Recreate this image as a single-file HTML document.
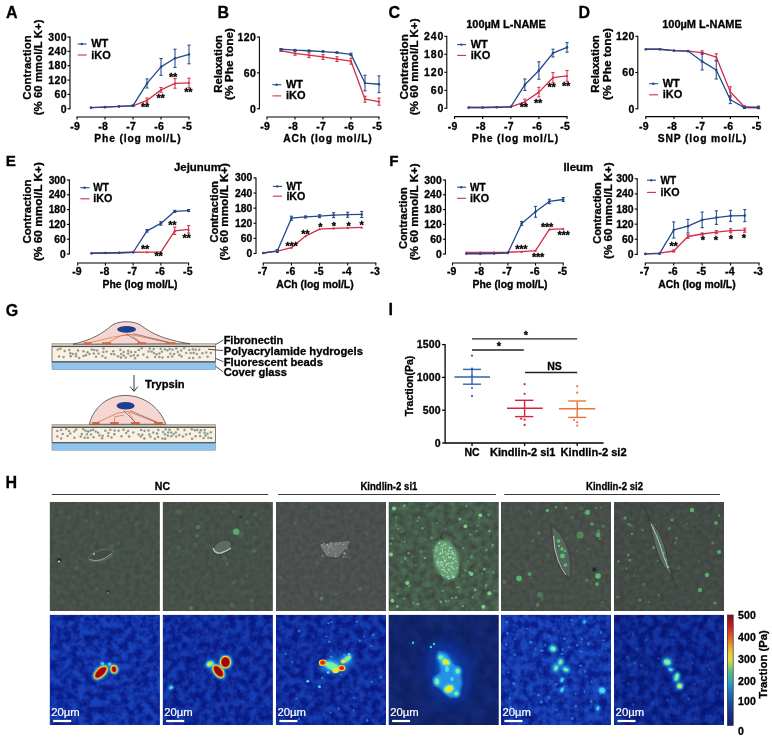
<!DOCTYPE html>
<html lang="en"><head><meta charset="utf-8"><title>Figure</title>
<style>
html,body{margin:0;padding:0;background:#fff;overflow:hidden}
svg{display:block}
text{font-family:"Liberation Sans",sans-serif;font-weight:bold;stroke:#000;stroke-width:0.3px}
</style></head><body>
<svg width="772" height="739" viewBox="0 0 772 739">
<rect width="772" height="739" fill="#fff"/>
<line x1="70" y1="36.5" x2="70" y2="109.3" stroke="#000" stroke-width="1.1" />
<line x1="67.5" y1="108.8" x2="70" y2="108.8" stroke="#000" stroke-width="1.1" />
<text x="66.9" y="112.5" font-size="10.5" text-anchor="end" fill="#000" font-weight="bold" letter-spacing="0.4">0</text>
<line x1="67.5" y1="94.44" x2="70" y2="94.44" stroke="#000" stroke-width="1.1" />
<text x="66.9" y="98.14" font-size="10.5" text-anchor="end" fill="#000" font-weight="bold" letter-spacing="0.4">60</text>
<line x1="67.5" y1="80.08" x2="70" y2="80.08" stroke="#000" stroke-width="1.1" />
<text x="66.9" y="83.78" font-size="10.5" text-anchor="end" fill="#000" font-weight="bold" letter-spacing="0.4">120</text>
<line x1="67.5" y1="65.72" x2="70" y2="65.72" stroke="#000" stroke-width="1.1" />
<text x="66.9" y="69.42" font-size="10.5" text-anchor="end" fill="#000" font-weight="bold" letter-spacing="0.4">180</text>
<line x1="67.5" y1="51.36" x2="70" y2="51.36" stroke="#000" stroke-width="1.1" />
<text x="66.9" y="55.06" font-size="10.5" text-anchor="end" fill="#000" font-weight="bold" letter-spacing="0.4">240</text>
<line x1="67.5" y1="37" x2="70" y2="37" stroke="#000" stroke-width="1.1" />
<text x="66.9" y="40.7" font-size="10.5" text-anchor="end" fill="#000" font-weight="bold" letter-spacing="0.4">300</text>
<line x1="76.5" y1="117" x2="189.5" y2="117" stroke="#000" stroke-width="1.1" />
<line x1="77" y1="117" x2="77" y2="119.5" stroke="#000" stroke-width="1.1" />
<text x="75.2" y="130" font-size="10.5" text-anchor="middle" fill="#000" font-weight="bold" letter-spacing="0.3">-9</text>
<line x1="105" y1="117" x2="105" y2="119.5" stroke="#000" stroke-width="1.1" />
<text x="103.2" y="130" font-size="10.5" text-anchor="middle" fill="#000" font-weight="bold" letter-spacing="0.3">-8</text>
<line x1="133" y1="117" x2="133" y2="119.5" stroke="#000" stroke-width="1.1" />
<text x="131.2" y="130" font-size="10.5" text-anchor="middle" fill="#000" font-weight="bold" letter-spacing="0.3">-7</text>
<line x1="161" y1="117" x2="161" y2="119.5" stroke="#000" stroke-width="1.1" />
<text x="159.2" y="130" font-size="10.5" text-anchor="middle" fill="#000" font-weight="bold" letter-spacing="0.3">-6</text>
<line x1="189" y1="117" x2="189" y2="119.5" stroke="#000" stroke-width="1.1" />
<text x="187.2" y="130" font-size="10.5" text-anchor="middle" fill="#000" font-weight="bold" letter-spacing="0.3">-5</text>
<text x="137.9" y="142.3" font-size="10.3" text-anchor="middle" fill="#000" font-weight="bold" letter-spacing="0.85">Phe (log mol/L)</text>
<text transform="translate(30.8,67.4) rotate(-90)" font-size="11.3" text-anchor="middle" letter-spacing="0.1">Contraction</text>
<text transform="translate(42,67.4) rotate(-90)" font-size="11.3" text-anchor="middle" letter-spacing="0.1">(% 60 mmol/L K+)</text>
<line x1="133" y1="105.45" x2="133" y2="106.41" stroke="#d42d48" stroke-width="1.05" />
<line x1="131.4" y1="105.45" x2="134.6" y2="105.45" stroke="#d42d48" stroke-width="1.05" />
<line x1="131.4" y1="106.41" x2="134.6" y2="106.41" stroke="#d42d48" stroke-width="1.05" />
<line x1="147" y1="98.03" x2="147" y2="102.82" stroke="#d42d48" stroke-width="1.05" />
<line x1="145.4" y1="98.03" x2="148.6" y2="98.03" stroke="#d42d48" stroke-width="1.05" />
<line x1="145.4" y1="102.82" x2="148.6" y2="102.82" stroke="#d42d48" stroke-width="1.05" />
<line x1="161" y1="87.5" x2="161" y2="92.29" stroke="#d42d48" stroke-width="1.05" />
<line x1="159.4" y1="87.5" x2="162.6" y2="87.5" stroke="#d42d48" stroke-width="1.05" />
<line x1="159.4" y1="92.29" x2="162.6" y2="92.29" stroke="#d42d48" stroke-width="1.05" />
<line x1="175" y1="78.64" x2="175" y2="88.22" stroke="#d42d48" stroke-width="1.05" />
<line x1="173.4" y1="78.64" x2="176.6" y2="78.64" stroke="#d42d48" stroke-width="1.05" />
<line x1="173.4" y1="88.22" x2="176.6" y2="88.22" stroke="#d42d48" stroke-width="1.05" />
<line x1="189" y1="78.17" x2="189" y2="87.74" stroke="#d42d48" stroke-width="1.05" />
<line x1="187.4" y1="78.17" x2="190.6" y2="78.17" stroke="#d42d48" stroke-width="1.05" />
<line x1="187.4" y1="87.74" x2="190.6" y2="87.74" stroke="#d42d48" stroke-width="1.05" />
<polyline points="91,107.6 105,107.12 119,106.41 133,105.93 147,100.42 161,89.89 175,83.43 189,82.95" fill="none" stroke="#d42d48" stroke-width="1.3" stroke-linejoin="round"/>
<path d="M89.6,108.7 L92.4,108.7 L91,106.2 Z" fill="#d42d48"/>
<path d="M103.6,108.22 L106.4,108.22 L105,105.72 Z" fill="#d42d48"/>
<path d="M117.6,107.51 L120.4,107.51 L119,105.01 Z" fill="#d42d48"/>
<path d="M131.6,107.03 L134.4,107.03 L133,104.53 Z" fill="#d42d48"/>
<path d="M145.6,101.52 L148.4,101.52 L147,99.02 Z" fill="#d42d48"/>
<path d="M159.6,90.99 L162.4,90.99 L161,88.49 Z" fill="#d42d48"/>
<path d="M173.6,84.53 L176.4,84.53 L175,82.03 Z" fill="#d42d48"/>
<path d="M187.6,84.05 L190.4,84.05 L189,81.55 Z" fill="#d42d48"/>
<line x1="133" y1="104.97" x2="133" y2="106.41" stroke="#23498a" stroke-width="1.05" />
<line x1="131.4" y1="104.97" x2="134.6" y2="104.97" stroke="#23498a" stroke-width="1.05" />
<line x1="131.4" y1="106.41" x2="134.6" y2="106.41" stroke="#23498a" stroke-width="1.05" />
<line x1="147" y1="78.88" x2="147" y2="87.98" stroke="#23498a" stroke-width="1.05" />
<line x1="145.4" y1="78.88" x2="148.6" y2="78.88" stroke="#23498a" stroke-width="1.05" />
<line x1="145.4" y1="87.98" x2="148.6" y2="87.98" stroke="#23498a" stroke-width="1.05" />
<line x1="161" y1="58.54" x2="161" y2="75.29" stroke="#23498a" stroke-width="1.05" />
<line x1="159.4" y1="58.54" x2="162.6" y2="58.54" stroke="#23498a" stroke-width="1.05" />
<line x1="159.4" y1="75.29" x2="162.6" y2="75.29" stroke="#23498a" stroke-width="1.05" />
<line x1="175" y1="49.21" x2="175" y2="67.4" stroke="#23498a" stroke-width="1.05" />
<line x1="173.4" y1="49.21" x2="176.6" y2="49.21" stroke="#23498a" stroke-width="1.05" />
<line x1="173.4" y1="67.4" x2="176.6" y2="67.4" stroke="#23498a" stroke-width="1.05" />
<line x1="189" y1="45.14" x2="189" y2="63.81" stroke="#23498a" stroke-width="1.05" />
<line x1="187.4" y1="45.14" x2="190.6" y2="45.14" stroke="#23498a" stroke-width="1.05" />
<line x1="187.4" y1="63.81" x2="190.6" y2="63.81" stroke="#23498a" stroke-width="1.05" />
<polyline points="91,107.6 105,107.12 119,106.41 133,105.69 147,83.43 161,66.92 175,58.3 189,54.47" fill="none" stroke="#23498a" stroke-width="1.3" stroke-linejoin="round"/>
<circle cx="91" cy="107.6" r="1.3" fill="#23498a"/>
<circle cx="105" cy="107.12" r="1.3" fill="#23498a"/>
<circle cx="119" cy="106.41" r="1.3" fill="#23498a"/>
<circle cx="133" cy="105.69" r="1.3" fill="#23498a"/>
<circle cx="147" cy="83.43" r="1.3" fill="#23498a"/>
<circle cx="161" cy="66.92" r="1.3" fill="#23498a"/>
<circle cx="175" cy="58.3" r="1.3" fill="#23498a"/>
<circle cx="189" cy="54.47" r="1.3" fill="#23498a"/>
<line x1="77.7" y1="44" x2="86.6" y2="44" stroke="#23498a" stroke-width="1.1" />
<circle cx="81.85" cy="44" r="1.2" fill="#23498a"/>
<text x="91.2" y="46.9" font-size="11" text-anchor="start" fill="#000" font-weight="bold" textLength="17.1" lengthAdjust="spacingAndGlyphs">WT</text>
<line x1="77.7" y1="55" x2="86.6" y2="55" stroke="#d42d48" stroke-width="1.1" />
<text x="91.2" y="58.5" font-size="11" text-anchor="start" fill="#000" font-weight="bold" >iKO</text>
<text x="145" y="110.9" font-size="11" text-anchor="middle" fill="#000" font-weight="bold" letter-spacing="-0.3">**</text>
<text x="160.6" y="101.6" font-size="11" text-anchor="middle" fill="#000" font-weight="bold" letter-spacing="-0.3">**</text>
<text x="173" y="81.2" font-size="11" text-anchor="middle" fill="#000" font-weight="bold" letter-spacing="-0.3">**</text>
<text x="188.3" y="96.4" font-size="11" text-anchor="middle" fill="#000" font-weight="bold" letter-spacing="-0.3">**</text>
<line x1="259.4" y1="36.5" x2="259.4" y2="109.3" stroke="#000" stroke-width="1.1" />
<line x1="256.9" y1="108.8" x2="259.4" y2="108.8" stroke="#000" stroke-width="1.1" />
<text x="256.3" y="112.5" font-size="10.5" text-anchor="end" fill="#000" font-weight="bold" letter-spacing="0.4">0</text>
<line x1="256.9" y1="72.9" x2="259.4" y2="72.9" stroke="#000" stroke-width="1.1" />
<text x="256.3" y="76.6" font-size="10.5" text-anchor="end" fill="#000" font-weight="bold" letter-spacing="0.4">60</text>
<line x1="256.9" y1="37" x2="259.4" y2="37" stroke="#000" stroke-width="1.1" />
<text x="256.3" y="40.7" font-size="10.5" text-anchor="end" fill="#000" font-weight="bold" letter-spacing="0.4">120</text>
<line x1="266.5" y1="117" x2="379.5" y2="117" stroke="#000" stroke-width="1.1" />
<line x1="267" y1="117" x2="267" y2="119.5" stroke="#000" stroke-width="1.1" />
<text x="265.2" y="130" font-size="10.5" text-anchor="middle" fill="#000" font-weight="bold" letter-spacing="0.3">-9</text>
<line x1="295" y1="117" x2="295" y2="119.5" stroke="#000" stroke-width="1.1" />
<text x="293.2" y="130" font-size="10.5" text-anchor="middle" fill="#000" font-weight="bold" letter-spacing="0.3">-8</text>
<line x1="323" y1="117" x2="323" y2="119.5" stroke="#000" stroke-width="1.1" />
<text x="321.2" y="130" font-size="10.5" text-anchor="middle" fill="#000" font-weight="bold" letter-spacing="0.3">-7</text>
<line x1="351" y1="117" x2="351" y2="119.5" stroke="#000" stroke-width="1.1" />
<text x="349.2" y="130" font-size="10.5" text-anchor="middle" fill="#000" font-weight="bold" letter-spacing="0.3">-6</text>
<line x1="379" y1="117" x2="379" y2="119.5" stroke="#000" stroke-width="1.1" />
<text x="377.2" y="130" font-size="10.5" text-anchor="middle" fill="#000" font-weight="bold" letter-spacing="0.3">-5</text>
<text x="327.9" y="142.3" font-size="10.3" text-anchor="middle" fill="#000" font-weight="bold" letter-spacing="0.85">ACh (log mol/L)</text>
<text transform="translate(221.6,64) rotate(-90)" font-size="11.3" text-anchor="middle" textLength="57.6" lengthAdjust="spacingAndGlyphs">Relaxation</text>
<text transform="translate(232.6,64) rotate(-90)" font-size="11.3" text-anchor="middle" textLength="72" lengthAdjust="spacingAndGlyphs">(% Phe tone)</text>
<line x1="281" y1="50.16" x2="281" y2="51.36" stroke="#d42d48" stroke-width="1.05" />
<line x1="279.4" y1="50.16" x2="282.6" y2="50.16" stroke="#d42d48" stroke-width="1.05" />
<line x1="279.4" y1="51.36" x2="282.6" y2="51.36" stroke="#d42d48" stroke-width="1.05" />
<line x1="295" y1="51.6" x2="295" y2="55.19" stroke="#d42d48" stroke-width="1.05" />
<line x1="293.4" y1="51.6" x2="296.6" y2="51.6" stroke="#d42d48" stroke-width="1.05" />
<line x1="293.4" y1="55.19" x2="296.6" y2="55.19" stroke="#d42d48" stroke-width="1.05" />
<line x1="309" y1="52.8" x2="309" y2="57.58" stroke="#d42d48" stroke-width="1.05" />
<line x1="307.4" y1="52.8" x2="310.6" y2="52.8" stroke="#d42d48" stroke-width="1.05" />
<line x1="307.4" y1="57.58" x2="310.6" y2="57.58" stroke="#d42d48" stroke-width="1.05" />
<line x1="323" y1="54.59" x2="323" y2="59.38" stroke="#d42d48" stroke-width="1.05" />
<line x1="321.4" y1="54.59" x2="324.6" y2="54.59" stroke="#d42d48" stroke-width="1.05" />
<line x1="321.4" y1="59.38" x2="324.6" y2="59.38" stroke="#d42d48" stroke-width="1.05" />
<line x1="337" y1="56.75" x2="337" y2="61.53" stroke="#d42d48" stroke-width="1.05" />
<line x1="335.4" y1="56.75" x2="338.6" y2="56.75" stroke="#d42d48" stroke-width="1.05" />
<line x1="335.4" y1="61.53" x2="338.6" y2="61.53" stroke="#d42d48" stroke-width="1.05" />
<line x1="351" y1="58.18" x2="351" y2="64.16" stroke="#d42d48" stroke-width="1.05" />
<line x1="349.4" y1="58.18" x2="352.6" y2="58.18" stroke="#d42d48" stroke-width="1.05" />
<line x1="349.4" y1="64.16" x2="352.6" y2="64.16" stroke="#d42d48" stroke-width="1.05" />
<line x1="365" y1="96.23" x2="365" y2="102.22" stroke="#d42d48" stroke-width="1.05" />
<line x1="363.4" y1="96.23" x2="366.6" y2="96.23" stroke="#d42d48" stroke-width="1.05" />
<line x1="363.4" y1="102.22" x2="366.6" y2="102.22" stroke="#d42d48" stroke-width="1.05" />
<line x1="379" y1="98.03" x2="379" y2="105.21" stroke="#d42d48" stroke-width="1.05" />
<line x1="377.4" y1="98.03" x2="380.6" y2="98.03" stroke="#d42d48" stroke-width="1.05" />
<line x1="377.4" y1="105.21" x2="380.6" y2="105.21" stroke="#d42d48" stroke-width="1.05" />
<polyline points="281,50.76 295,53.39 309,55.19 323,56.98 337,59.14 351,61.17 365,99.23 379,101.62" fill="none" stroke="#d42d48" stroke-width="1.3" stroke-linejoin="round"/>
<path d="M279.6,51.86 L282.4,51.86 L281,49.36 Z" fill="#d42d48"/>
<path d="M293.6,54.49 L296.4,54.49 L295,51.99 Z" fill="#d42d48"/>
<path d="M307.6,56.29 L310.4,56.29 L309,53.79 Z" fill="#d42d48"/>
<path d="M321.6,58.08 L324.4,58.08 L323,55.58 Z" fill="#d42d48"/>
<path d="M335.6,60.24 L338.4,60.24 L337,57.74 Z" fill="#d42d48"/>
<path d="M349.6,62.27 L352.4,62.27 L351,59.77 Z" fill="#d42d48"/>
<path d="M363.6,100.33 L366.4,100.33 L365,97.83 Z" fill="#d42d48"/>
<path d="M377.6,102.72 L380.4,102.72 L379,100.22 Z" fill="#d42d48"/>
<line x1="281" y1="48.61" x2="281" y2="49.8" stroke="#23498a" stroke-width="1.05" />
<line x1="279.4" y1="48.61" x2="282.6" y2="48.61" stroke="#23498a" stroke-width="1.05" />
<line x1="279.4" y1="49.8" x2="282.6" y2="49.8" stroke="#23498a" stroke-width="1.05" />
<line x1="295" y1="49.56" x2="295" y2="50.76" stroke="#23498a" stroke-width="1.05" />
<line x1="293.4" y1="49.56" x2="296.6" y2="49.56" stroke="#23498a" stroke-width="1.05" />
<line x1="293.4" y1="50.76" x2="296.6" y2="50.76" stroke="#23498a" stroke-width="1.05" />
<line x1="309" y1="50.16" x2="309" y2="51.36" stroke="#23498a" stroke-width="1.05" />
<line x1="307.4" y1="50.16" x2="310.6" y2="50.16" stroke="#23498a" stroke-width="1.05" />
<line x1="307.4" y1="51.36" x2="310.6" y2="51.36" stroke="#23498a" stroke-width="1.05" />
<line x1="323" y1="50.94" x2="323" y2="52.14" stroke="#23498a" stroke-width="1.05" />
<line x1="321.4" y1="50.94" x2="324.6" y2="50.94" stroke="#23498a" stroke-width="1.05" />
<line x1="321.4" y1="52.14" x2="324.6" y2="52.14" stroke="#23498a" stroke-width="1.05" />
<line x1="337" y1="51.96" x2="337" y2="53.16" stroke="#23498a" stroke-width="1.05" />
<line x1="335.4" y1="51.96" x2="338.6" y2="51.96" stroke="#23498a" stroke-width="1.05" />
<line x1="335.4" y1="53.16" x2="338.6" y2="53.16" stroke="#23498a" stroke-width="1.05" />
<line x1="351" y1="53.16" x2="351" y2="55.55" stroke="#23498a" stroke-width="1.05" />
<line x1="349.4" y1="53.16" x2="352.6" y2="53.16" stroke="#23498a" stroke-width="1.05" />
<line x1="349.4" y1="55.55" x2="352.6" y2="55.55" stroke="#23498a" stroke-width="1.05" />
<line x1="365" y1="75.29" x2="365" y2="90.85" stroke="#23498a" stroke-width="1.05" />
<line x1="363.4" y1="75.29" x2="366.6" y2="75.29" stroke="#23498a" stroke-width="1.05" />
<line x1="363.4" y1="90.85" x2="366.6" y2="90.85" stroke="#23498a" stroke-width="1.05" />
<line x1="379" y1="75.89" x2="379" y2="92.64" stroke="#23498a" stroke-width="1.05" />
<line x1="377.4" y1="75.89" x2="380.6" y2="75.89" stroke="#23498a" stroke-width="1.05" />
<line x1="377.4" y1="92.64" x2="380.6" y2="92.64" stroke="#23498a" stroke-width="1.05" />
<polyline points="281,49.21 295,50.16 309,50.76 323,51.54 337,52.56 351,54.35 365,83.07 379,84.27" fill="none" stroke="#23498a" stroke-width="1.3" stroke-linejoin="round"/>
<circle cx="281" cy="49.21" r="1.3" fill="#23498a"/>
<circle cx="295" cy="50.16" r="1.3" fill="#23498a"/>
<circle cx="309" cy="50.76" r="1.3" fill="#23498a"/>
<circle cx="323" cy="51.54" r="1.3" fill="#23498a"/>
<circle cx="337" cy="52.56" r="1.3" fill="#23498a"/>
<circle cx="351" cy="54.35" r="1.3" fill="#23498a"/>
<circle cx="365" cy="83.07" r="1.3" fill="#23498a"/>
<circle cx="379" cy="84.27" r="1.3" fill="#23498a"/>
<line x1="272.4" y1="84.7" x2="281.3" y2="84.7" stroke="#23498a" stroke-width="1.1" />
<circle cx="276.55" cy="84.7" r="1.2" fill="#23498a"/>
<text x="285.9" y="87.6" font-size="11" text-anchor="start" fill="#000" font-weight="bold" textLength="17.1" lengthAdjust="spacingAndGlyphs">WT</text>
<line x1="272.4" y1="95.9" x2="281.3" y2="95.9" stroke="#d42d48" stroke-width="1.1" />
<text x="285.9" y="99.4" font-size="11" text-anchor="start" fill="#000" font-weight="bold" >iKO</text>
<line x1="446.8" y1="35.8" x2="446.8" y2="108.8" stroke="#000" stroke-width="1.1" />
<line x1="444.3" y1="108.3" x2="446.8" y2="108.3" stroke="#000" stroke-width="1.1" />
<text x="444.2" y="112" font-size="10.5" text-anchor="end" fill="#000" font-weight="bold" letter-spacing="0.9">0</text>
<line x1="444.3" y1="90.3" x2="446.8" y2="90.3" stroke="#000" stroke-width="1.1" />
<text x="444.2" y="94" font-size="10.5" text-anchor="end" fill="#000" font-weight="bold" letter-spacing="0.9">60</text>
<line x1="444.3" y1="72.3" x2="446.8" y2="72.3" stroke="#000" stroke-width="1.1" />
<text x="444.2" y="76" font-size="10.5" text-anchor="end" fill="#000" font-weight="bold" letter-spacing="0.9">120</text>
<line x1="444.3" y1="54.3" x2="446.8" y2="54.3" stroke="#000" stroke-width="1.1" />
<text x="444.2" y="58" font-size="10.5" text-anchor="end" fill="#000" font-weight="bold" letter-spacing="0.9">180</text>
<line x1="444.3" y1="36.3" x2="446.8" y2="36.3" stroke="#000" stroke-width="1.1" />
<text x="444.2" y="40" font-size="10.5" text-anchor="end" fill="#000" font-weight="bold" letter-spacing="0.9">240</text>
<line x1="454.1" y1="116.6" x2="567.5" y2="116.6" stroke="#000" stroke-width="1.1" />
<line x1="454.6" y1="116.6" x2="454.6" y2="119.1" stroke="#000" stroke-width="1.1" />
<text x="452.8" y="129.6" font-size="10.5" text-anchor="middle" fill="#000" font-weight="bold" letter-spacing="0.3">-9</text>
<line x1="482.7" y1="116.6" x2="482.7" y2="119.1" stroke="#000" stroke-width="1.1" />
<text x="480.9" y="129.6" font-size="10.5" text-anchor="middle" fill="#000" font-weight="bold" letter-spacing="0.3">-8</text>
<line x1="510.8" y1="116.6" x2="510.8" y2="119.1" stroke="#000" stroke-width="1.1" />
<text x="509" y="129.6" font-size="10.5" text-anchor="middle" fill="#000" font-weight="bold" letter-spacing="0.3">-7</text>
<line x1="538.9" y1="116.6" x2="538.9" y2="119.1" stroke="#000" stroke-width="1.1" />
<text x="537.1" y="129.6" font-size="10.5" text-anchor="middle" fill="#000" font-weight="bold" letter-spacing="0.3">-6</text>
<line x1="567" y1="116.6" x2="567" y2="119.1" stroke="#000" stroke-width="1.1" />
<text x="565.2" y="129.6" font-size="10.5" text-anchor="middle" fill="#000" font-weight="bold" letter-spacing="0.3">-5</text>
<text x="515.4" y="142.3" font-size="10.3" text-anchor="middle" fill="#000" font-weight="bold" letter-spacing="0.85">Phe (log mol/L)</text>
<text transform="translate(408,66.9) rotate(-90)" font-size="11.3" text-anchor="middle" textLength="65.4" lengthAdjust="spacingAndGlyphs">Contraction</text>
<text transform="translate(417.6,66.9) rotate(-90)" font-size="11.3" text-anchor="middle" textLength="96.8" lengthAdjust="spacingAndGlyphs">(% 60 mmol/L K+)</text>
<line x1="524.85" y1="99.12" x2="524.85" y2="104.52" stroke="#d42d48" stroke-width="1.05" />
<line x1="523.25" y1="99.12" x2="526.45" y2="99.12" stroke="#d42d48" stroke-width="1.05" />
<line x1="523.25" y1="104.52" x2="526.45" y2="104.52" stroke="#d42d48" stroke-width="1.05" />
<line x1="538.9" y1="87.3" x2="538.9" y2="96.9" stroke="#d42d48" stroke-width="1.05" />
<line x1="537.3" y1="87.3" x2="540.5" y2="87.3" stroke="#d42d48" stroke-width="1.05" />
<line x1="537.3" y1="96.9" x2="540.5" y2="96.9" stroke="#d42d48" stroke-width="1.05" />
<line x1="552.95" y1="72.6" x2="552.95" y2="82.8" stroke="#d42d48" stroke-width="1.05" />
<line x1="551.35" y1="72.6" x2="554.55" y2="72.6" stroke="#d42d48" stroke-width="1.05" />
<line x1="551.35" y1="82.8" x2="554.55" y2="82.8" stroke="#d42d48" stroke-width="1.05" />
<line x1="567" y1="70.5" x2="567" y2="81.3" stroke="#d42d48" stroke-width="1.05" />
<line x1="565.4" y1="70.5" x2="568.6" y2="70.5" stroke="#d42d48" stroke-width="1.05" />
<line x1="565.4" y1="81.3" x2="568.6" y2="81.3" stroke="#d42d48" stroke-width="1.05" />
<polyline points="468.65,107.52 482.7,107.52 496.75,107.25 510.8,106.8 524.85,101.82 538.9,92.1 552.95,77.7 567,75.9" fill="none" stroke="#d42d48" stroke-width="1.3" stroke-linejoin="round"/>
<path d="M467.25,108.62 L470.05,108.62 L468.65,106.12 Z" fill="#d42d48"/>
<path d="M481.3,108.62 L484.1,108.62 L482.7,106.12 Z" fill="#d42d48"/>
<path d="M495.35,108.35 L498.15,108.35 L496.75,105.85 Z" fill="#d42d48"/>
<path d="M509.4,107.9 L512.2,107.9 L510.8,105.4 Z" fill="#d42d48"/>
<path d="M523.45,102.92 L526.25,102.92 L524.85,100.42 Z" fill="#d42d48"/>
<path d="M537.5,93.2 L540.3,93.2 L538.9,90.7 Z" fill="#d42d48"/>
<path d="M551.55,78.8 L554.35,78.8 L552.95,76.3 Z" fill="#d42d48"/>
<path d="M565.6,77 L568.4,77 L567,74.5 Z" fill="#d42d48"/>
<line x1="524.85" y1="79.02" x2="524.85" y2="90.42" stroke="#23498a" stroke-width="1.05" />
<line x1="523.25" y1="79.02" x2="526.45" y2="79.02" stroke="#23498a" stroke-width="1.05" />
<line x1="523.25" y1="90.42" x2="526.45" y2="90.42" stroke="#23498a" stroke-width="1.05" />
<line x1="538.9" y1="61.8" x2="538.9" y2="79.2" stroke="#23498a" stroke-width="1.05" />
<line x1="537.3" y1="61.8" x2="540.5" y2="61.8" stroke="#23498a" stroke-width="1.05" />
<line x1="537.3" y1="79.2" x2="540.5" y2="79.2" stroke="#23498a" stroke-width="1.05" />
<line x1="552.95" y1="49.2" x2="552.95" y2="57" stroke="#23498a" stroke-width="1.05" />
<line x1="551.35" y1="49.2" x2="554.55" y2="49.2" stroke="#23498a" stroke-width="1.05" />
<line x1="551.35" y1="57" x2="554.55" y2="57" stroke="#23498a" stroke-width="1.05" />
<line x1="567" y1="42.6" x2="567" y2="52.2" stroke="#23498a" stroke-width="1.05" />
<line x1="565.4" y1="42.6" x2="568.6" y2="42.6" stroke="#23498a" stroke-width="1.05" />
<line x1="565.4" y1="52.2" x2="568.6" y2="52.2" stroke="#23498a" stroke-width="1.05" />
<polyline points="468.65,107.52 482.7,107.52 496.75,107.25 510.8,106.8 524.85,84.72 538.9,70.5 552.95,53.1 567,47.4" fill="none" stroke="#23498a" stroke-width="1.3" stroke-linejoin="round"/>
<circle cx="468.65" cy="107.52" r="1.3" fill="#23498a"/>
<circle cx="482.7" cy="107.52" r="1.3" fill="#23498a"/>
<circle cx="496.75" cy="107.25" r="1.3" fill="#23498a"/>
<circle cx="510.8" cy="106.8" r="1.3" fill="#23498a"/>
<circle cx="524.85" cy="84.72" r="1.3" fill="#23498a"/>
<circle cx="538.9" cy="70.5" r="1.3" fill="#23498a"/>
<circle cx="552.95" cy="53.1" r="1.3" fill="#23498a"/>
<circle cx="567" cy="47.4" r="1.3" fill="#23498a"/>
<line x1="457.2" y1="44.6" x2="466.1" y2="44.6" stroke="#23498a" stroke-width="1.1" />
<circle cx="461.35" cy="44.6" r="1.2" fill="#23498a"/>
<text x="470.7" y="47.5" font-size="11" text-anchor="start" fill="#000" font-weight="bold" textLength="17.1" lengthAdjust="spacingAndGlyphs">WT</text>
<line x1="457.2" y1="55.4" x2="466.1" y2="55.4" stroke="#d42d48" stroke-width="1.1" />
<text x="470.7" y="58.9" font-size="11" text-anchor="start" fill="#000" font-weight="bold" >iKO</text>
<text x="523.8" y="111.4" font-size="11" text-anchor="middle" fill="#000" font-weight="bold" letter-spacing="-0.3">**</text>
<text x="538" y="107" font-size="11" text-anchor="middle" fill="#000" font-weight="bold" letter-spacing="-0.3">**</text>
<text x="551.5" y="91.2" font-size="11" text-anchor="middle" fill="#000" font-weight="bold" letter-spacing="-0.3">**</text>
<text x="566" y="89.9" font-size="11" text-anchor="middle" fill="#000" font-weight="bold" letter-spacing="-0.3">**</text>
<text x="506" y="27.9" font-size="11" text-anchor="middle" fill="#000" font-weight="bold" >100µM L-NAME</text>
<line x1="637.8" y1="35.8" x2="637.8" y2="109.3" stroke="#000" stroke-width="1.1" />
<line x1="635.3" y1="108.8" x2="637.8" y2="108.8" stroke="#000" stroke-width="1.1" />
<text x="634.7" y="112.5" font-size="10.5" text-anchor="end" fill="#000" font-weight="bold" letter-spacing="0.4">0</text>
<line x1="635.3" y1="72.55" x2="637.8" y2="72.55" stroke="#000" stroke-width="1.1" />
<text x="634.7" y="76.25" font-size="10.5" text-anchor="end" fill="#000" font-weight="bold" letter-spacing="0.4">60</text>
<line x1="635.3" y1="36.3" x2="637.8" y2="36.3" stroke="#000" stroke-width="1.1" />
<text x="634.7" y="40" font-size="10.5" text-anchor="end" fill="#000" font-weight="bold" letter-spacing="0.4">120</text>
<line x1="645.3" y1="116.6" x2="759" y2="116.6" stroke="#000" stroke-width="1.1" />
<line x1="645.8" y1="116.6" x2="645.8" y2="119.1" stroke="#000" stroke-width="1.1" />
<text x="644" y="129.6" font-size="10.5" text-anchor="middle" fill="#000" font-weight="bold" letter-spacing="0.3">-9</text>
<line x1="673.97" y1="116.6" x2="673.97" y2="119.1" stroke="#000" stroke-width="1.1" />
<text x="672.17" y="129.6" font-size="10.5" text-anchor="middle" fill="#000" font-weight="bold" letter-spacing="0.3">-8</text>
<line x1="702.15" y1="116.6" x2="702.15" y2="119.1" stroke="#000" stroke-width="1.1" />
<text x="700.35" y="129.6" font-size="10.5" text-anchor="middle" fill="#000" font-weight="bold" letter-spacing="0.3">-7</text>
<line x1="730.33" y1="116.6" x2="730.33" y2="119.1" stroke="#000" stroke-width="1.1" />
<text x="728.53" y="129.6" font-size="10.5" text-anchor="middle" fill="#000" font-weight="bold" letter-spacing="0.3">-6</text>
<line x1="758.5" y1="116.6" x2="758.5" y2="119.1" stroke="#000" stroke-width="1.1" />
<text x="756.7" y="129.6" font-size="10.5" text-anchor="middle" fill="#000" font-weight="bold" letter-spacing="0.3">-5</text>
<text x="702.4" y="142.3" font-size="10.3" text-anchor="middle" fill="#000" font-weight="bold" letter-spacing="0.85">SNP (log mol/L)</text>
<text transform="translate(598.9,64) rotate(-90)" font-size="11.3" text-anchor="middle" textLength="57.6" lengthAdjust="spacingAndGlyphs">Relaxation</text>
<text transform="translate(610.9,64) rotate(-90)" font-size="11.3" text-anchor="middle" textLength="72" lengthAdjust="spacingAndGlyphs">(% Phe tone)</text>
<line x1="702.15" y1="50.8" x2="702.15" y2="54.42" stroke="#d42d48" stroke-width="1.05" />
<line x1="700.55" y1="50.8" x2="703.75" y2="50.8" stroke="#d42d48" stroke-width="1.05" />
<line x1="700.55" y1="54.42" x2="703.75" y2="54.42" stroke="#d42d48" stroke-width="1.05" />
<line x1="716.24" y1="53.7" x2="716.24" y2="60.35" stroke="#d42d48" stroke-width="1.05" />
<line x1="714.64" y1="53.7" x2="717.84" y2="53.7" stroke="#d42d48" stroke-width="1.05" />
<line x1="714.64" y1="60.35" x2="717.84" y2="60.35" stroke="#d42d48" stroke-width="1.05" />
<line x1="730.33" y1="86.81" x2="730.33" y2="97.08" stroke="#d42d48" stroke-width="1.05" />
<line x1="728.73" y1="86.81" x2="731.93" y2="86.81" stroke="#d42d48" stroke-width="1.05" />
<line x1="728.73" y1="97.08" x2="731.93" y2="97.08" stroke="#d42d48" stroke-width="1.05" />
<line x1="744.41" y1="105.84" x2="744.41" y2="107.65" stroke="#d42d48" stroke-width="1.05" />
<line x1="742.81" y1="105.84" x2="746.01" y2="105.84" stroke="#d42d48" stroke-width="1.05" />
<line x1="742.81" y1="107.65" x2="746.01" y2="107.65" stroke="#d42d48" stroke-width="1.05" />
<line x1="758.5" y1="106.02" x2="758.5" y2="108.44" stroke="#d42d48" stroke-width="1.05" />
<line x1="756.9" y1="106.02" x2="760.1" y2="106.02" stroke="#d42d48" stroke-width="1.05" />
<line x1="756.9" y1="108.44" x2="760.1" y2="108.44" stroke="#d42d48" stroke-width="1.05" />
<polyline points="645.8,49.23 659.89,49.23 673.97,50.56 688.06,51.04 702.15,52.61 716.24,57.02 730.33,91.94 744.41,106.75 758.5,107.23" fill="none" stroke="#d42d48" stroke-width="1.3" stroke-linejoin="round"/>
<path d="M644.4,50.33 L647.2,50.33 L645.8,47.83 Z" fill="#d42d48"/>
<path d="M658.49,50.33 L661.29,50.33 L659.89,47.83 Z" fill="#d42d48"/>
<path d="M672.57,51.66 L675.37,51.66 L673.97,49.16 Z" fill="#d42d48"/>
<path d="M686.66,52.14 L689.46,52.14 L688.06,49.64 Z" fill="#d42d48"/>
<path d="M700.75,53.71 L703.55,53.71 L702.15,51.21 Z" fill="#d42d48"/>
<path d="M714.84,58.12 L717.64,58.12 L716.24,55.62 Z" fill="#d42d48"/>
<path d="M728.93,93.04 L731.73,93.04 L730.33,90.54 Z" fill="#d42d48"/>
<path d="M743.01,107.85 L745.81,107.85 L744.41,105.35 Z" fill="#d42d48"/>
<path d="M757.1,108.33 L759.9,108.33 L758.5,105.83 Z" fill="#d42d48"/>
<line x1="702.15" y1="52.97" x2="702.15" y2="69.89" stroke="#23498a" stroke-width="1.05" />
<line x1="700.55" y1="52.97" x2="703.75" y2="52.97" stroke="#23498a" stroke-width="1.05" />
<line x1="700.55" y1="69.89" x2="703.75" y2="69.89" stroke="#23498a" stroke-width="1.05" />
<line x1="716.24" y1="60.89" x2="716.24" y2="79.01" stroke="#23498a" stroke-width="1.05" />
<line x1="714.64" y1="60.89" x2="717.84" y2="60.89" stroke="#23498a" stroke-width="1.05" />
<line x1="714.64" y1="79.01" x2="717.84" y2="79.01" stroke="#23498a" stroke-width="1.05" />
<line x1="730.33" y1="95.87" x2="730.33" y2="103.6" stroke="#23498a" stroke-width="1.05" />
<line x1="728.73" y1="95.87" x2="731.93" y2="95.87" stroke="#23498a" stroke-width="1.05" />
<line x1="728.73" y1="103.6" x2="731.93" y2="103.6" stroke="#23498a" stroke-width="1.05" />
<line x1="744.41" y1="106.69" x2="744.41" y2="108.5" stroke="#23498a" stroke-width="1.05" />
<line x1="742.81" y1="106.69" x2="746.01" y2="106.69" stroke="#23498a" stroke-width="1.05" />
<line x1="742.81" y1="108.5" x2="746.01" y2="108.5" stroke="#23498a" stroke-width="1.05" />
<line x1="758.5" y1="106.87" x2="758.5" y2="108.68" stroke="#23498a" stroke-width="1.05" />
<line x1="756.9" y1="106.87" x2="760.1" y2="106.87" stroke="#23498a" stroke-width="1.05" />
<line x1="756.9" y1="108.68" x2="760.1" y2="108.68" stroke="#23498a" stroke-width="1.05" />
<polyline points="645.8,49.23 659.89,49.23 673.97,50.56 688.06,51.04 702.15,61.43 716.24,69.95 730.33,99.74 744.41,107.59 758.5,107.77" fill="none" stroke="#23498a" stroke-width="1.3" stroke-linejoin="round"/>
<circle cx="645.8" cy="49.23" r="1.3" fill="#23498a"/>
<circle cx="659.89" cy="49.23" r="1.3" fill="#23498a"/>
<circle cx="673.97" cy="50.56" r="1.3" fill="#23498a"/>
<circle cx="688.06" cy="51.04" r="1.3" fill="#23498a"/>
<circle cx="702.15" cy="61.43" r="1.3" fill="#23498a"/>
<circle cx="716.24" cy="69.95" r="1.3" fill="#23498a"/>
<circle cx="730.33" cy="99.74" r="1.3" fill="#23498a"/>
<circle cx="744.41" cy="107.59" r="1.3" fill="#23498a"/>
<circle cx="758.5" cy="107.77" r="1.3" fill="#23498a"/>
<line x1="649.2" y1="83.7" x2="658.1" y2="83.7" stroke="#23498a" stroke-width="1.1" />
<circle cx="653.35" cy="83.7" r="1.2" fill="#23498a"/>
<text x="662.7" y="86.6" font-size="11" text-anchor="start" fill="#000" font-weight="bold" textLength="17.1" lengthAdjust="spacingAndGlyphs">WT</text>
<line x1="649.2" y1="94.8" x2="658.1" y2="94.8" stroke="#d42d48" stroke-width="1.1" />
<text x="662.7" y="98.3" font-size="11" text-anchor="start" fill="#000" font-weight="bold" >iKO</text>
<text x="702" y="27.9" font-size="11" text-anchor="middle" fill="#000" font-weight="bold" >100µM L-NAME</text>
<line x1="69.4" y1="179.5" x2="69.4" y2="254.5" stroke="#000" stroke-width="1.1" />
<line x1="66.9" y1="254" x2="69.4" y2="254" stroke="#000" stroke-width="1.1" />
<text x="65.7" y="257.5" font-size="10.2" text-anchor="end" fill="#000" font-weight="bold" >0</text>
<line x1="66.9" y1="239.2" x2="69.4" y2="239.2" stroke="#000" stroke-width="1.1" />
<text x="65.7" y="242.7" font-size="10.2" text-anchor="end" fill="#000" font-weight="bold" >60</text>
<line x1="66.9" y1="224.4" x2="69.4" y2="224.4" stroke="#000" stroke-width="1.1" />
<text x="65.7" y="227.9" font-size="10.2" text-anchor="end" fill="#000" font-weight="bold" >120</text>
<line x1="66.9" y1="209.6" x2="69.4" y2="209.6" stroke="#000" stroke-width="1.1" />
<text x="65.7" y="213.1" font-size="10.2" text-anchor="end" fill="#000" font-weight="bold" >180</text>
<line x1="66.9" y1="194.8" x2="69.4" y2="194.8" stroke="#000" stroke-width="1.1" />
<text x="65.7" y="198.3" font-size="10.2" text-anchor="end" fill="#000" font-weight="bold" >240</text>
<line x1="66.9" y1="180" x2="69.4" y2="180" stroke="#000" stroke-width="1.1" />
<text x="65.7" y="183.5" font-size="10.2" text-anchor="end" fill="#000" font-weight="bold" >300</text>
<line x1="77.2" y1="263" x2="189.1" y2="263" stroke="#000" stroke-width="1.1" />
<line x1="77.7" y1="263" x2="77.7" y2="265.5" stroke="#000" stroke-width="1.1" />
<text x="77" y="274.9" font-size="10.5" text-anchor="middle" fill="#000" font-weight="bold" letter-spacing="0.2">-9</text>
<line x1="105.42" y1="263" x2="105.42" y2="265.5" stroke="#000" stroke-width="1.1" />
<text x="104.72" y="274.9" font-size="10.5" text-anchor="middle" fill="#000" font-weight="bold" letter-spacing="0.2">-8</text>
<line x1="133.15" y1="263" x2="133.15" y2="265.5" stroke="#000" stroke-width="1.1" />
<text x="132.45" y="274.9" font-size="10.5" text-anchor="middle" fill="#000" font-weight="bold" letter-spacing="0.2">-7</text>
<line x1="160.88" y1="263" x2="160.88" y2="265.5" stroke="#000" stroke-width="1.1" />
<text x="160.18" y="274.9" font-size="10.5" text-anchor="middle" fill="#000" font-weight="bold" letter-spacing="0.2">-6</text>
<line x1="188.6" y1="263" x2="188.6" y2="265.5" stroke="#000" stroke-width="1.1" />
<text x="187.9" y="274.9" font-size="10.5" text-anchor="middle" fill="#000" font-weight="bold" letter-spacing="0.2">-5</text>
<text x="140" y="287.5" font-size="10.4" text-anchor="middle" fill="#000" font-weight="bold" letter-spacing="0">Phe (log mol/L)</text>
<text transform="translate(31.4,211.6) rotate(-90)" font-size="10.8" text-anchor="middle" textLength="64" lengthAdjust="spacingAndGlyphs">Contraction</text>
<text transform="translate(41.8,211.6) rotate(-90)" font-size="10.8" text-anchor="middle" textLength="99" lengthAdjust="spacingAndGlyphs">(% 60 mmol/L K+)</text>
<line x1="174.74" y1="227.11" x2="174.74" y2="234.51" stroke="#d42d48" stroke-width="1.05" />
<line x1="173.14" y1="227.11" x2="176.34" y2="227.11" stroke="#d42d48" stroke-width="1.05" />
<line x1="173.14" y1="234.51" x2="176.34" y2="234.51" stroke="#d42d48" stroke-width="1.05" />
<line x1="188.6" y1="225.63" x2="188.6" y2="233.03" stroke="#d42d48" stroke-width="1.05" />
<line x1="187" y1="225.63" x2="190.2" y2="225.63" stroke="#d42d48" stroke-width="1.05" />
<line x1="187" y1="233.03" x2="190.2" y2="233.03" stroke="#d42d48" stroke-width="1.05" />
<polyline points="91.56,253.26 105.42,253.01 119.29,252.77 133.15,252.27 147.01,252.03 160.88,252.03 174.74,230.81 188.6,229.33" fill="none" stroke="#d42d48" stroke-width="1.3" stroke-linejoin="round"/>
<path d="M90.16,254.36 L92.96,254.36 L91.56,251.86 Z" fill="#d42d48"/>
<path d="M104.02,254.11 L106.83,254.11 L105.42,251.61 Z" fill="#d42d48"/>
<path d="M117.89,253.87 L120.69,253.87 L119.29,251.37 Z" fill="#d42d48"/>
<path d="M131.75,253.37 L134.55,253.37 L133.15,250.87 Z" fill="#d42d48"/>
<path d="M145.61,253.13 L148.41,253.13 L147.01,250.63 Z" fill="#d42d48"/>
<path d="M159.47,253.13 L162.28,253.13 L160.88,250.63 Z" fill="#d42d48"/>
<path d="M173.34,231.91 L176.14,231.91 L174.74,229.41 Z" fill="#d42d48"/>
<path d="M187.2,230.43 L190,230.43 L188.6,227.93 Z" fill="#d42d48"/>
<line x1="147.01" y1="229.58" x2="147.01" y2="232.05" stroke="#23498a" stroke-width="1.05" />
<line x1="145.41" y1="229.58" x2="148.61" y2="229.58" stroke="#23498a" stroke-width="1.05" />
<line x1="145.41" y1="232.05" x2="148.61" y2="232.05" stroke="#23498a" stroke-width="1.05" />
<line x1="160.88" y1="221.69" x2="160.88" y2="225.14" stroke="#23498a" stroke-width="1.05" />
<line x1="159.28" y1="221.69" x2="162.47" y2="221.69" stroke="#23498a" stroke-width="1.05" />
<line x1="159.28" y1="225.14" x2="162.47" y2="225.14" stroke="#23498a" stroke-width="1.05" />
<line x1="174.74" y1="210.34" x2="174.74" y2="212.31" stroke="#23498a" stroke-width="1.05" />
<line x1="173.14" y1="210.34" x2="176.34" y2="210.34" stroke="#23498a" stroke-width="1.05" />
<line x1="173.14" y1="212.31" x2="176.34" y2="212.31" stroke="#23498a" stroke-width="1.05" />
<line x1="188.6" y1="209.6" x2="188.6" y2="211.57" stroke="#23498a" stroke-width="1.05" />
<line x1="187" y1="209.6" x2="190.2" y2="209.6" stroke="#23498a" stroke-width="1.05" />
<line x1="187" y1="211.57" x2="190.2" y2="211.57" stroke="#23498a" stroke-width="1.05" />
<polyline points="91.56,253.26 105.42,253.01 119.29,252.77 133.15,252.27 147.01,230.81 160.88,223.41 174.74,211.33 188.6,210.59" fill="none" stroke="#23498a" stroke-width="1.3" stroke-linejoin="round"/>
<circle cx="91.56" cy="253.26" r="1.3" fill="#23498a"/>
<circle cx="105.42" cy="253.01" r="1.3" fill="#23498a"/>
<circle cx="119.29" cy="252.77" r="1.3" fill="#23498a"/>
<circle cx="133.15" cy="252.27" r="1.3" fill="#23498a"/>
<circle cx="147.01" cy="230.81" r="1.3" fill="#23498a"/>
<circle cx="160.88" cy="223.41" r="1.3" fill="#23498a"/>
<circle cx="174.74" cy="211.33" r="1.3" fill="#23498a"/>
<circle cx="188.6" cy="210.59" r="1.3" fill="#23498a"/>
<line x1="80.3" y1="187.7" x2="89.5" y2="187.7" stroke="#23498a" stroke-width="1.1" />
<circle cx="84.6" cy="187.7" r="1.2" fill="#23498a"/>
<text x="93.3" y="191.1" font-size="10.5" text-anchor="start" fill="#000" font-weight="bold" textLength="15.6" lengthAdjust="spacingAndGlyphs">WT</text>
<line x1="80.3" y1="198.8" x2="89.5" y2="198.8" stroke="#d42d48" stroke-width="1.1" />
<text x="93.3" y="202.3" font-size="10.7" text-anchor="start" fill="#000" font-weight="bold" >iKO</text>
<text x="145" y="253.2" font-size="11" text-anchor="middle" fill="#000" font-weight="bold" letter-spacing="-0.3">**</text>
<text x="158.5" y="260.2" font-size="11" text-anchor="middle" fill="#000" font-weight="bold" letter-spacing="-0.3">**</text>
<text x="172.3" y="229.4" font-size="11" text-anchor="middle" fill="#000" font-weight="bold" letter-spacing="-0.3">**</text>
<text x="186.5" y="242.2" font-size="11" text-anchor="middle" fill="#000" font-weight="bold" letter-spacing="-0.3">**</text>
<text x="174" y="170.6" font-size="11.4" text-anchor="start" fill="#000" font-weight="bold" >Jejunum</text>
<line x1="256" y1="177.4" x2="256" y2="254" stroke="#000" stroke-width="1.1" />
<line x1="253.5" y1="253.5" x2="256" y2="253.5" stroke="#000" stroke-width="1.1" />
<text x="252.3" y="257" font-size="10.3" text-anchor="end" fill="#000" font-weight="bold" >0</text>
<line x1="253.5" y1="238.38" x2="256" y2="238.38" stroke="#000" stroke-width="1.1" />
<text x="252.3" y="241.88" font-size="10.3" text-anchor="end" fill="#000" font-weight="bold" >60</text>
<line x1="253.5" y1="223.26" x2="256" y2="223.26" stroke="#000" stroke-width="1.1" />
<text x="252.3" y="226.76" font-size="10.3" text-anchor="end" fill="#000" font-weight="bold" >120</text>
<line x1="253.5" y1="208.14" x2="256" y2="208.14" stroke="#000" stroke-width="1.1" />
<text x="252.3" y="211.64" font-size="10.3" text-anchor="end" fill="#000" font-weight="bold" >180</text>
<line x1="253.5" y1="193.02" x2="256" y2="193.02" stroke="#000" stroke-width="1.1" />
<text x="252.3" y="196.52" font-size="10.3" text-anchor="end" fill="#000" font-weight="bold" >240</text>
<line x1="253.5" y1="177.9" x2="256" y2="177.9" stroke="#000" stroke-width="1.1" />
<text x="252.3" y="181.4" font-size="10.3" text-anchor="end" fill="#000" font-weight="bold" >300</text>
<line x1="262.8" y1="263" x2="376.3" y2="263" stroke="#000" stroke-width="1.1" />
<line x1="263.3" y1="263" x2="263.3" y2="265.5" stroke="#000" stroke-width="1.1" />
<text x="262.6" y="274.9" font-size="10.5" text-anchor="middle" fill="#000" font-weight="bold" letter-spacing="0.2">-7</text>
<line x1="291.43" y1="263" x2="291.43" y2="265.5" stroke="#000" stroke-width="1.1" />
<text x="290.73" y="274.9" font-size="10.5" text-anchor="middle" fill="#000" font-weight="bold" letter-spacing="0.2">-6</text>
<line x1="319.55" y1="263" x2="319.55" y2="265.5" stroke="#000" stroke-width="1.1" />
<text x="318.85" y="274.9" font-size="10.5" text-anchor="middle" fill="#000" font-weight="bold" letter-spacing="0.2">-5</text>
<line x1="347.68" y1="263" x2="347.68" y2="265.5" stroke="#000" stroke-width="1.1" />
<text x="346.98" y="274.9" font-size="10.5" text-anchor="middle" fill="#000" font-weight="bold" letter-spacing="0.2">-4</text>
<line x1="375.8" y1="263" x2="375.8" y2="265.5" stroke="#000" stroke-width="1.1" />
<text x="375.1" y="274.9" font-size="10.5" text-anchor="middle" fill="#000" font-weight="bold" letter-spacing="0.2">-3</text>
<text x="315" y="287.5" font-size="10.4" text-anchor="middle" fill="#000" font-weight="bold" letter-spacing="0">ACh (log mol/L)</text>
<text transform="translate(218.2,211.7) rotate(-90)" font-size="11" text-anchor="middle" textLength="61.5" lengthAdjust="spacingAndGlyphs">Contraction</text>
<text transform="translate(228.4,211.7) rotate(-90)" font-size="11" text-anchor="middle" textLength="97.4" lengthAdjust="spacingAndGlyphs">(% 60 mmol/L K+)</text>
<polyline points="263.3,253 277.36,251.23 291.43,247.7 305.49,236.11 319.55,229.06 333.61,228.3 347.68,227.8 361.74,227.29" fill="none" stroke="#d42d48" stroke-width="1.3" stroke-linejoin="round"/>
<path d="M261.9,254.1 L264.7,254.1 L263.3,251.6 Z" fill="#d42d48"/>
<path d="M275.96,252.33 L278.76,252.33 L277.36,249.83 Z" fill="#d42d48"/>
<path d="M290.03,248.8 L292.82,248.8 L291.43,246.3 Z" fill="#d42d48"/>
<path d="M304.09,237.21 L306.89,237.21 L305.49,234.71 Z" fill="#d42d48"/>
<path d="M318.15,230.16 L320.95,230.16 L319.55,227.66 Z" fill="#d42d48"/>
<path d="M332.21,229.4 L335.01,229.4 L333.61,226.9 Z" fill="#d42d48"/>
<path d="M346.28,228.9 L349.07,228.9 L347.68,226.4 Z" fill="#d42d48"/>
<path d="M360.34,228.39 L363.14,228.39 L361.74,225.89 Z" fill="#d42d48"/>
<line x1="277.36" y1="249.47" x2="277.36" y2="252.49" stroke="#23498a" stroke-width="1.05" />
<line x1="275.76" y1="249.47" x2="278.96" y2="249.47" stroke="#23498a" stroke-width="1.05" />
<line x1="275.76" y1="252.49" x2="278.96" y2="252.49" stroke="#23498a" stroke-width="1.05" />
<line x1="291.43" y1="216.2" x2="291.43" y2="220.24" stroke="#23498a" stroke-width="1.05" />
<line x1="289.82" y1="216.2" x2="293.03" y2="216.2" stroke="#23498a" stroke-width="1.05" />
<line x1="289.82" y1="220.24" x2="293.03" y2="220.24" stroke="#23498a" stroke-width="1.05" />
<line x1="305.49" y1="215.95" x2="305.49" y2="217.97" stroke="#23498a" stroke-width="1.05" />
<line x1="303.89" y1="215.95" x2="307.09" y2="215.95" stroke="#23498a" stroke-width="1.05" />
<line x1="303.89" y1="217.97" x2="307.09" y2="217.97" stroke="#23498a" stroke-width="1.05" />
<line x1="319.55" y1="214.69" x2="319.55" y2="217.72" stroke="#23498a" stroke-width="1.05" />
<line x1="317.95" y1="214.69" x2="321.15" y2="214.69" stroke="#23498a" stroke-width="1.05" />
<line x1="317.95" y1="217.72" x2="321.15" y2="217.72" stroke="#23498a" stroke-width="1.05" />
<line x1="333.61" y1="212.68" x2="333.61" y2="217.72" stroke="#23498a" stroke-width="1.05" />
<line x1="332.01" y1="212.68" x2="335.21" y2="212.68" stroke="#23498a" stroke-width="1.05" />
<line x1="332.01" y1="217.72" x2="335.21" y2="217.72" stroke="#23498a" stroke-width="1.05" />
<line x1="347.68" y1="212.17" x2="347.68" y2="217.21" stroke="#23498a" stroke-width="1.05" />
<line x1="346.07" y1="212.17" x2="349.28" y2="212.17" stroke="#23498a" stroke-width="1.05" />
<line x1="346.07" y1="217.21" x2="349.28" y2="217.21" stroke="#23498a" stroke-width="1.05" />
<line x1="361.74" y1="211.42" x2="361.74" y2="217.46" stroke="#23498a" stroke-width="1.05" />
<line x1="360.14" y1="211.42" x2="363.34" y2="211.42" stroke="#23498a" stroke-width="1.05" />
<line x1="360.14" y1="217.46" x2="363.34" y2="217.46" stroke="#23498a" stroke-width="1.05" />
<polyline points="263.3,253 277.36,250.98 291.43,218.22 305.49,216.96 319.55,216.2 333.61,215.2 347.68,214.69 361.74,214.44" fill="none" stroke="#23498a" stroke-width="1.3" stroke-linejoin="round"/>
<circle cx="263.3" cy="253" r="1.3" fill="#23498a"/>
<circle cx="277.36" cy="250.98" r="1.3" fill="#23498a"/>
<circle cx="291.43" cy="218.22" r="1.3" fill="#23498a"/>
<circle cx="305.49" cy="216.96" r="1.3" fill="#23498a"/>
<circle cx="319.55" cy="216.2" r="1.3" fill="#23498a"/>
<circle cx="333.61" cy="215.2" r="1.3" fill="#23498a"/>
<circle cx="347.68" cy="214.69" r="1.3" fill="#23498a"/>
<circle cx="361.74" cy="214.44" r="1.3" fill="#23498a"/>
<line x1="272.9" y1="186.4" x2="282.1" y2="186.4" stroke="#23498a" stroke-width="1.1" />
<circle cx="277.2" cy="186.4" r="1.2" fill="#23498a"/>
<text x="286.4" y="189.8" font-size="10.5" text-anchor="start" fill="#000" font-weight="bold" textLength="15.6" lengthAdjust="spacingAndGlyphs">WT</text>
<line x1="272.9" y1="196.2" x2="282.1" y2="196.2" stroke="#d42d48" stroke-width="1.1" />
<text x="286.4" y="199.7" font-size="10.7" text-anchor="start" fill="#000" font-weight="bold" >iKO</text>
<text x="291.6" y="250.2" font-size="11" text-anchor="middle" fill="#000" font-weight="bold" letter-spacing="-0.3">***</text>
<text x="305.3" y="237.7" font-size="11" text-anchor="middle" fill="#000" font-weight="bold" letter-spacing="-0.3">**</text>
<text x="320.3" y="231.2" font-size="11" text-anchor="middle" fill="#000" font-weight="bold" letter-spacing="-0.3">*</text>
<text x="333.8" y="229.9" font-size="11" text-anchor="middle" fill="#000" font-weight="bold" letter-spacing="-0.3">*</text>
<text x="348.5" y="229.9" font-size="11" text-anchor="middle" fill="#000" font-weight="bold" letter-spacing="-0.3">*</text>
<text x="361.5" y="229.4" font-size="11" text-anchor="middle" fill="#000" font-weight="bold" letter-spacing="-0.3">*</text>
<line x1="445.4" y1="179.5" x2="445.4" y2="254.5" stroke="#000" stroke-width="1.1" />
<line x1="442.9" y1="254" x2="445.4" y2="254" stroke="#000" stroke-width="1.1" />
<text x="441.7" y="257.5" font-size="10.4" text-anchor="end" fill="#000" font-weight="bold" >0</text>
<line x1="442.9" y1="239.2" x2="445.4" y2="239.2" stroke="#000" stroke-width="1.1" />
<text x="441.7" y="242.7" font-size="10.4" text-anchor="end" fill="#000" font-weight="bold" >60</text>
<line x1="442.9" y1="224.4" x2="445.4" y2="224.4" stroke="#000" stroke-width="1.1" />
<text x="441.7" y="227.9" font-size="10.4" text-anchor="end" fill="#000" font-weight="bold" >120</text>
<line x1="442.9" y1="209.6" x2="445.4" y2="209.6" stroke="#000" stroke-width="1.1" />
<text x="441.7" y="213.1" font-size="10.4" text-anchor="end" fill="#000" font-weight="bold" >180</text>
<line x1="442.9" y1="194.8" x2="445.4" y2="194.8" stroke="#000" stroke-width="1.1" />
<text x="441.7" y="198.3" font-size="10.4" text-anchor="end" fill="#000" font-weight="bold" >240</text>
<line x1="442.9" y1="180" x2="445.4" y2="180" stroke="#000" stroke-width="1.1" />
<text x="441.7" y="183.5" font-size="10.4" text-anchor="end" fill="#000" font-weight="bold" >300</text>
<line x1="452" y1="263" x2="563.7" y2="263" stroke="#000" stroke-width="1.1" />
<line x1="452.5" y1="263" x2="452.5" y2="265.5" stroke="#000" stroke-width="1.1" />
<text x="451.8" y="274.9" font-size="10.5" text-anchor="middle" fill="#000" font-weight="bold" letter-spacing="0.2">-9</text>
<line x1="480.18" y1="263" x2="480.18" y2="265.5" stroke="#000" stroke-width="1.1" />
<text x="479.48" y="274.9" font-size="10.5" text-anchor="middle" fill="#000" font-weight="bold" letter-spacing="0.2">-8</text>
<line x1="507.85" y1="263" x2="507.85" y2="265.5" stroke="#000" stroke-width="1.1" />
<text x="507.15" y="274.9" font-size="10.5" text-anchor="middle" fill="#000" font-weight="bold" letter-spacing="0.2">-7</text>
<line x1="535.53" y1="263" x2="535.53" y2="265.5" stroke="#000" stroke-width="1.1" />
<text x="534.83" y="274.9" font-size="10.5" text-anchor="middle" fill="#000" font-weight="bold" letter-spacing="0.2">-6</text>
<line x1="563.2" y1="263" x2="563.2" y2="265.5" stroke="#000" stroke-width="1.1" />
<text x="562.5" y="274.9" font-size="10.5" text-anchor="middle" fill="#000" font-weight="bold" letter-spacing="0.2">-5</text>
<text x="510" y="287.5" font-size="10.4" text-anchor="middle" fill="#000" font-weight="bold" letter-spacing="0">Phe (log mol/L)</text>
<text transform="translate(407.4,218.2) rotate(-90)" font-size="10.8" text-anchor="middle" textLength="61.7" lengthAdjust="spacingAndGlyphs">Contraction</text>
<text transform="translate(417.7,211.8) rotate(-90)" font-size="10.8" text-anchor="middle" textLength="97" lengthAdjust="spacingAndGlyphs">(% 60 mmol/L K+)</text>
<polyline points="466.34,252.52 480.18,252.52 494.01,252.52 507.85,252.27 521.69,251.53 535.53,250.55 549.36,229.33 563.2,228.84" fill="none" stroke="#d42d48" stroke-width="1.3" stroke-linejoin="round"/>
<path d="M464.94,253.62 L467.74,253.62 L466.34,251.12 Z" fill="#d42d48"/>
<path d="M478.78,253.62 L481.57,253.62 L480.18,251.12 Z" fill="#d42d48"/>
<path d="M492.61,253.62 L495.41,253.62 L494.01,251.12 Z" fill="#d42d48"/>
<path d="M506.45,253.37 L509.25,253.37 L507.85,250.87 Z" fill="#d42d48"/>
<path d="M520.29,252.63 L523.09,252.63 L521.69,250.13 Z" fill="#d42d48"/>
<path d="M534.13,251.65 L536.93,251.65 L535.53,249.15 Z" fill="#d42d48"/>
<path d="M547.96,230.43 L550.76,230.43 L549.36,227.93 Z" fill="#d42d48"/>
<path d="M561.8,229.94 L564.6,229.94 L563.2,227.44 Z" fill="#d42d48"/>
<line x1="521.69" y1="221.44" x2="521.69" y2="225.39" stroke="#23498a" stroke-width="1.05" />
<line x1="520.09" y1="221.44" x2="523.29" y2="221.44" stroke="#23498a" stroke-width="1.05" />
<line x1="520.09" y1="225.39" x2="523.29" y2="225.39" stroke="#23498a" stroke-width="1.05" />
<line x1="535.53" y1="206.39" x2="535.53" y2="217.25" stroke="#23498a" stroke-width="1.05" />
<line x1="533.93" y1="206.39" x2="537.13" y2="206.39" stroke="#23498a" stroke-width="1.05" />
<line x1="533.93" y1="217.25" x2="537.13" y2="217.25" stroke="#23498a" stroke-width="1.05" />
<line x1="549.36" y1="199.24" x2="549.36" y2="203.68" stroke="#23498a" stroke-width="1.05" />
<line x1="547.76" y1="199.24" x2="550.96" y2="199.24" stroke="#23498a" stroke-width="1.05" />
<line x1="547.76" y1="203.68" x2="550.96" y2="203.68" stroke="#23498a" stroke-width="1.05" />
<line x1="563.2" y1="197.51" x2="563.2" y2="201.46" stroke="#23498a" stroke-width="1.05" />
<line x1="561.6" y1="197.51" x2="564.8" y2="197.51" stroke="#23498a" stroke-width="1.05" />
<line x1="561.6" y1="201.46" x2="564.8" y2="201.46" stroke="#23498a" stroke-width="1.05" />
<polyline points="466.34,253.75 480.18,253.75 494.01,253.51 507.85,253.01 521.69,223.41 535.53,211.82 549.36,201.46 563.2,199.49" fill="none" stroke="#23498a" stroke-width="1.3" stroke-linejoin="round"/>
<circle cx="466.34" cy="253.75" r="1.3" fill="#23498a"/>
<circle cx="480.18" cy="253.75" r="1.3" fill="#23498a"/>
<circle cx="494.01" cy="253.51" r="1.3" fill="#23498a"/>
<circle cx="507.85" cy="253.01" r="1.3" fill="#23498a"/>
<circle cx="521.69" cy="223.41" r="1.3" fill="#23498a"/>
<circle cx="535.53" cy="211.82" r="1.3" fill="#23498a"/>
<circle cx="549.36" cy="201.46" r="1.3" fill="#23498a"/>
<circle cx="563.2" cy="199.49" r="1.3" fill="#23498a"/>
<line x1="457" y1="187.2" x2="466.1" y2="187.2" stroke="#23498a" stroke-width="1.1" />
<circle cx="461.25" cy="187.2" r="1.2" fill="#23498a"/>
<text x="470" y="190.6" font-size="10.5" text-anchor="start" fill="#000" font-weight="bold" textLength="15.6" lengthAdjust="spacingAndGlyphs">WT</text>
<line x1="457" y1="198.3" x2="466.1" y2="198.3" stroke="#d42d48" stroke-width="1.1" />
<text x="470" y="201.8" font-size="10.7" text-anchor="start" fill="#000" font-weight="bold" >iKO</text>
<text x="521.2" y="253.2" font-size="11" text-anchor="middle" fill="#000" font-weight="bold" letter-spacing="-0.3">***</text>
<text x="538" y="260.5" font-size="11" text-anchor="middle" fill="#000" font-weight="bold" letter-spacing="-0.3">***</text>
<text x="547" y="230.7" font-size="11" text-anchor="middle" fill="#000" font-weight="bold" letter-spacing="-0.3">***</text>
<text x="563.4" y="239" font-size="11" text-anchor="middle" fill="#000" font-weight="bold" letter-spacing="-0.3">***</text>
<text x="563.4" y="170.6" font-size="11.4" text-anchor="start" fill="#000" font-weight="bold" >Ileum</text>
<line x1="637.2" y1="178.3" x2="637.2" y2="254.9" stroke="#000" stroke-width="1.1" />
<line x1="634.7" y1="254.4" x2="637.2" y2="254.4" stroke="#000" stroke-width="1.1" />
<text x="633.5" y="257.9" font-size="10.4" text-anchor="end" fill="#000" font-weight="bold" >0</text>
<line x1="634.7" y1="239.28" x2="637.2" y2="239.28" stroke="#000" stroke-width="1.1" />
<text x="633.5" y="242.78" font-size="10.4" text-anchor="end" fill="#000" font-weight="bold" >60</text>
<line x1="634.7" y1="224.16" x2="637.2" y2="224.16" stroke="#000" stroke-width="1.1" />
<text x="633.5" y="227.66" font-size="10.4" text-anchor="end" fill="#000" font-weight="bold" >120</text>
<line x1="634.7" y1="209.04" x2="637.2" y2="209.04" stroke="#000" stroke-width="1.1" />
<text x="633.5" y="212.54" font-size="10.4" text-anchor="end" fill="#000" font-weight="bold" >180</text>
<line x1="634.7" y1="193.92" x2="637.2" y2="193.92" stroke="#000" stroke-width="1.1" />
<text x="633.5" y="197.42" font-size="10.4" text-anchor="end" fill="#000" font-weight="bold" >240</text>
<line x1="634.7" y1="178.8" x2="637.2" y2="178.8" stroke="#000" stroke-width="1.1" />
<text x="633.5" y="182.3" font-size="10.4" text-anchor="end" fill="#000" font-weight="bold" >300</text>
<line x1="644.8" y1="263" x2="759.5" y2="263" stroke="#000" stroke-width="1.1" />
<line x1="645.3" y1="263" x2="645.3" y2="265.5" stroke="#000" stroke-width="1.1" />
<text x="644.6" y="274.9" font-size="10.5" text-anchor="middle" fill="#000" font-weight="bold" letter-spacing="0.2">-7</text>
<line x1="673.72" y1="263" x2="673.72" y2="265.5" stroke="#000" stroke-width="1.1" />
<text x="673.02" y="274.9" font-size="10.5" text-anchor="middle" fill="#000" font-weight="bold" letter-spacing="0.2">-6</text>
<line x1="702.15" y1="263" x2="702.15" y2="265.5" stroke="#000" stroke-width="1.1" />
<text x="701.45" y="274.9" font-size="10.5" text-anchor="middle" fill="#000" font-weight="bold" letter-spacing="0.2">-5</text>
<line x1="730.58" y1="263" x2="730.58" y2="265.5" stroke="#000" stroke-width="1.1" />
<text x="729.88" y="274.9" font-size="10.5" text-anchor="middle" fill="#000" font-weight="bold" letter-spacing="0.2">-4</text>
<line x1="759" y1="263" x2="759" y2="265.5" stroke="#000" stroke-width="1.1" />
<text x="758.3" y="274.9" font-size="10.5" text-anchor="middle" fill="#000" font-weight="bold" letter-spacing="0.2">-3</text>
<text x="697" y="287.5" font-size="10.4" text-anchor="middle" fill="#000" font-weight="bold" letter-spacing="0">ACh (log mol/L)</text>
<text transform="translate(601.2,213) rotate(-90)" font-size="11" text-anchor="middle" textLength="61.5" lengthAdjust="spacingAndGlyphs">Contraction</text>
<text transform="translate(612.4,210.6) rotate(-90)" font-size="11" text-anchor="middle" textLength="96.6" lengthAdjust="spacingAndGlyphs">(% 60 mmol/L K+)</text>
<line x1="673.72" y1="249.99" x2="673.72" y2="252.01" stroke="#d42d48" stroke-width="1.05" />
<line x1="672.12" y1="249.99" x2="675.32" y2="249.99" stroke="#d42d48" stroke-width="1.05" />
<line x1="672.12" y1="252.01" x2="675.32" y2="252.01" stroke="#d42d48" stroke-width="1.05" />
<line x1="687.94" y1="234.74" x2="687.94" y2="238.27" stroke="#d42d48" stroke-width="1.05" />
<line x1="686.34" y1="234.74" x2="689.54" y2="234.74" stroke="#d42d48" stroke-width="1.05" />
<line x1="686.34" y1="238.27" x2="689.54" y2="238.27" stroke="#d42d48" stroke-width="1.05" />
<line x1="702.15" y1="232.98" x2="702.15" y2="235" stroke="#d42d48" stroke-width="1.05" />
<line x1="700.55" y1="232.98" x2="703.75" y2="232.98" stroke="#d42d48" stroke-width="1.05" />
<line x1="700.55" y1="235" x2="703.75" y2="235" stroke="#d42d48" stroke-width="1.05" />
<line x1="716.36" y1="230.59" x2="716.36" y2="233.61" stroke="#d42d48" stroke-width="1.05" />
<line x1="714.76" y1="230.59" x2="717.96" y2="230.59" stroke="#d42d48" stroke-width="1.05" />
<line x1="714.76" y1="233.61" x2="717.96" y2="233.61" stroke="#d42d48" stroke-width="1.05" />
<line x1="730.58" y1="228.7" x2="730.58" y2="232.73" stroke="#d42d48" stroke-width="1.05" />
<line x1="728.98" y1="228.7" x2="732.18" y2="228.7" stroke="#d42d48" stroke-width="1.05" />
<line x1="728.98" y1="232.73" x2="732.18" y2="232.73" stroke="#d42d48" stroke-width="1.05" />
<line x1="744.79" y1="228.19" x2="744.79" y2="232.22" stroke="#d42d48" stroke-width="1.05" />
<line x1="743.19" y1="228.19" x2="746.39" y2="228.19" stroke="#d42d48" stroke-width="1.05" />
<line x1="743.19" y1="232.22" x2="746.39" y2="232.22" stroke="#d42d48" stroke-width="1.05" />
<polyline points="645.3,253.9 659.51,253.14 673.72,251 687.94,236.51 702.15,233.99 716.36,232.1 730.58,230.71 744.79,230.21" fill="none" stroke="#d42d48" stroke-width="1.3" stroke-linejoin="round"/>
<path d="M643.9,255 L646.7,255 L645.3,252.5 Z" fill="#d42d48"/>
<path d="M658.11,254.24 L660.91,254.24 L659.51,251.74 Z" fill="#d42d48"/>
<path d="M672.32,252.1 L675.12,252.1 L673.72,249.6 Z" fill="#d42d48"/>
<path d="M686.54,237.61 L689.34,237.61 L687.94,235.11 Z" fill="#d42d48"/>
<path d="M700.75,235.09 L703.55,235.09 L702.15,232.59 Z" fill="#d42d48"/>
<path d="M714.96,233.2 L717.76,233.2 L716.36,230.7 Z" fill="#d42d48"/>
<path d="M729.18,231.81 L731.98,231.81 L730.58,229.31 Z" fill="#d42d48"/>
<path d="M743.39,231.31 L746.19,231.31 L744.79,228.81 Z" fill="#d42d48"/>
<line x1="673.72" y1="221.89" x2="673.72" y2="238.02" stroke="#23498a" stroke-width="1.05" />
<line x1="672.12" y1="221.89" x2="675.32" y2="221.89" stroke="#23498a" stroke-width="1.05" />
<line x1="672.12" y1="238.02" x2="675.32" y2="238.02" stroke="#23498a" stroke-width="1.05" />
<line x1="687.94" y1="219.37" x2="687.94" y2="232.98" stroke="#23498a" stroke-width="1.05" />
<line x1="686.34" y1="219.37" x2="689.54" y2="219.37" stroke="#23498a" stroke-width="1.05" />
<line x1="686.34" y1="232.98" x2="689.54" y2="232.98" stroke="#23498a" stroke-width="1.05" />
<line x1="702.15" y1="212.06" x2="702.15" y2="227.69" stroke="#23498a" stroke-width="1.05" />
<line x1="700.55" y1="212.06" x2="703.75" y2="212.06" stroke="#23498a" stroke-width="1.05" />
<line x1="700.55" y1="227.69" x2="703.75" y2="227.69" stroke="#23498a" stroke-width="1.05" />
<line x1="716.36" y1="210.8" x2="716.36" y2="224.41" stroke="#23498a" stroke-width="1.05" />
<line x1="714.76" y1="210.8" x2="717.96" y2="210.8" stroke="#23498a" stroke-width="1.05" />
<line x1="714.76" y1="224.41" x2="717.96" y2="224.41" stroke="#23498a" stroke-width="1.05" />
<line x1="730.58" y1="210.3" x2="730.58" y2="221.39" stroke="#23498a" stroke-width="1.05" />
<line x1="728.98" y1="210.3" x2="732.18" y2="210.3" stroke="#23498a" stroke-width="1.05" />
<line x1="728.98" y1="221.39" x2="732.18" y2="221.39" stroke="#23498a" stroke-width="1.05" />
<line x1="744.79" y1="209.54" x2="744.79" y2="221.64" stroke="#23498a" stroke-width="1.05" />
<line x1="743.19" y1="209.54" x2="746.39" y2="209.54" stroke="#23498a" stroke-width="1.05" />
<line x1="743.19" y1="221.64" x2="746.39" y2="221.64" stroke="#23498a" stroke-width="1.05" />
<polyline points="645.3,253.9 659.51,253.64 673.72,229.96 687.94,226.18 702.15,219.88 716.36,217.61 730.58,215.84 744.79,215.59" fill="none" stroke="#23498a" stroke-width="1.3" stroke-linejoin="round"/>
<circle cx="645.3" cy="253.9" r="1.3" fill="#23498a"/>
<circle cx="659.51" cy="253.64" r="1.3" fill="#23498a"/>
<circle cx="673.72" cy="229.96" r="1.3" fill="#23498a"/>
<circle cx="687.94" cy="226.18" r="1.3" fill="#23498a"/>
<circle cx="702.15" cy="219.88" r="1.3" fill="#23498a"/>
<circle cx="716.36" cy="217.61" r="1.3" fill="#23498a"/>
<circle cx="730.58" cy="215.84" r="1.3" fill="#23498a"/>
<circle cx="744.79" cy="215.59" r="1.3" fill="#23498a"/>
<line x1="647" y1="180.2" x2="656" y2="180.2" stroke="#23498a" stroke-width="1.1" />
<circle cx="651.2" cy="180.2" r="1.2" fill="#23498a"/>
<text x="660.6" y="183.6" font-size="10.5" text-anchor="start" fill="#000" font-weight="bold" textLength="15.6" lengthAdjust="spacingAndGlyphs">WT</text>
<line x1="647" y1="192.4" x2="656" y2="192.4" stroke="#d42d48" stroke-width="1.1" />
<text x="660.6" y="195.9" font-size="10.7" text-anchor="start" fill="#000" font-weight="bold" >iKO</text>
<text x="673.5" y="250.2" font-size="11" text-anchor="middle" fill="#000" font-weight="bold" letter-spacing="-0.3">**</text>
<text x="702.8" y="244.2" font-size="11" text-anchor="middle" fill="#000" font-weight="bold" letter-spacing="-0.3">*</text>
<text x="715.8" y="244.2" font-size="11" text-anchor="middle" fill="#000" font-weight="bold" letter-spacing="-0.3">*</text>
<text x="730.8" y="242.9" font-size="11" text-anchor="middle" fill="#000" font-weight="bold" letter-spacing="-0.3">*</text>
<text x="743.8" y="242.2" font-size="11" text-anchor="middle" fill="#000" font-weight="bold" letter-spacing="-0.3">*</text>
<text x="6.1" y="17.6" font-size="16" text-anchor="start" fill="#000" font-weight="bold" >A</text>
<text x="217.4" y="17.6" font-size="16" text-anchor="start" fill="#000" font-weight="bold" >B</text>
<text x="388.6" y="17.6" font-size="16" text-anchor="start" fill="#000" font-weight="bold" >C</text>
<text x="578.5" y="17.6" font-size="16" text-anchor="start" fill="#000" font-weight="bold" >D</text>
<text x="5.7" y="166" font-size="15.2" text-anchor="start" fill="#000" font-weight="bold" >E</text>
<text x="389.3" y="166" font-size="15.2" text-anchor="start" fill="#000" font-weight="bold" >F</text>
<text x="5.8" y="315.6" font-size="16" text-anchor="start" fill="#000" font-weight="bold" >G</text>
<text x="388.5" y="315" font-size="16" text-anchor="start" fill="#000" font-weight="bold" >I</text>
<text x="5.4" y="488.4" font-size="16" text-anchor="start" fill="#000" font-weight="bold" >H</text><rect x="52" y="343.6" width="163.5" height="3" fill="#c9c4b6" stroke="#8a867c" stroke-width="0.5"/>
<rect x="52" y="346.6" width="163.5" height="15.2" fill="#fcf0e3" stroke="#4a4646" stroke-width="0.7"/>
<rect x="52" y="362.3" width="163.5" height="7.2" fill="#92c3ea" stroke="#6f93ba" stroke-width="0.6"/>
<line x1="52" y1="361.9" x2="215.5" y2="361.9" stroke="#4f5d6b" stroke-width="1.1"/>
<line x1="52" y1="346.6" x2="215.5" y2="346.6" stroke="#4a4646" stroke-width="0.9"/>
<circle cx="93.8" cy="353.6" r="1.25" fill="#8c9e96"/>
<circle cx="114.2" cy="354.2" r="1.25" fill="#8c9e96"/>
<circle cx="153.7" cy="348.9" r="1.25" fill="#8c9e96"/>
<circle cx="59" cy="356.6" r="1.25" fill="#8c9e96"/>
<circle cx="97.1" cy="350.5" r="1.25" fill="#8c9e96"/>
<circle cx="210.8" cy="352.9" r="1.25" fill="#8c9e96"/>
<circle cx="186.2" cy="353" r="1.25" fill="#8c9e96"/>
<circle cx="155.1" cy="356.9" r="1.25" fill="#8c9e96"/>
<circle cx="137.8" cy="355.6" r="1.25" fill="#7aa07c"/>
<circle cx="160.7" cy="348.8" r="1.25" fill="#8c9e96"/>
<circle cx="174.1" cy="354.1" r="1.25" fill="#8c9e96"/>
<circle cx="103.5" cy="348.5" r="1.25" fill="#8c9e96"/>
<circle cx="190.7" cy="352.9" r="1.25" fill="#8c9e96"/>
<circle cx="168.1" cy="357" r="1.25" fill="#8c9e96"/>
<circle cx="118" cy="356.2" r="1.25" fill="#8c9e96"/>
<circle cx="125.7" cy="357.6" r="1.25" fill="#8c9e96"/>
<circle cx="192.8" cy="349.2" r="1.25" fill="#8c9e96"/>
<circle cx="78" cy="350.4" r="1.25" fill="#7aa07c"/>
<circle cx="206.2" cy="352.6" r="1.25" fill="#8c9e96"/>
<circle cx="135.4" cy="352.1" r="1.25" fill="#8c9e96"/>
<circle cx="111.2" cy="354.1" r="1.25" fill="#8c9e96"/>
<circle cx="147.3" cy="357.2" r="1.25" fill="#8c9e96"/>
<circle cx="162.4" cy="357.5" r="1.25" fill="#8c9e96"/>
<circle cx="189.3" cy="358.1" r="1.25" fill="#8c9e96"/>
<circle cx="196.8" cy="353.9" r="1.25" fill="#8c9e96"/>
<circle cx="167.3" cy="350.3" r="1.25" fill="#8c9e96"/>
<circle cx="70.7" cy="356.2" r="1.25" fill="#7aa07c"/>
<circle cx="120.4" cy="349.7" r="1.25" fill="#8c9e96"/>
<circle cx="102.4" cy="355.9" r="1.25" fill="#8c9e96"/>
<circle cx="193.1" cy="358" r="1.25" fill="#8c9e96"/>
<circle cx="135.1" cy="358.2" r="1.25" fill="#8c9e96"/>
<circle cx="149.7" cy="348.5" r="1.25" fill="#8c9e96"/>
<circle cx="87.5" cy="352.3" r="1.25" fill="#8c9e96"/>
<circle cx="63.6" cy="356.9" r="1.25" fill="#8c9e96"/>
<circle cx="105.5" cy="357.8" r="1.25" fill="#8c9e96"/>
<circle cx="128.1" cy="353.4" r="1.25" fill="#7aa07c"/>
<circle cx="156.5" cy="354.2" r="1.25" fill="#8c9e96"/>
<circle cx="143.4" cy="354.4" r="1.25" fill="#8c9e96"/>
<circle cx="202.3" cy="353.3" r="1.25" fill="#8c9e96"/>
<circle cx="123.6" cy="355.4" r="1.25" fill="#8c9e96"/>
<circle cx="141.7" cy="348.3" r="1.25" fill="#8c9e96"/>
<circle cx="121.1" cy="354" r="1.25" fill="#8c9e96"/>
<circle cx="153.9" cy="352.9" r="1.25" fill="#8c9e96"/>
<circle cx="161.9" cy="351.7" r="1.25" fill="#8c9e96"/>
<circle cx="60.4" cy="348.8" r="1.25" fill="#7aa07c"/>
<circle cx="148.6" cy="351.4" r="1.25" fill="#8c9e96"/>
<circle cx="113.2" cy="351.3" r="1.25" fill="#8c9e96"/>
<circle cx="103.4" cy="352" r="1.25" fill="#8c9e96"/>
<circle cx="176.3" cy="348.5" r="1.25" fill="#8c9e96"/>
<circle cx="181.2" cy="350.6" r="1.25" fill="#8c9e96"/>
<circle cx="164.9" cy="349.2" r="1.25" fill="#8c9e96"/>
<circle cx="106.7" cy="351.5" r="1.25" fill="#8c9e96"/>
<circle cx="189.2" cy="349.9" r="1.25" fill="#8c9e96"/>
<circle cx="193.7" cy="352.7" r="1.25" fill="#7aa07c"/>
<circle cx="91.8" cy="349.4" r="1.25" fill="#8c9e96"/>
<circle cx="138.8" cy="350.1" r="1.25" fill="#8c9e96"/>
<circle cx="181.6" cy="356.6" r="1.25" fill="#8c9e96"/>
<circle cx="199.2" cy="349.8" r="1.25" fill="#8c9e96"/>
<circle cx="172.2" cy="356.6" r="1.25" fill="#8c9e96"/>
<circle cx="159.4" cy="353.4" r="1.25" fill="#8c9e96"/>
<circle cx="199.7" cy="357.2" r="1.25" fill="#8c9e96"/>
<circle cx="83.5" cy="351.2" r="1.25" fill="#8c9e96"/>
<circle cx="120.9" cy="357.6" r="1.25" fill="#7aa07c"/>
<circle cx="151.6" cy="351.6" r="1.25" fill="#8c9e96"/>
<circle cx="96" cy="356.8" r="1.25" fill="#8c9e96"/>
<circle cx="130.7" cy="356" r="1.25" fill="#8c9e96"/>
<circle cx="83.5" cy="356.1" r="1.25" fill="#8c9e96"/>
<circle cx="184.2" cy="348.3" r="1.25" fill="#8c9e96"/>
<circle cx="64.7" cy="350.9" r="1.25" fill="#8c9e96"/>
<circle cx="98.5" cy="353.5" r="1.25" fill="#8c9e96"/>
<circle cx="207.6" cy="356.7" r="1.25" fill="#8c9e96"/>
<circle cx="70.3" cy="353.2" r="1.25" fill="#7aa07c"/>
<circle cx="76.1" cy="353.8" r="1.25" fill="#8c9e96"/>
<circle cx="69.3" cy="350" r="1.25" fill="#8c9e96"/>
<circle cx="177.9" cy="352" r="1.25" fill="#8c9e96"/>
<circle cx="123.7" cy="351.9" r="1.25" fill="#8c9e96"/>
<circle cx="133.7" cy="355.2" r="1.25" fill="#8c9e96"/>
<circle cx="128.2" cy="350.7" r="1.25" fill="#8c9e96"/>
<circle cx="76" cy="356.3" r="1.25" fill="#8c9e96"/>
<circle cx="159.3" cy="357.1" r="1.25" fill="#8c9e96"/>
<circle cx="179.4" cy="354.9" r="1.25" fill="#7aa07c"/>
<circle cx="170.4" cy="353.8" r="1.25" fill="#8c9e96"/>
<circle cx="72.9" cy="354.1" r="1.25" fill="#8c9e96"/>
<circle cx="57.8" cy="349.6" r="1.25" fill="#8c9e96"/>
<circle cx="94.4" cy="350" r="1.25" fill="#8c9e96"/>
<circle cx="172.5" cy="349.8" r="1.25" fill="#8c9e96"/>
<circle cx="195.6" cy="349.7" r="1.25" fill="#8c9e96"/>
<circle cx="131.1" cy="352" r="1.25" fill="#8c9e96"/>
<circle cx="79.2" cy="358.1" r="1.25" fill="#8c9e96"/>
<circle cx="85.9" cy="355.2" r="1.25" fill="#7aa07c"/>
<circle cx="169.6" cy="349.1" r="1.25" fill="#8c9e96"/>
<circle cx="89.5" cy="354.1" r="1.25" fill="#8c9e96"/>
<path d="M73,344.2 C92,340 103,333 111,326 C118,320.5 134,320 142,326 C152,334 166,340 190,343.8 Z" fill="#f6d6d2" stroke="#4a4646" stroke-width="0.8"/>
<line x1="88" y1="343" x2="116" y2="336.5" stroke="#e07848" stroke-width="0.8"/>
<line x1="107" y1="343" x2="122" y2="335.2" stroke="#e07848" stroke-width="0.8"/>
<line x1="116" y1="336.5" x2="131" y2="334.5" stroke="#e07848" stroke-width="0.8"/>
<line x1="131" y1="334.5" x2="141" y2="343" stroke="#e07848" stroke-width="0.8"/>
<line x1="131" y1="334.5" x2="170" y2="343" stroke="#e07848" stroke-width="0.8"/>
<line x1="122" y1="335.2" x2="131" y2="334.5" stroke="#e07848" stroke-width="0.8"/>
<line x1="126" y1="333.8" x2="141" y2="343" stroke="#4a4646" stroke-width="0.6"/>
<line x1="133" y1="333.6" x2="170" y2="342.6" stroke="#4a4646" stroke-width="0.6"/>
<rect x="83.5" y="342.2" width="8.1" height="1.9" rx="0.9" fill="#d9603a"/>
<rect x="102" y="342.2" width="9.4" height="1.9" rx="0.9" fill="#d9603a"/>
<rect x="137" y="342.2" width="9.4" height="1.9" rx="0.9" fill="#d9603a"/>
<rect x="166.2" y="342.2" width="9.4" height="1.9" rx="0.9" fill="#d9603a"/>
<ellipse cx="126.6" cy="329.4" rx="9.4" ry="3.4" fill="#1f3f8f"/>
<line x1="215.5" y1="344.6" x2="223.4" y2="340" stroke="#222" stroke-width="0.8"/>
<line x1="208" y1="349.2" x2="223" y2="350.6" stroke="#222" stroke-width="0.8"/>
<line x1="215.5" y1="358.3" x2="223.4" y2="361.7" stroke="#222" stroke-width="0.8"/>
<line x1="215.5" y1="366.2" x2="223.4" y2="372" stroke="#222" stroke-width="0.8"/>
<text x="223.7" y="344" font-size="11" textLength="59.6" lengthAdjust="spacingAndGlyphs">Fibronectin</text>
<text x="223.7" y="355.2" font-size="11" textLength="139.3" lengthAdjust="spacingAndGlyphs">Polyacrylamide hydrogels</text>
<text x="223.7" y="365.6" font-size="11" textLength="99.2" lengthAdjust="spacingAndGlyphs">Fluorescent beads</text>
<text x="223.7" y="375.9" font-size="11" textLength="63.3" lengthAdjust="spacingAndGlyphs">Cover glass</text>
<path d="M134,375 L134,391 M130.2,386.6 L134,391.4 L137.8,386.6" fill="none" stroke="#222" stroke-width="0.9"/>
<text x="145" y="387.5" font-size="11" textLength="39.5" lengthAdjust="spacingAndGlyphs">Trypsin</text>
<rect x="52" y="424.3" width="163.5" height="3" fill="#c9c4b6" stroke="#8a867c" stroke-width="0.5"/>
<rect x="52" y="427.3" width="163.5" height="15.2" fill="#fcf0e3" stroke="#4a4646" stroke-width="0.7"/>
<rect x="52" y="443" width="163.5" height="7.2" fill="#92c3ea" stroke="#6f93ba" stroke-width="0.6"/>
<line x1="52" y1="442.6" x2="215.5" y2="442.6" stroke="#4f5d6b" stroke-width="1.1"/>
<line x1="52" y1="427.3" x2="215.5" y2="427.3" stroke="#4a4646" stroke-width="0.9"/>
<circle cx="204.6" cy="432.8" r="1.25" fill="#8c9e96"/>
<circle cx="141.1" cy="430.1" r="1.25" fill="#8c9e96"/>
<circle cx="99.5" cy="435.6" r="1.25" fill="#8c9e96"/>
<circle cx="74.4" cy="437.8" r="1.25" fill="#8c9e96"/>
<circle cx="197.4" cy="429.9" r="1.25" fill="#8c9e96"/>
<circle cx="176.3" cy="436.5" r="1.25" fill="#8c9e96"/>
<circle cx="102.7" cy="435.7" r="1.25" fill="#8c9e96"/>
<circle cx="158.1" cy="437" r="1.25" fill="#8c9e96"/>
<circle cx="205.5" cy="435.6" r="1.25" fill="#7aa07c"/>
<circle cx="133.3" cy="432.4" r="1.25" fill="#8c9e96"/>
<circle cx="167.9" cy="435.7" r="1.25" fill="#8c9e96"/>
<circle cx="144.5" cy="430.7" r="1.25" fill="#8c9e96"/>
<circle cx="84.7" cy="437.8" r="1.25" fill="#8c9e96"/>
<circle cx="158.3" cy="430.1" r="1.25" fill="#8c9e96"/>
<circle cx="201" cy="430.3" r="1.25" fill="#8c9e96"/>
<circle cx="108.2" cy="436.1" r="1.25" fill="#8c9e96"/>
<circle cx="149.3" cy="434.4" r="1.25" fill="#8c9e96"/>
<circle cx="157" cy="433.5" r="1.25" fill="#7aa07c"/>
<circle cx="105.3" cy="430.7" r="1.25" fill="#8c9e96"/>
<circle cx="67.6" cy="436.1" r="1.25" fill="#8c9e96"/>
<circle cx="173.6" cy="434.3" r="1.25" fill="#8c9e96"/>
<circle cx="171.3" cy="432.5" r="1.25" fill="#8c9e96"/>
<circle cx="98.1" cy="432.7" r="1.25" fill="#8c9e96"/>
<circle cx="191.8" cy="429.3" r="1.25" fill="#8c9e96"/>
<circle cx="175.8" cy="432.4" r="1.25" fill="#8c9e96"/>
<circle cx="108.4" cy="432.9" r="1.25" fill="#8c9e96"/>
<circle cx="140.7" cy="436.6" r="1.25" fill="#7aa07c"/>
<circle cx="111.5" cy="437.4" r="1.25" fill="#8c9e96"/>
<circle cx="74.3" cy="431.6" r="1.25" fill="#8c9e96"/>
<circle cx="85.6" cy="430.8" r="1.25" fill="#8c9e96"/>
<circle cx="121.4" cy="436.3" r="1.25" fill="#8c9e96"/>
<circle cx="183" cy="436.4" r="1.25" fill="#8c9e96"/>
<circle cx="148.5" cy="430.4" r="1.25" fill="#8c9e96"/>
<circle cx="118.6" cy="430.8" r="1.25" fill="#8c9e96"/>
<circle cx="138.5" cy="434.6" r="1.25" fill="#8c9e96"/>
<circle cx="88.2" cy="431.4" r="1.25" fill="#7aa07c"/>
<circle cx="177.8" cy="429.2" r="1.25" fill="#8c9e96"/>
<circle cx="142.4" cy="434.7" r="1.25" fill="#8c9e96"/>
<circle cx="154.9" cy="438.7" r="1.25" fill="#8c9e96"/>
<circle cx="163.1" cy="431.9" r="1.25" fill="#8c9e96"/>
<circle cx="189.9" cy="433.7" r="1.25" fill="#8c9e96"/>
<circle cx="57.4" cy="436.6" r="1.25" fill="#8c9e96"/>
<circle cx="86.9" cy="434.2" r="1.25" fill="#8c9e96"/>
<circle cx="62.7" cy="433.9" r="1.25" fill="#8c9e96"/>
<circle cx="144.4" cy="438.5" r="1.25" fill="#7aa07c"/>
<circle cx="194.8" cy="430.3" r="1.25" fill="#8c9e96"/>
<circle cx="179.4" cy="435.1" r="1.25" fill="#8c9e96"/>
<circle cx="93.1" cy="429.7" r="1.25" fill="#8c9e96"/>
<circle cx="200.2" cy="436.1" r="1.25" fill="#8c9e96"/>
<circle cx="69" cy="430.9" r="1.25" fill="#8c9e96"/>
<circle cx="81.8" cy="433.9" r="1.25" fill="#8c9e96"/>
<circle cx="165" cy="434.3" r="1.25" fill="#8c9e96"/>
<circle cx="168.2" cy="432.6" r="1.25" fill="#8c9e96"/>
<circle cx="114.3" cy="434.2" r="1.25" fill="#7aa07c"/>
<circle cx="57.4" cy="431" r="1.25" fill="#8c9e96"/>
<circle cx="128.1" cy="430.9" r="1.25" fill="#8c9e96"/>
<circle cx="61.2" cy="430" r="1.25" fill="#8c9e96"/>
<circle cx="66.2" cy="429.1" r="1.25" fill="#8c9e96"/>
<circle cx="126.2" cy="433" r="1.25" fill="#8c9e96"/>
<circle cx="165.7" cy="429.4" r="1.25" fill="#8c9e96"/>
<circle cx="61.1" cy="438.6" r="1.25" fill="#8c9e96"/>
<circle cx="153.2" cy="432.4" r="1.25" fill="#8c9e96"/>
<circle cx="76.1" cy="429.4" r="1.25" fill="#7aa07c"/>
<circle cx="95.6" cy="431.6" r="1.25" fill="#8c9e96"/>
<circle cx="110.3" cy="429.8" r="1.25" fill="#8c9e96"/>
<circle cx="162.4" cy="438.6" r="1.25" fill="#8c9e96"/>
<circle cx="83.3" cy="429.3" r="1.25" fill="#8c9e96"/>
<circle cx="207.5" cy="433.7" r="1.25" fill="#8c9e96"/>
<circle cx="171.3" cy="436.2" r="1.25" fill="#8c9e96"/>
<circle cx="186.1" cy="434.4" r="1.25" fill="#8c9e96"/>
<circle cx="199.7" cy="432.5" r="1.25" fill="#8c9e96"/>
<circle cx="129.1" cy="436.5" r="1.25" fill="#7aa07c"/>
<circle cx="93.6" cy="437.3" r="1.25" fill="#8c9e96"/>
<circle cx="195.6" cy="436.2" r="1.25" fill="#8c9e96"/>
<circle cx="204.7" cy="429.9" r="1.25" fill="#8c9e96"/>
<circle cx="91" cy="434.5" r="1.25" fill="#8c9e96"/>
<circle cx="150.4" cy="436.8" r="1.25" fill="#8c9e96"/>
<circle cx="184.5" cy="430" r="1.25" fill="#8c9e96"/>
<circle cx="87.8" cy="437.8" r="1.25" fill="#8c9e96"/>
<circle cx="70.3" cy="433.6" r="1.25" fill="#8c9e96"/>
<circle cx="169.5" cy="429.7" r="1.25" fill="#7aa07c"/>
<circle cx="210.8" cy="432.3" r="1.25" fill="#8c9e96"/>
<circle cx="123.6" cy="429.7" r="1.25" fill="#8c9e96"/>
<circle cx="90.7" cy="430.6" r="1.25" fill="#8c9e96"/>
<circle cx="192.1" cy="438.8" r="1.25" fill="#8c9e96"/>
<circle cx="203.5" cy="437.9" r="1.25" fill="#8c9e96"/>
<circle cx="211.1" cy="438.1" r="1.25" fill="#8c9e96"/>
<circle cx="102.1" cy="438.2" r="1.25" fill="#8c9e96"/>
<circle cx="80.7" cy="436.5" r="1.25" fill="#8c9e96"/>
<circle cx="165.2" cy="438.7" r="1.25" fill="#7aa07c"/>
<circle cx="208.4" cy="437.7" r="1.25" fill="#8c9e96"/>
<circle cx="114.6" cy="430.5" r="1.25" fill="#8c9e96"/>
<path d="M89.4,424.3 C92,412 104,395.6 125,395.4 C146,395.4 161,410 165.8,424.3 Z" fill="#f6d6d2" stroke="#4a4646" stroke-width="0.8"/>
<line x1="96" y1="423" x2="118" y2="413" stroke="#e07848" stroke-width="0.8"/>
<line x1="114.5" y1="423" x2="114.5" y2="417.5" stroke="#e07848" stroke-width="0.8"/>
<line x1="118" y1="413" x2="128" y2="411.5" stroke="#e07848" stroke-width="0.8"/>
<line x1="128" y1="411.5" x2="135.5" y2="423" stroke="#e07848" stroke-width="0.8"/>
<line x1="128" y1="411.5" x2="158" y2="423" stroke="#e07848" stroke-width="0.8"/>
<line x1="114" y1="417" x2="124" y2="415" stroke="#e07848" stroke-width="0.8"/>
<line x1="124" y1="411" x2="135.5" y2="422.5" stroke="#4a4646" stroke-width="0.6"/>
<line x1="130" y1="410.6" x2="158" y2="422.6" stroke="#4a4646" stroke-width="0.6"/>
<rect x="92" y="422" width="7.7" height="1.9" rx="0.9" fill="#d9603a"/>
<rect x="110" y="422" width="9" height="1.9" rx="0.9" fill="#d9603a"/>
<rect x="130.8" y="422" width="9.2" height="1.9" rx="0.9" fill="#d9603a"/>
<rect x="154" y="422" width="9" height="1.9" rx="0.9" fill="#d9603a"/>
<ellipse cx="125.6" cy="405.7" rx="9" ry="3.8" fill="#1f3f8f"/><line x1="445.1" y1="344.1" x2="445.1" y2="443.5" stroke="#000" stroke-width="1.3"/>
<line x1="442.1" y1="443" x2="445.1" y2="443" stroke="#000" stroke-width="1.3"/>
<text x="440.9" y="446.8" font-size="10.5" text-anchor="end" letter-spacing="0.2">0</text>
<line x1="442.1" y1="410.2" x2="445.1" y2="410.2" stroke="#000" stroke-width="1.3"/>
<text x="440.9" y="414" font-size="10.5" text-anchor="end" letter-spacing="0.2">500</text>
<line x1="442.1" y1="377.4" x2="445.1" y2="377.4" stroke="#000" stroke-width="1.3"/>
<text x="440.9" y="381.2" font-size="10.5" text-anchor="end" letter-spacing="0.2">1000</text>
<line x1="442.1" y1="344.6" x2="445.1" y2="344.6" stroke="#000" stroke-width="1.3"/>
<text x="440.9" y="348.4" font-size="10.5" text-anchor="end" letter-spacing="0.2">1500</text>
<line x1="445.1" y1="443" x2="603.6" y2="443" stroke="#000" stroke-width="1.3"/>
<line x1="472" y1="443" x2="472" y2="446" stroke="#000" stroke-width="1.3"/>
<line x1="524.6" y1="443" x2="524.6" y2="446" stroke="#000" stroke-width="1.3"/>
<line x1="577.2" y1="443" x2="577.2" y2="446" stroke="#000" stroke-width="1.3"/>
<text transform="translate(413,386) rotate(-90)" font-size="10.5" text-anchor="middle">Traction(Pa)</text>
<text x="472" y="456" font-size="10.5" text-anchor="middle">NC</text>
<text x="522.8" y="456" font-size="10.5" text-anchor="middle" textLength="65.4" lengthAdjust="spacingAndGlyphs">Kindlin-2 si1</text>
<text x="593.6" y="456" font-size="10.5" text-anchor="middle" textLength="66" lengthAdjust="spacingAndGlyphs">Kindlin-2 si2</text>
<line x1="472" y1="338.9" x2="577.2" y2="338.9" stroke="#222" stroke-width="1.4"/>
<line x1="472" y1="350" x2="523.8" y2="350" stroke="#222" stroke-width="1.4"/>
<line x1="525" y1="372.5" x2="577.2" y2="372.5" stroke="#222" stroke-width="1.4"/>
<text x="526" y="338.6" font-size="11" text-anchor="middle">*</text>
<text x="499" y="349.6" font-size="11" text-anchor="middle">*</text>
<text x="554.5" y="369.6" font-size="10.5" text-anchor="middle">NS</text>
<circle cx="472" cy="355.7" r="1.1" fill="#2e64a8"/>
<circle cx="472" cy="368.7" r="1.1" fill="#2e64a8"/>
<circle cx="472" cy="376.4" r="1.1" fill="#2e64a8"/>
<circle cx="472" cy="388" r="1.1" fill="#2e64a8"/>
<circle cx="472" cy="395.9" r="1.1" fill="#2e64a8"/>
<line x1="454.4" y1="377" x2="490" y2="377" stroke="#2e64a8" stroke-width="1.4"/>
<line x1="463" y1="369.4" x2="481" y2="369.4" stroke="#2e64a8" stroke-width="1.4"/>
<line x1="463" y1="384.2" x2="481" y2="384.2" stroke="#2e64a8" stroke-width="1.4"/>
<line x1="472" y1="369.4" x2="472" y2="384.2" stroke="#2e64a8" stroke-width="1.4"/>
<circle cx="524.6" cy="384.2" r="1.1" fill="#d6243a"/>
<circle cx="524.6" cy="393.8" r="1.1" fill="#d6243a"/>
<circle cx="521.2" cy="418.7" r="1.1" fill="#d6243a"/>
<circle cx="524.6" cy="419.7" r="1.1" fill="#d6243a"/>
<circle cx="524.6" cy="424.9" r="1.1" fill="#d6243a"/>
<line x1="507" y1="408.3" x2="542.7" y2="408.3" stroke="#d6243a" stroke-width="1.4"/>
<line x1="515" y1="400.3" x2="533.4" y2="400.3" stroke="#d6243a" stroke-width="1.4"/>
<line x1="515" y1="416.6" x2="533.4" y2="416.6" stroke="#d6243a" stroke-width="1.4"/>
<line x1="524.6" y1="400.3" x2="524.6" y2="416.6" stroke="#d6243a" stroke-width="1.4"/>
<circle cx="577.2" cy="386.3" r="1.1" fill="#e8743c"/>
<circle cx="577.2" cy="392.7" r="1.1" fill="#e8743c"/>
<circle cx="574" cy="420" r="1.1" fill="#e8743c"/>
<circle cx="577.2" cy="422.3" r="1.1" fill="#e8743c"/>
<circle cx="577.2" cy="425.6" r="1.1" fill="#e8743c"/>
<line x1="559" y1="408.8" x2="595.3" y2="408.8" stroke="#e8743c" stroke-width="1.4"/>
<line x1="568.2" y1="401" x2="586.2" y2="401" stroke="#e8743c" stroke-width="1.4"/>
<line x1="568.2" y1="417.4" x2="586.2" y2="417.4" stroke="#e8743c" stroke-width="1.4"/>
<line x1="577.2" y1="401" x2="577.2" y2="417.4" stroke="#e8743c" stroke-width="1.4"/><defs>
<filter id="fT0" x="0" y="0" width="100%" height="100%" color-interpolation-filters="sRGB">
<feTurbulence type="fractalNoise" baseFrequency="0.2" numOctaves="2" seed="3" result="n"/>
<feColorMatrix in="n" type="matrix" values="0.09 0 0 0 0.230  0.09 0 0 0 0.269  0.09 0 0 0 0.241  0 0 0 0 1" result="c"/>
<feComposite in="c" in2="SourceGraphic" operator="in"/></filter>
<filter id="fT1" x="0" y="0" width="100%" height="100%" color-interpolation-filters="sRGB">
<feTurbulence type="fractalNoise" baseFrequency="0.2" numOctaves="2" seed="4" result="n"/>
<feColorMatrix in="n" type="matrix" values="0.09 0 0 0 0.230  0.09 0 0 0 0.269  0.09 0 0 0 0.241  0 0 0 0 1" result="c"/>
<feComposite in="c" in2="SourceGraphic" operator="in"/></filter>
<filter id="fT2" x="0" y="0" width="100%" height="100%" color-interpolation-filters="sRGB">
<feTurbulence type="fractalNoise" baseFrequency="0.2" numOctaves="2" seed="5" result="n"/>
<feColorMatrix in="n" type="matrix" values="0.09 0 0 0 0.249  0.09 0 0 0 0.265  0.09 0 0 0 0.257  0 0 0 0 1" result="c"/>
<feComposite in="c" in2="SourceGraphic" operator="in"/></filter>
<filter id="fT3" x="0" y="0" width="100%" height="100%" color-interpolation-filters="sRGB">
<feTurbulence type="fractalNoise" baseFrequency="0.16" numOctaves="2" seed="11" result="n"/>
<feColorMatrix in="n" type="matrix" values="0.1 0 0 0 0.225  0.26 0 0 0 0.223  0.12 0 0 0 0.234  0 0 0 0 1" result="c"/>
<feComposite in="c" in2="SourceGraphic" operator="in"/></filter>
<filter id="fT4" x="0" y="0" width="100%" height="100%" color-interpolation-filters="sRGB">
<feTurbulence type="fractalNoise" baseFrequency="0.2" numOctaves="2" seed="6" result="n"/>
<feColorMatrix in="n" type="matrix" values="0.09 0 0 0 0.237  0.1 0 0 0 0.256  0.09 0 0 0 0.241  0 0 0 0 1" result="c"/>
<feComposite in="c" in2="SourceGraphic" operator="in"/></filter>
<filter id="fT5" x="0" y="0" width="100%" height="100%" color-interpolation-filters="sRGB">
<feTurbulence type="fractalNoise" baseFrequency="0.2" numOctaves="2" seed="8" result="n"/>
<feColorMatrix in="n" type="matrix" values="0.09 0 0 0 0.222  0.1 0 0 0 0.244  0.09 0 0 0 0.233  0 0 0 0 1" result="c"/>
<feComposite in="c" in2="SourceGraphic" operator="in"/></filter>
<filter id="fH1" x="0" y="0" width="100%" height="100%" color-interpolation-filters="sRGB">
<feTurbulence type="fractalNoise" baseFrequency="0.14" numOctaves="3" seed="5" result="n"/>
<feColorMatrix in="n" type="matrix" values="1 0 0 0 0  1 0 0 0 0  1 0 0 0 0  0 0 0 0 1" result="g"/>
<feComponentTransfer in="g" result="c">
<feFuncR type="table" tableValues="0.035 0.035 0.035 0.055 0.081 0.100 0.100 0.100"/>
<feFuncG type="table" tableValues="0.110 0.110 0.110 0.155 0.215 0.260 0.260 0.260"/>
<feFuncB type="table" tableValues="0.530 0.530 0.530 0.590 0.670 0.730 0.730 0.730"/>
</feComponentTransfer>
<feComposite in="c" in2="SourceGraphic" operator="in"/></filter>
<filter id="fH2" x="0" y="0" width="100%" height="100%" color-interpolation-filters="sRGB">
<feTurbulence type="fractalNoise" baseFrequency="0.14" numOctaves="3" seed="9" result="n"/>
<feColorMatrix in="n" type="matrix" values="1 0 0 0 0  1 0 0 0 0  1 0 0 0 0  0 0 0 0 1" result="g"/>
<feComponentTransfer in="g" result="c">
<feFuncR type="table" tableValues="0.035 0.035 0.035 0.052 0.073 0.090 0.090 0.090"/>
<feFuncG type="table" tableValues="0.100 0.100 0.100 0.142 0.198 0.240 0.240 0.240"/>
<feFuncB type="table" tableValues="0.510 0.510 0.510 0.567 0.643 0.700 0.700 0.700"/>
</feComponentTransfer>
<feComposite in="c" in2="SourceGraphic" operator="in"/></filter>
<filter id="fH3" x="0" y="0" width="100%" height="100%" color-interpolation-filters="sRGB">
<feTurbulence type="fractalNoise" baseFrequency="0.14" numOctaves="3" seed="14" result="n"/>
<feColorMatrix in="n" type="matrix" values="1 0 0 0 0  1 0 0 0 0  1 0 0 0 0  0 0 0 0 1" result="g"/>
<feComponentTransfer in="g" result="c">
<feFuncR type="table" tableValues="0.035 0.035 0.035 0.052 0.073 0.090 0.090 0.090"/>
<feFuncG type="table" tableValues="0.100 0.100 0.100 0.142 0.198 0.240 0.240 0.240"/>
<feFuncB type="table" tableValues="0.510 0.510 0.510 0.567 0.643 0.700 0.700 0.700"/>
</feComponentTransfer>
<feComposite in="c" in2="SourceGraphic" operator="in"/></filter>
<filter id="fH4" x="0" y="0" width="100%" height="100%" color-interpolation-filters="sRGB">
<feTurbulence type="fractalNoise" baseFrequency="0.07" numOctaves="3" seed="21" result="n"/>
<feColorMatrix in="n" type="matrix" values="1 0 0 0 0  1 0 0 0 0  1 0 0 0 0  0 0 0 0 1" result="g"/>
<feComponentTransfer in="g" result="c">
<feFuncR type="table" tableValues="0.060 0.060 0.060 0.066 0.074 0.080 0.080 0.080"/>
<feFuncG type="table" tableValues="0.125 0.125 0.125 0.137 0.153 0.165 0.165 0.165"/>
<feFuncB type="table" tableValues="0.390 0.390 0.390 0.414 0.446 0.470 0.470 0.470"/>
</feComponentTransfer>
<feComposite in="c" in2="SourceGraphic" operator="in"/></filter>
<filter id="fH5" x="0" y="0" width="100%" height="100%" color-interpolation-filters="sRGB">
<feTurbulence type="fractalNoise" baseFrequency="0.14" numOctaves="3" seed="33" result="n"/>
<feColorMatrix in="n" type="matrix" values="1 0 0 0 0  1 0 0 0 0  1 0 0 0 0  0 0 0 0 1" result="g"/>
<feComponentTransfer in="g" result="c">
<feFuncR type="table" tableValues="0.040 0.040 0.040 0.061 0.089 0.110 0.110 0.110"/>
<feFuncG type="table" tableValues="0.120 0.120 0.120 0.171 0.239 0.290 0.290 0.290"/>
<feFuncB type="table" tableValues="0.540 0.540 0.540 0.606 0.694 0.760 0.760 0.760"/>
</feComponentTransfer>
<feComposite in="c" in2="SourceGraphic" operator="in"/></filter>
<filter id="fH6" x="0" y="0" width="100%" height="100%" color-interpolation-filters="sRGB">
<feTurbulence type="fractalNoise" baseFrequency="0.13" numOctaves="3" seed="41" result="n"/>
<feColorMatrix in="n" type="matrix" values="1 0 0 0 0  1 0 0 0 0  1 0 0 0 0  0 0 0 0 1" result="g"/>
<feComponentTransfer in="g" result="c">
<feFuncR type="table" tableValues="0.030 0.030 0.030 0.045 0.065 0.080 0.080 0.080"/>
<feFuncG type="table" tableValues="0.090 0.090 0.090 0.126 0.174 0.210 0.210 0.210"/>
<feFuncB type="table" tableValues="0.470 0.470 0.470 0.521 0.589 0.640 0.640 0.640"/>
</feComponentTransfer>
<feComposite in="c" in2="SourceGraphic" operator="in"/></filter>
<filter id="b1" x="-50%" y="-50%" width="200%" height="200%"><feGaussianBlur stdDeviation="0.6"/></filter>
<filter id="b2" x="-50%" y="-50%" width="200%" height="200%"><feGaussianBlur stdDeviation="1.2"/></filter>
<filter id="b3" x="-50%" y="-50%" width="200%" height="200%"><feGaussianBlur stdDeviation="2.5"/></filter>
<filter id="b6" x="-50%" y="-50%" width="200%" height="200%"><feGaussianBlur stdDeviation="6"/></filter>
<clipPath id="ct0"><rect x="49.7" y="502" width="110.1" height="109.1"/></clipPath>
<clipPath id="cb0"><rect x="49.7" y="614.8" width="110.1" height="110.3"/></clipPath>
<clipPath id="ct1"><rect x="162.7" y="502" width="110.1" height="109.1"/></clipPath>
<clipPath id="cb1"><rect x="162.7" y="614.8" width="110.1" height="110.3"/></clipPath>
<clipPath id="ct2"><rect x="275.9" y="502" width="110.1" height="109.1"/></clipPath>
<clipPath id="cb2"><rect x="275.9" y="614.8" width="110.1" height="110.3"/></clipPath>
<clipPath id="ct3"><rect x="388.6" y="502" width="110.1" height="109.1"/></clipPath>
<clipPath id="cb3"><rect x="388.6" y="614.8" width="110.1" height="110.3"/></clipPath>
<clipPath id="ct4"><rect x="500.9" y="502" width="110.1" height="109.1"/></clipPath>
<clipPath id="cb4"><rect x="500.9" y="614.8" width="110.1" height="110.3"/></clipPath>
<clipPath id="ct5"><rect x="614" y="502" width="110.1" height="109.1"/></clipPath>
<clipPath id="cb5"><rect x="614" y="614.8" width="110.1" height="110.3"/></clipPath>
<linearGradient id="jet" x1="0" y1="1" x2="0" y2="0">
<stop offset="0" stop-color="#141f66"/>
<stop offset="0.1" stop-color="#18308a"/>
<stop offset="0.2" stop-color="#1c48a0"/>
<stop offset="0.3" stop-color="#2070c0"/>
<stop offset="0.4" stop-color="#30a8b8"/>
<stop offset="0.5" stop-color="#60c080"/>
<stop offset="0.54" stop-color="#a0d060"/>
<stop offset="0.6" stop-color="#e0e040"/>
<stop offset="0.7" stop-color="#eab030"/>
<stop offset="0.8" stop-color="#e06020"/>
<stop offset="0.9" stop-color="#c42020"/>
<stop offset="1" stop-color="#7a1018"/>
</linearGradient>
</defs>
<line x1="51.8" y1="494.5" x2="268.2" y2="494.5" stroke="#3a3a3a" stroke-width="1"/>
<text x="162.4" y="489.9" font-size="10.6" text-anchor="middle" fill="#000" font-weight="bold" >NC</text>
<line x1="278" y1="494.5" x2="495.9" y2="494.5" stroke="#3a3a3a" stroke-width="1"/>
<text x="388.9" y="489.9" font-size="10.8" text-anchor="middle" fill="#000" font-weight="bold" textLength="57" lengthAdjust="spacingAndGlyphs">Kindlin-2 si1</text>
<line x1="504.3" y1="494.5" x2="720" y2="494.5" stroke="#3a3a3a" stroke-width="1"/>
<text x="614.5" y="489.9" font-size="10.8" text-anchor="middle" fill="#000" font-weight="bold" textLength="57" lengthAdjust="spacingAndGlyphs">Kindlin-2 si2</text>
<g clip-path="url(#ct0)">
<rect x="49.7" y="502" width="110.1" height="109.1" fill="#54595a"/>
<rect x="49.7" y="502" width="110.1" height="109.1" fill="#000" filter="url(#fT0)"/>
<circle cx="86.4" cy="521.1" r="2.2" fill="#58c870" opacity="0.13" filter="url(#b1)"/>
<circle cx="61" cy="559.6" r="1.9" fill="#58c870" opacity="0.13" filter="url(#b1)"/>
<circle cx="59.6" cy="556.7" r="1.5" fill="#58c870" opacity="0.13" filter="url(#b1)"/>
<circle cx="97.5" cy="513" r="1.6" fill="#58c870" opacity="0.13" filter="url(#b1)"/>
<circle cx="96.6" cy="588.7" r="1.6" fill="#58c870" opacity="0.13" filter="url(#b1)"/>
<circle cx="76.2" cy="568.7" r="2.4" fill="#58c870" opacity="0.13" filter="url(#b1)"/>
<circle cx="112" cy="545.7" r="2.5" fill="#58c870" opacity="0.13" filter="url(#b1)"/>
<circle cx="58.4" cy="591.8" r="1.8" fill="#58c870" opacity="0.13" filter="url(#b1)"/>
<circle cx="68.3" cy="517.8" r="1.8" fill="#58c870" opacity="0.13" filter="url(#b1)"/>
<circle cx="136.1" cy="524.1" r="2.1" fill="#58c870" opacity="0.13" filter="url(#b1)"/>
<circle cx="118.2" cy="543.2" r="2" fill="#58c870" opacity="0.13" filter="url(#b1)"/>
<circle cx="60" cy="512" r="1.7" fill="#58c870" opacity="0.13" filter="url(#b1)"/>
<circle cx="122.4" cy="548.8" r="1.8" fill="#58c870" opacity="0.13" filter="url(#b1)"/>
<circle cx="112.8" cy="551.3" r="1.8" fill="#58c870" opacity="0.13" filter="url(#b1)"/>
<ellipse cx="101" cy="555.5" rx="13" ry="5.4" transform="rotate(-17 101 555.5)" fill="#434c47" stroke="#66726a" stroke-width="0.9" filter="url(#b1)"/>
<path d="M89.5,559.5 Q100,563.5 112,553.5" fill="none" stroke="#9fb0a4" stroke-width="0.9" filter="url(#b1)"/>
<circle cx="94" cy="554" r="0.9" fill="#b8d0c0" filter="url(#b1)"/>
<circle cx="59.5" cy="560" r="2.3" fill="#2a2c2b" filter="url(#b1)"/><circle cx="59" cy="561.5" r="1" fill="#ddd" filter="url(#b1)"/>
<circle cx="108.5" cy="592" r="1.6" fill="#2a2c2b" filter="url(#b1)"/><circle cx="108" cy="593" r="0.7" fill="#ddd" filter="url(#b1)"/>
</g>
<g clip-path="url(#ct1)">
<rect x="162.7" y="502" width="110.1" height="109.1" fill="#545a58"/>
<rect x="162.7" y="502" width="110.1" height="109.1" fill="#000" filter="url(#fT1)"/>
<circle cx="246.9" cy="575.9" r="1.7" fill="#58c870" opacity="0.16" filter="url(#b1)"/>
<circle cx="224.7" cy="558.5" r="2.4" fill="#58c870" opacity="0.16" filter="url(#b1)"/>
<circle cx="240.4" cy="534.8" r="2.5" fill="#58c870" opacity="0.16" filter="url(#b1)"/>
<circle cx="178.6" cy="547.8" r="2.3" fill="#58c870" opacity="0.16" filter="url(#b1)"/>
<circle cx="182.1" cy="554.9" r="1.5" fill="#58c870" opacity="0.16" filter="url(#b1)"/>
<circle cx="234.2" cy="582.5" r="2.1" fill="#58c870" opacity="0.16" filter="url(#b1)"/>
<circle cx="255.1" cy="537.4" r="2.2" fill="#58c870" opacity="0.16" filter="url(#b1)"/>
<circle cx="226.7" cy="564" r="2" fill="#58c870" opacity="0.16" filter="url(#b1)"/>
<circle cx="251.5" cy="600.5" r="2" fill="#58c870" opacity="0.16" filter="url(#b1)"/>
<circle cx="233.8" cy="512.1" r="2.2" fill="#58c870" opacity="0.16" filter="url(#b1)"/>
<circle cx="232.1" cy="605.3" r="2.3" fill="#58c870" opacity="0.16" filter="url(#b1)"/>
<circle cx="195.4" cy="544.6" r="2.2" fill="#58c870" opacity="0.16" filter="url(#b1)"/>
<circle cx="169" cy="552.2" r="1.7" fill="#58c870" opacity="0.16" filter="url(#b1)"/>
<circle cx="178.5" cy="511.9" r="2.3" fill="#58c870" opacity="0.16" filter="url(#b1)"/>
<circle cx="179.8" cy="530.8" r="1.9" fill="#58c870" opacity="0.16" filter="url(#b1)"/>
<circle cx="254.7" cy="514.1" r="1.9" fill="#58c870" opacity="0.16" filter="url(#b1)"/>
<circle cx="236.2" cy="531.7" r="3.2" fill="#58c870" opacity="0.8" filter="url(#b1)"/>
<circle cx="198" cy="527" r="2.2" fill="#58c870" opacity="0.35" filter="url(#b1)"/>
<circle cx="197" cy="536" r="2" fill="#58c870" opacity="0.3" filter="url(#b1)"/>
<circle cx="254" cy="551" r="2" fill="#58c870" opacity="0.3" filter="url(#b1)"/>
<circle cx="191" cy="608" r="2.2" fill="#58c870" opacity="0.35" filter="url(#b1)"/>
<circle cx="247" cy="522" r="2" fill="#58c870" opacity="0.25" filter="url(#b1)"/>
<ellipse cx="222.5" cy="547" rx="10" ry="6.5" transform="rotate(-25 222.5 547)" fill="#5c6a60" stroke="#363c38" stroke-width="1.2" filter="url(#b1)"/>
<path d="M213,548 Q215,554 221,553 Q227,551 231,548" fill="none" stroke="#b4c8b8" stroke-width="1.4" filter="url(#b1)"/>
<circle cx="241" cy="517" r="2" fill="#3a3f3c" filter="url(#b1)"/>
</g>
<g clip-path="url(#ct2)">
<rect x="275.9" y="502" width="110.1" height="109.1" fill="#5a5e5c"/>
<rect x="275.9" y="502" width="110.1" height="109.1" fill="#000" filter="url(#fT2)"/>
<circle cx="335.4" cy="594.3" r="2.1" fill="#58c870" opacity="0.15" filter="url(#b1)"/>
<circle cx="367.2" cy="533.8" r="1.8" fill="#58c870" opacity="0.15" filter="url(#b1)"/>
<circle cx="316.1" cy="594.4" r="2.2" fill="#58c870" opacity="0.15" filter="url(#b1)"/>
<circle cx="295.1" cy="523.6" r="1.7" fill="#58c870" opacity="0.15" filter="url(#b1)"/>
<circle cx="303.5" cy="554.5" r="1.9" fill="#58c870" opacity="0.15" filter="url(#b1)"/>
<circle cx="306.4" cy="506.4" r="1.8" fill="#58c870" opacity="0.15" filter="url(#b1)"/>
<circle cx="317.2" cy="562.6" r="2.2" fill="#58c870" opacity="0.15" filter="url(#b1)"/>
<circle cx="349.6" cy="557.5" r="1.9" fill="#58c870" opacity="0.15" filter="url(#b1)"/>
<circle cx="321.5" cy="598.5" r="2" fill="#58c870" opacity="0.4" filter="url(#b1)"/>
<circle cx="360" cy="589" r="2.2" fill="#58c870" opacity="0.25" filter="url(#b1)"/>
<circle cx="281" cy="578" r="2" fill="#58c870" opacity="0.2" filter="url(#b1)"/>
<path d="M319,544 L351,540 L347,548 L338,558 L327,557 L322,550 Z" fill="#6f7571" stroke="#3f4341" stroke-width="0.8" filter="url(#b1)"/>
<circle cx="339.6" cy="542.8" r="0.6" fill="#b9c2ba" opacity="0.7"/>
<circle cx="345.4" cy="553.7" r="0.6" fill="#b9c2ba" opacity="0.7"/>
<circle cx="344.7" cy="554" r="0.6" fill="#b9c2ba" opacity="0.7"/>
<circle cx="332.2" cy="548" r="0.6" fill="#b9c2ba" opacity="0.7"/>
<circle cx="324.7" cy="551.5" r="0.6" fill="#b9c2ba" opacity="0.7"/>
<circle cx="323.6" cy="543" r="0.6" fill="#b9c2ba" opacity="0.7"/>
<circle cx="327.4" cy="544.4" r="0.6" fill="#b9c2ba" opacity="0.7"/>
<circle cx="330.8" cy="542.8" r="0.6" fill="#b9c2ba" opacity="0.7"/>
<circle cx="322" cy="544.3" r="0.6" fill="#b9c2ba" opacity="0.7"/>
<circle cx="324.6" cy="547.5" r="0.6" fill="#b9c2ba" opacity="0.7"/>
<circle cx="322.7" cy="555.1" r="0.6" fill="#b9c2ba" opacity="0.7"/>
<circle cx="338" cy="544.2" r="0.6" fill="#b9c2ba" opacity="0.7"/>
<circle cx="328.6" cy="547.2" r="0.6" fill="#b9c2ba" opacity="0.7"/>
<circle cx="331.5" cy="543.8" r="0.6" fill="#b9c2ba" opacity="0.7"/>
<circle cx="344.1" cy="556.9" r="0.6" fill="#b9c2ba" opacity="0.7"/>
<circle cx="334.1" cy="549.3" r="0.6" fill="#b9c2ba" opacity="0.7"/>
<circle cx="324.2" cy="543.5" r="0.6" fill="#b9c2ba" opacity="0.7"/>
<circle cx="330.9" cy="546" r="0.6" fill="#b9c2ba" opacity="0.7"/>
<circle cx="343.6" cy="544.4" r="0.6" fill="#b9c2ba" opacity="0.7"/>
<circle cx="322.6" cy="556.3" r="0.6" fill="#b9c2ba" opacity="0.7"/>
<circle cx="335.7" cy="544.2" r="0.6" fill="#b9c2ba" opacity="0.7"/>
<circle cx="336.1" cy="542.4" r="0.6" fill="#b9c2ba" opacity="0.7"/>
<circle cx="335.7" cy="556.7" r="0.6" fill="#b9c2ba" opacity="0.7"/>
<circle cx="344.4" cy="552.4" r="0.6" fill="#b9c2ba" opacity="0.7"/>
<circle cx="328.8" cy="547.5" r="0.6" fill="#b9c2ba" opacity="0.7"/>
<circle cx="326.3" cy="553.6" r="0.6" fill="#b9c2ba" opacity="0.7"/>
<circle cx="335.8" cy="553.7" r="0.6" fill="#b9c2ba" opacity="0.7"/>
<circle cx="330.6" cy="545.3" r="0.6" fill="#b9c2ba" opacity="0.7"/>
<circle cx="343.1" cy="556.8" r="0.6" fill="#b9c2ba" opacity="0.7"/>
<circle cx="344.2" cy="554.1" r="0.6" fill="#b9c2ba" opacity="0.7"/>
<circle cx="343.3" cy="553.1" r="0.6" fill="#b9c2ba" opacity="0.7"/>
<circle cx="327.9" cy="549.8" r="0.6" fill="#b9c2ba" opacity="0.7"/>
<circle cx="331.2" cy="542.4" r="0.6" fill="#b9c2ba" opacity="0.7"/>
<circle cx="322.7" cy="546.2" r="0.6" fill="#b9c2ba" opacity="0.7"/>
<circle cx="328.7" cy="552.4" r="0.6" fill="#b9c2ba" opacity="0.7"/>
<circle cx="346.9" cy="548.7" r="0.6" fill="#b9c2ba" opacity="0.7"/>
<circle cx="346.4" cy="556.8" r="0.6" fill="#b9c2ba" opacity="0.7"/>
<circle cx="346.8" cy="547.5" r="0.6" fill="#b9c2ba" opacity="0.7"/>
<circle cx="327.7" cy="545.4" r="0.6" fill="#b9c2ba" opacity="0.7"/>
<circle cx="327.1" cy="545.1" r="0.6" fill="#b9c2ba" opacity="0.7"/>
</g>
<g clip-path="url(#ct3)">
<rect x="388.6" y="502" width="110.1" height="109.1" fill="#4a5c4c"/>
<rect x="388.6" y="502" width="110.1" height="109.1" fill="#000" filter="url(#fT3)"/>
<circle cx="456.1" cy="597.6" r="1.5" fill="#7fd096" opacity="0.49178937050461524" filter="url(#b1)"/>
<circle cx="459.2" cy="587.2" r="0.9" fill="#7fd096" opacity="0.5642342600819577" filter="url(#b1)"/>
<circle cx="486.1" cy="585.4" r="1.4" fill="#7fd096" opacity="0.49121309783760003" filter="url(#b1)"/>
<circle cx="409.3" cy="586.1" r="1.1" fill="#7fd096" opacity="0.6203294275586764" filter="url(#b1)"/>
<circle cx="492.6" cy="545.2" r="1.1" fill="#7fd096" opacity="0.6787188025859572" filter="url(#b1)"/>
<circle cx="466.7" cy="521.7" r="0.9" fill="#7fd096" opacity="0.3604602801525959" filter="url(#b1)"/>
<circle cx="485.6" cy="587.9" r="0.9" fill="#7fd096" opacity="0.6306041914101548" filter="url(#b1)"/>
<circle cx="493.5" cy="572.4" r="1.1" fill="#7fd096" opacity="0.5194640175947116" filter="url(#b1)"/>
<circle cx="404.4" cy="505.5" r="1.6" fill="#7fd096" opacity="0.5598698678695322" filter="url(#b1)"/>
<circle cx="445.9" cy="601.1" r="1.1" fill="#7fd096" opacity="0.6486971711957616" filter="url(#b1)"/>
<circle cx="477.3" cy="525.9" r="1" fill="#7fd096" opacity="0.41718666106808755" filter="url(#b1)"/>
<circle cx="415.9" cy="565" r="1" fill="#7fd096" opacity="0.46760502110181745" filter="url(#b1)"/>
<circle cx="404.4" cy="598.6" r="1.1" fill="#7fd096" opacity="0.4832643945886934" filter="url(#b1)"/>
<circle cx="451.9" cy="598" r="1.1" fill="#7fd096" opacity="0.6670884337370657" filter="url(#b1)"/>
<circle cx="443.3" cy="559.3" r="1.2" fill="#7fd096" opacity="0.307481947162168" filter="url(#b1)"/>
<circle cx="436.8" cy="523" r="0.8" fill="#7fd096" opacity="0.6196681801968886" filter="url(#b1)"/>
<circle cx="408.7" cy="553.2" r="1.4" fill="#7fd096" opacity="0.5225902499608852" filter="url(#b1)"/>
<circle cx="424.8" cy="557.9" r="1.2" fill="#7fd096" opacity="0.6137089901461902" filter="url(#b1)"/>
<circle cx="401.7" cy="562.3" r="1" fill="#7fd096" opacity="0.4107668281859126" filter="url(#b1)"/>
<circle cx="471.7" cy="556.8" r="1.2" fill="#7fd096" opacity="0.6039972570360066" filter="url(#b1)"/>
<circle cx="486.4" cy="550.1" r="1.3" fill="#7fd096" opacity="0.5022212523404886" filter="url(#b1)"/>
<circle cx="444.4" cy="576" r="1.2" fill="#7fd096" opacity="0.5133141750316683" filter="url(#b1)"/>
<circle cx="440.8" cy="601.9" r="1.4" fill="#7fd096" opacity="0.6506141927122373" filter="url(#b1)"/>
<circle cx="489.5" cy="531" r="1.2" fill="#7fd096" opacity="0.6773068136053935" filter="url(#b1)"/>
<circle cx="478.8" cy="518.3" r="0.9" fill="#7fd096" opacity="0.4768472353100174" filter="url(#b1)"/>
<circle cx="398.2" cy="529" r="0.9" fill="#7fd096" opacity="0.5677888581239583" filter="url(#b1)"/>
<circle cx="472.9" cy="597.3" r="0.9" fill="#7fd096" opacity="0.5864479531152784" filter="url(#b1)"/>
<circle cx="459.9" cy="518.9" r="1.5" fill="#7fd096" opacity="0.6870179130665535" filter="url(#b1)"/>
<circle cx="413.7" cy="603.1" r="1.1" fill="#7fd096" opacity="0.49490430999635204" filter="url(#b1)"/>
<circle cx="494.5" cy="590.6" r="0.9" fill="#7fd096" opacity="0.47260872719905556" filter="url(#b1)"/>
<circle cx="444.7" cy="539.3" r="1" fill="#7fd096" opacity="0.42741022733507755" filter="url(#b1)"/>
<circle cx="466.4" cy="506" r="1.2" fill="#7fd096" opacity="0.47618324072108076" filter="url(#b1)"/>
<circle cx="392.5" cy="538.5" r="1.3" fill="#7fd096" opacity="0.5049049137853822" filter="url(#b1)"/>
<circle cx="397.4" cy="606.4" r="1.4" fill="#7fd096" opacity="0.6886783834588296" filter="url(#b1)"/>
<circle cx="401.6" cy="531.6" r="0.8" fill="#7fd096" opacity="0.6115989720271569" filter="url(#b1)"/>
<circle cx="419" cy="517.5" r="1.1" fill="#7fd096" opacity="0.6645655264734436" filter="url(#b1)"/>
<circle cx="476.6" cy="530.9" r="0.9" fill="#7fd096" opacity="0.6676686034047085" filter="url(#b1)"/>
<circle cx="450.5" cy="576.8" r="0.9" fill="#7fd096" opacity="0.3230106049763785" filter="url(#b1)"/>
<circle cx="462.9" cy="548.2" r="0.9" fill="#7fd096" opacity="0.6753398836160651" filter="url(#b1)"/>
<circle cx="457.2" cy="587.4" r="0.9" fill="#7fd096" opacity="0.6424914545488595" filter="url(#b1)"/>
<circle cx="397.6" cy="593.7" r="1.2" fill="#7fd096" opacity="0.43566071091385444" filter="url(#b1)"/>
<circle cx="448.7" cy="600.4" r="1" fill="#7fd096" opacity="0.35168991995813154" filter="url(#b1)"/>
<circle cx="445.9" cy="528.8" r="0.9" fill="#7fd096" opacity="0.3645796366390445" filter="url(#b1)"/>
<circle cx="395.9" cy="525" r="1" fill="#7fd096" opacity="0.4220021591516907" filter="url(#b1)"/>
<circle cx="470.3" cy="534.2" r="1.2" fill="#7fd096" opacity="0.37115995368517146" filter="url(#b1)"/>
<circle cx="427" cy="505.9" r="1" fill="#7fd096" opacity="0.3061384469820079" filter="url(#b1)"/>
<circle cx="467.6" cy="561.3" r="1" fill="#7fd096" opacity="0.4899042554070935" filter="url(#b1)"/>
<circle cx="488.7" cy="515.1" r="1.5" fill="#7fd096" opacity="0.4728710343137664" filter="url(#b1)"/>
<circle cx="442.6" cy="590.8" r="1.1" fill="#7fd096" opacity="0.5026743808620662" filter="url(#b1)"/>
<circle cx="462.8" cy="606.2" r="1.1" fill="#7fd096" opacity="0.6329146173057798" filter="url(#b1)"/>
<circle cx="464.8" cy="570.1" r="1.1" fill="#7fd096" opacity="0.4390208720620928" filter="url(#b1)"/>
<circle cx="396.3" cy="517.5" r="0.9" fill="#7fd096" opacity="0.596355679273171" filter="url(#b1)"/>
<circle cx="417.4" cy="521" r="0.9" fill="#7fd096" opacity="0.6365075927403026" filter="url(#b1)"/>
<circle cx="482" cy="573.7" r="1" fill="#7fd096" opacity="0.3968851735969946" filter="url(#b1)"/>
<circle cx="421.4" cy="551.8" r="0.9" fill="#7fd096" opacity="0.47832984329349604" filter="url(#b1)"/>
<circle cx="418.2" cy="604" r="1.6" fill="#7fd096" opacity="0.5188293496475633" filter="url(#b1)"/>
<circle cx="416.3" cy="604.4" r="1" fill="#7fd096" opacity="0.4426335668055948" filter="url(#b1)"/>
<circle cx="390.7" cy="543.7" r="1.2" fill="#7fd096" opacity="0.5011056025505598" filter="url(#b1)"/>
<circle cx="411.7" cy="556.5" r="0.8" fill="#7fd096" opacity="0.4056674743206628" filter="url(#b1)"/>
<circle cx="400" cy="545.5" r="0.8" fill="#7fd096" opacity="0.308997658788103" filter="url(#b1)"/>
<circle cx="422.5" cy="528.2" r="1.3" fill="#7fd096" opacity="0.5116758193172439" filter="url(#b1)"/>
<circle cx="469.4" cy="572.4" r="1.4" fill="#7fd096" opacity="0.651636277426956" filter="url(#b1)"/>
<circle cx="431.5" cy="537.9" r="1.6" fill="#7fd096" opacity="0.35978525961690117" filter="url(#b1)"/>
<circle cx="466.6" cy="570.9" r="0.8" fill="#7fd096" opacity="0.6341158172935575" filter="url(#b1)"/>
<circle cx="484.3" cy="569.2" r="1.4" fill="#7fd096" opacity="0.6248875662849576" filter="url(#b1)"/>
<circle cx="405.2" cy="558.5" r="1.2" fill="#7fd096" opacity="0.6339750373748105" filter="url(#b1)"/>
<circle cx="475.1" cy="589.9" r="1.3" fill="#7fd096" opacity="0.6571318945622031" filter="url(#b1)"/>
<circle cx="462.3" cy="576.1" r="1" fill="#7fd096" opacity="0.31246421051580336" filter="url(#b1)"/>
<circle cx="404.6" cy="541.5" r="0.9" fill="#7fd096" opacity="0.6343284799199884" filter="url(#b1)"/>
<circle cx="449.2" cy="569.3" r="1.3" fill="#7fd096" opacity="0.5722656704323281" filter="url(#b1)"/>
<circle cx="391" cy="554.6" r="2" fill="#7fe09a" opacity="0.85" filter="url(#b1)"/>
<circle cx="407.3" cy="583" r="2" fill="#7fe09a" opacity="0.85" filter="url(#b1)"/>
<circle cx="480.3" cy="515.3" r="2" fill="#7fe09a" opacity="0.85" filter="url(#b1)"/>
<circle cx="465.4" cy="526.3" r="2" fill="#7fe09a" opacity="0.85" filter="url(#b1)"/>
<circle cx="471.4" cy="574" r="2" fill="#7fe09a" opacity="0.85" filter="url(#b1)"/>
<circle cx="489.3" cy="593.3" r="2" fill="#7fe09a" opacity="0.85" filter="url(#b1)"/>
<circle cx="392.4" cy="600.8" r="2" fill="#7fe09a" opacity="0.85" filter="url(#b1)"/>
<circle cx="394" cy="508.4" r="2" fill="#7fe09a" opacity="0.85" filter="url(#b1)"/>
<circle cx="483.3" cy="606.7" r="2" fill="#7fe09a" opacity="0.85" filter="url(#b1)"/>
<path d="M440,537 Q453,545 460,563 Q461,568 459,571" fill="none" stroke="#2f3a31" stroke-width="1.6" filter="url(#b1)"/>
<ellipse cx="446.5" cy="559.7" rx="12.5" ry="20.5" transform="rotate(-15 446.5 559.7)" fill="#6aa878" opacity="0.9" filter="url(#b2)"/>
<circle cx="445.4" cy="560.9" r="0.65" fill="#c8ecd0" opacity="0.75"/>
<circle cx="443.8" cy="544.8" r="0.65" fill="#c8ecd0" opacity="0.75"/>
<circle cx="438.3" cy="562.8" r="0.65" fill="#c8ecd0" opacity="0.75"/>
<circle cx="443.3" cy="557.2" r="0.65" fill="#c8ecd0" opacity="0.75"/>
<circle cx="442.6" cy="551.7" r="0.65" fill="#c8ecd0" opacity="0.75"/>
<circle cx="452.2" cy="563.2" r="0.65" fill="#c8ecd0" opacity="0.75"/>
<circle cx="442.7" cy="552.7" r="0.65" fill="#c8ecd0" opacity="0.75"/>
<circle cx="439.6" cy="543" r="0.65" fill="#c8ecd0" opacity="0.75"/>
<circle cx="439.7" cy="563.1" r="0.65" fill="#c8ecd0" opacity="0.75"/>
<circle cx="438.1" cy="565.4" r="0.65" fill="#c8ecd0" opacity="0.75"/>
<circle cx="442.3" cy="546.2" r="0.65" fill="#c8ecd0" opacity="0.75"/>
<circle cx="442.9" cy="557.3" r="0.65" fill="#c8ecd0" opacity="0.75"/>
<circle cx="451.5" cy="566.9" r="0.65" fill="#c8ecd0" opacity="0.75"/>
<circle cx="442.5" cy="550.7" r="0.65" fill="#c8ecd0" opacity="0.75"/>
<circle cx="444.7" cy="560.1" r="0.65" fill="#c8ecd0" opacity="0.75"/>
<circle cx="452.2" cy="562.4" r="0.65" fill="#c8ecd0" opacity="0.75"/>
<circle cx="437.6" cy="548.7" r="0.65" fill="#c8ecd0" opacity="0.75"/>
<circle cx="440.6" cy="552.7" r="0.65" fill="#c8ecd0" opacity="0.75"/>
<circle cx="438.5" cy="561.6" r="0.65" fill="#c8ecd0" opacity="0.75"/>
<circle cx="442.9" cy="563" r="0.65" fill="#c8ecd0" opacity="0.75"/>
<circle cx="448" cy="554.4" r="0.65" fill="#c8ecd0" opacity="0.75"/>
<circle cx="455.2" cy="554.9" r="0.65" fill="#c8ecd0" opacity="0.75"/>
<circle cx="453.5" cy="559.7" r="0.65" fill="#c8ecd0" opacity="0.75"/>
<circle cx="445.1" cy="543.1" r="0.65" fill="#c8ecd0" opacity="0.75"/>
<circle cx="441.8" cy="565.2" r="0.65" fill="#c8ecd0" opacity="0.75"/>
<circle cx="454.1" cy="576.8" r="0.65" fill="#c8ecd0" opacity="0.75"/>
<circle cx="452.3" cy="573.3" r="0.65" fill="#c8ecd0" opacity="0.75"/>
<circle cx="454.1" cy="569.2" r="0.65" fill="#c8ecd0" opacity="0.75"/>
<circle cx="449" cy="557.5" r="0.65" fill="#c8ecd0" opacity="0.75"/>
<circle cx="445.4" cy="547.9" r="0.65" fill="#c8ecd0" opacity="0.75"/>
<circle cx="449.4" cy="548.6" r="0.65" fill="#c8ecd0" opacity="0.75"/>
<circle cx="452.7" cy="577.2" r="0.65" fill="#c8ecd0" opacity="0.75"/>
<circle cx="444.4" cy="561.4" r="0.65" fill="#c8ecd0" opacity="0.75"/>
<circle cx="453.4" cy="558.5" r="0.65" fill="#c8ecd0" opacity="0.75"/>
<circle cx="441.5" cy="565.4" r="0.65" fill="#c8ecd0" opacity="0.75"/>
<circle cx="452.6" cy="567.5" r="0.65" fill="#c8ecd0" opacity="0.75"/>
<circle cx="447.1" cy="577" r="0.65" fill="#c8ecd0" opacity="0.75"/>
<circle cx="455.1" cy="557.8" r="0.65" fill="#c8ecd0" opacity="0.75"/>
<circle cx="446.2" cy="554.7" r="0.65" fill="#c8ecd0" opacity="0.75"/>
<circle cx="451.7" cy="551.2" r="0.65" fill="#c8ecd0" opacity="0.75"/>
<circle cx="448.8" cy="553.5" r="0.65" fill="#c8ecd0" opacity="0.75"/>
<circle cx="444.1" cy="570.2" r="0.65" fill="#c8ecd0" opacity="0.75"/>
<circle cx="454" cy="557.9" r="0.65" fill="#c8ecd0" opacity="0.75"/>
<circle cx="444.6" cy="571.1" r="0.65" fill="#c8ecd0" opacity="0.75"/>
<circle cx="446.9" cy="564.6" r="0.65" fill="#c8ecd0" opacity="0.75"/>
<circle cx="456.9" cy="568" r="0.65" fill="#c8ecd0" opacity="0.75"/>
<circle cx="449.3" cy="578.4" r="0.65" fill="#c8ecd0" opacity="0.75"/>
<circle cx="449" cy="569.9" r="0.65" fill="#c8ecd0" opacity="0.75"/>
<circle cx="441.3" cy="561.5" r="0.65" fill="#c8ecd0" opacity="0.75"/>
<circle cx="442.9" cy="575.5" r="0.65" fill="#c8ecd0" opacity="0.75"/>
<circle cx="449.5" cy="547.5" r="0.65" fill="#c8ecd0" opacity="0.75"/>
<circle cx="435.1" cy="550.2" r="0.65" fill="#c8ecd0" opacity="0.75"/>
<circle cx="451.6" cy="553.4" r="0.65" fill="#c8ecd0" opacity="0.75"/>
<circle cx="444.3" cy="556.8" r="0.65" fill="#c8ecd0" opacity="0.75"/>
<circle cx="441.3" cy="548.8" r="0.65" fill="#c8ecd0" opacity="0.75"/>
<circle cx="441.4" cy="546" r="0.65" fill="#c8ecd0" opacity="0.75"/>
<circle cx="446.7" cy="564.7" r="0.65" fill="#c8ecd0" opacity="0.75"/>
<circle cx="448.4" cy="556.7" r="0.65" fill="#c8ecd0" opacity="0.75"/>
<circle cx="440.6" cy="564.4" r="0.65" fill="#c8ecd0" opacity="0.75"/>
<circle cx="448.2" cy="576.3" r="0.65" fill="#c8ecd0" opacity="0.75"/>
<circle cx="450.8" cy="557.5" r="0.65" fill="#c8ecd0" opacity="0.75"/>
<circle cx="440.1" cy="553.4" r="0.65" fill="#c8ecd0" opacity="0.75"/>
<circle cx="438.6" cy="558.6" r="0.65" fill="#c8ecd0" opacity="0.75"/>
<circle cx="450.1" cy="566.2" r="0.65" fill="#c8ecd0" opacity="0.75"/>
<circle cx="454" cy="576.4" r="0.65" fill="#c8ecd0" opacity="0.75"/>
<circle cx="441.1" cy="562.3" r="0.65" fill="#c8ecd0" opacity="0.75"/>
<circle cx="451.4" cy="547.8" r="0.65" fill="#c8ecd0" opacity="0.75"/>
<circle cx="443" cy="563.9" r="0.65" fill="#c8ecd0" opacity="0.75"/>
<circle cx="448.8" cy="565.3" r="0.65" fill="#c8ecd0" opacity="0.75"/>
<circle cx="445.8" cy="565.7" r="0.65" fill="#c8ecd0" opacity="0.75"/>
<circle cx="449.3" cy="569.6" r="0.65" fill="#c8ecd0" opacity="0.75"/>
<circle cx="434.7" cy="556.3" r="0.65" fill="#c8ecd0" opacity="0.75"/>
<circle cx="442.2" cy="549" r="0.65" fill="#c8ecd0" opacity="0.75"/>
<circle cx="441.7" cy="569.4" r="0.65" fill="#c8ecd0" opacity="0.75"/>
<circle cx="444" cy="569.4" r="0.65" fill="#c8ecd0" opacity="0.75"/>
<circle cx="452.3" cy="562.6" r="0.65" fill="#c8ecd0" opacity="0.75"/>
<circle cx="449.2" cy="558.1" r="0.65" fill="#c8ecd0" opacity="0.75"/>
<circle cx="437.6" cy="563" r="0.65" fill="#c8ecd0" opacity="0.75"/>
<circle cx="447.1" cy="553.2" r="0.65" fill="#c8ecd0" opacity="0.75"/>
<circle cx="448.2" cy="569.8" r="0.65" fill="#c8ecd0" opacity="0.75"/>
<circle cx="442.7" cy="569.5" r="0.65" fill="#c8ecd0" opacity="0.75"/>
<circle cx="453.7" cy="552.8" r="0.65" fill="#c8ecd0" opacity="0.75"/>
<circle cx="446.5" cy="558.3" r="0.65" fill="#c8ecd0" opacity="0.75"/>
<circle cx="455.6" cy="560.9" r="0.65" fill="#c8ecd0" opacity="0.75"/>
<circle cx="449.2" cy="551.2" r="0.65" fill="#c8ecd0" opacity="0.75"/>
<circle cx="445.8" cy="560.5" r="0.65" fill="#c8ecd0" opacity="0.75"/>
<circle cx="441.7" cy="574.1" r="0.65" fill="#c8ecd0" opacity="0.75"/>
<circle cx="445.6" cy="544.3" r="0.65" fill="#c8ecd0" opacity="0.75"/>
<circle cx="450.6" cy="557.4" r="0.65" fill="#c8ecd0" opacity="0.75"/>
<circle cx="450.6" cy="564.1" r="0.65" fill="#c8ecd0" opacity="0.75"/>
<circle cx="436.8" cy="561.3" r="0.65" fill="#c8ecd0" opacity="0.75"/>
<circle cx="452.5" cy="552.4" r="0.65" fill="#c8ecd0" opacity="0.75"/>
<circle cx="436.4" cy="549.8" r="0.65" fill="#c8ecd0" opacity="0.75"/>
<circle cx="439.7" cy="566.6" r="0.65" fill="#c8ecd0" opacity="0.75"/>
<circle cx="456.2" cy="561.6" r="0.65" fill="#c8ecd0" opacity="0.75"/>
<circle cx="452.7" cy="577.5" r="0.65" fill="#c8ecd0" opacity="0.75"/>
<circle cx="439.9" cy="553.9" r="0.65" fill="#c8ecd0" opacity="0.75"/>
<circle cx="451.8" cy="565.9" r="0.65" fill="#c8ecd0" opacity="0.75"/>
<circle cx="436.6" cy="551.1" r="0.65" fill="#c8ecd0" opacity="0.75"/>
<circle cx="449.1" cy="563" r="0.65" fill="#c8ecd0" opacity="0.75"/>
<circle cx="437.4" cy="561.1" r="0.65" fill="#c8ecd0" opacity="0.75"/>
<circle cx="444" cy="567.4" r="0.65" fill="#c8ecd0" opacity="0.75"/>
<circle cx="444.8" cy="559.8" r="0.65" fill="#c8ecd0" opacity="0.75"/>
<circle cx="447.5" cy="573" r="0.65" fill="#c8ecd0" opacity="0.75"/>
<circle cx="452.9" cy="554.3" r="0.65" fill="#c8ecd0" opacity="0.75"/>
<circle cx="448.7" cy="550.5" r="0.65" fill="#c8ecd0" opacity="0.75"/>
<circle cx="449.4" cy="569.4" r="0.65" fill="#c8ecd0" opacity="0.75"/>
<circle cx="453.3" cy="554.1" r="0.65" fill="#c8ecd0" opacity="0.75"/>
<circle cx="446.3" cy="563.3" r="0.65" fill="#c8ecd0" opacity="0.75"/>
<circle cx="437.5" cy="563.5" r="0.65" fill="#c8ecd0" opacity="0.75"/>
<circle cx="442.8" cy="566.5" r="0.65" fill="#c8ecd0" opacity="0.75"/>
<circle cx="436.1" cy="547.1" r="0.65" fill="#c8ecd0" opacity="0.75"/>
<circle cx="447.4" cy="563.8" r="0.65" fill="#c8ecd0" opacity="0.75"/>
<circle cx="445.7" cy="571.7" r="0.65" fill="#c8ecd0" opacity="0.75"/>
<circle cx="441.7" cy="553.9" r="0.65" fill="#c8ecd0" opacity="0.75"/>
<circle cx="443.8" cy="544.9" r="0.65" fill="#c8ecd0" opacity="0.75"/>
<circle cx="441.2" cy="561.9" r="0.65" fill="#c8ecd0" opacity="0.75"/>
<circle cx="451.1" cy="556.8" r="0.65" fill="#c8ecd0" opacity="0.75"/>
<circle cx="445.6" cy="552" r="0.65" fill="#c8ecd0" opacity="0.75"/>
<circle cx="452.7" cy="575.6" r="0.65" fill="#c8ecd0" opacity="0.75"/>
<circle cx="448.7" cy="578.5" r="0.65" fill="#c8ecd0" opacity="0.75"/>
<circle cx="441.5" cy="562.3" r="0.65" fill="#c8ecd0" opacity="0.75"/>
<circle cx="450.9" cy="571.7" r="0.65" fill="#c8ecd0" opacity="0.75"/>
<circle cx="435.9" cy="547.1" r="0.65" fill="#c8ecd0" opacity="0.75"/>
<circle cx="452.9" cy="568.3" r="0.65" fill="#c8ecd0" opacity="0.75"/>
<circle cx="454" cy="577.2" r="0.65" fill="#c8ecd0" opacity="0.75"/>
<circle cx="448.5" cy="563.3" r="0.65" fill="#c8ecd0" opacity="0.75"/>
<circle cx="453.5" cy="562.8" r="0.65" fill="#c8ecd0" opacity="0.75"/>
<circle cx="450.6" cy="547.9" r="0.65" fill="#c8ecd0" opacity="0.75"/>
<circle cx="439" cy="543" r="0.65" fill="#c8ecd0" opacity="0.75"/>
</g>
<g clip-path="url(#ct4)">
<rect x="500.9" y="502" width="110.1" height="109.1" fill="#4e5652"/>
<rect x="500.9" y="502" width="110.1" height="109.1" fill="#000" filter="url(#fT4)"/>
<circle cx="599.9" cy="538.6" r="1.2" fill="#58c870" opacity="0.38397038788496995" filter="url(#b1)"/>
<circle cx="580.8" cy="508.3" r="1.7" fill="#58c870" opacity="0.24465485408739557" filter="url(#b1)"/>
<circle cx="542.4" cy="538.8" r="1.2" fill="#58c870" opacity="0.15071768104702607" filter="url(#b1)"/>
<circle cx="532.7" cy="540.8" r="2" fill="#58c870" opacity="0.18092707053037155" filter="url(#b1)"/>
<circle cx="603.2" cy="526.2" r="1.4" fill="#58c870" opacity="0.3553934043435365" filter="url(#b1)"/>
<circle cx="588.6" cy="549.1" r="1" fill="#58c870" opacity="0.2683660127142739" filter="url(#b1)"/>
<circle cx="542.3" cy="598.8" r="1.2" fill="#58c870" opacity="0.24106221559889576" filter="url(#b1)"/>
<circle cx="596.3" cy="508.1" r="1.4" fill="#58c870" opacity="0.3529561318930393" filter="url(#b1)"/>
<circle cx="582.9" cy="509.1" r="1" fill="#58c870" opacity="0.16564498581613984" filter="url(#b1)"/>
<circle cx="598.7" cy="531.2" r="1.7" fill="#58c870" opacity="0.3746379472419923" filter="url(#b1)"/>
<circle cx="538.8" cy="532.8" r="2" fill="#58c870" opacity="0.3042446204341679" filter="url(#b1)"/>
<circle cx="530.9" cy="578.1" r="1.3" fill="#58c870" opacity="0.21890758182370265" filter="url(#b1)"/>
<circle cx="504.3" cy="582.1" r="1.9" fill="#58c870" opacity="0.3084950107084358" filter="url(#b1)"/>
<circle cx="601.1" cy="507.5" r="1.2" fill="#58c870" opacity="0.2687972644634008" filter="url(#b1)"/>
<circle cx="602.4" cy="602.3" r="1.4" fill="#58c870" opacity="0.2127617052077203" filter="url(#b1)"/>
<circle cx="548.2" cy="555.3" r="1.9" fill="#58c870" opacity="0.195734807865145" filter="url(#b1)"/>
<circle cx="586.6" cy="580.3" r="1.8" fill="#58c870" opacity="0.34320234498254065" filter="url(#b1)"/>
<circle cx="566.4" cy="538.4" r="1.3" fill="#58c870" opacity="0.2404646102037896" filter="url(#b1)"/>
<circle cx="584.5" cy="513.1" r="1.2" fill="#58c870" opacity="0.33822141766536495" filter="url(#b1)"/>
<circle cx="529.4" cy="511.6" r="1" fill="#58c870" opacity="0.2881486608546536" filter="url(#b1)"/>
<circle cx="537.5" cy="605" r="1.9" fill="#58c870" opacity="0.39695595739812595" filter="url(#b1)"/>
<circle cx="531.2" cy="513.6" r="1.1" fill="#58c870" opacity="0.27461881709924363" filter="url(#b1)"/>
<circle cx="577" cy="550.6" r="1.2" fill="#58c870" opacity="0.2542101578059117" filter="url(#b1)"/>
<circle cx="567.8" cy="573.8" r="1.7" fill="#58c870" opacity="0.3617467686047288" filter="url(#b1)"/>
<circle cx="572.3" cy="517.4" r="1.8" fill="#58c870" opacity="0.22344553671664913" filter="url(#b1)"/>
<circle cx="547.3" cy="510.5" r="1.8" fill="#58c870" opacity="0.8" filter="url(#b1)"/>
<circle cx="587.6" cy="512.3" r="2.6" fill="#58c870" opacity="0.8" filter="url(#b1)"/>
<circle cx="580.1" cy="535.2" r="3.6" fill="#58c870" opacity="0.45" filter="url(#b1)"/>
<circle cx="598" cy="535" r="2.4" fill="#58c870" opacity="0.7" filter="url(#b1)"/>
<circle cx="519" cy="578.4" r="2.8" fill="#58c870" opacity="0.85" filter="url(#b1)"/>
<circle cx="529.5" cy="574" r="2" fill="#58c870" opacity="0.6" filter="url(#b1)"/>
<circle cx="598" cy="576" r="2.8" fill="#58c870" opacity="0.95" filter="url(#b1)"/>
<circle cx="539.9" cy="594.8" r="3" fill="#58c870" opacity="0.35" filter="url(#b1)"/>
<circle cx="592" cy="524" r="2" fill="#58c870" opacity="0.6" filter="url(#b1)"/>
<circle cx="556" cy="507" r="1.5" fill="#58c870" opacity="0.6" filter="url(#b1)"/>
<circle cx="566" cy="508" r="1.5" fill="#58c870" opacity="0.5" filter="url(#b1)"/>
<circle cx="597" cy="584" r="2" fill="#58c870" opacity="0.7" filter="url(#b1)"/>
<circle cx="594.4" cy="569.5" r="2.2" fill="#262a28" filter="url(#b1)"/>
<path d="M551.5,525 C552,535 553,545 555,552 C558,562 563,572 570,579 C571.5,568 570.5,558 568.5,550 C566,540 558,530 551.5,525 Z" fill="#56665c" stroke="#30363380" stroke-width="1.6" filter="url(#b1)"/>
<path d="M553.5,536 Q554,550 558,560 Q561,568 566,575" fill="none" stroke="#c4d0c6" stroke-width="0.9" filter="url(#b1)"/>
<circle cx="558.5" cy="541" r="1.8" fill="#58c870" opacity="0.95" filter="url(#b1)"/>
<circle cx="562" cy="549" r="1.8" fill="#58c870" opacity="0.95" filter="url(#b1)"/>
<circle cx="562.5" cy="556" r="2.4" fill="#58c870" opacity="0.95" filter="url(#b1)"/>
<circle cx="565.5" cy="565" r="1.8" fill="#58c870" opacity="0.95" filter="url(#b1)"/>
<circle cx="559" cy="546" r="1.2" fill="#58c870" opacity="0.95" filter="url(#b1)"/>
<circle cx="565" cy="551" r="1.2" fill="#58c870" opacity="0.95" filter="url(#b1)"/>
</g>
<g clip-path="url(#ct5)">
<rect x="614" y="502" width="110.1" height="109.1" fill="#535a55"/>
<rect x="614" y="502" width="110.1" height="109.1" fill="#000" filter="url(#fT5)"/>
<circle cx="675.4" cy="543" r="1.4" fill="#58c870" opacity="0.3197165318115742" filter="url(#b1)"/>
<circle cx="642.5" cy="530" r="0.9" fill="#58c870" opacity="0.5594587368342941" filter="url(#b1)"/>
<circle cx="676.6" cy="538.3" r="1.1" fill="#58c870" opacity="0.5973570543235707" filter="url(#b1)"/>
<circle cx="669.3" cy="528.6" r="1.4" fill="#58c870" opacity="0.4786642932323403" filter="url(#b1)"/>
<circle cx="719.1" cy="515.4" r="1.2" fill="#58c870" opacity="0.5366859471864234" filter="url(#b1)"/>
<circle cx="703.6" cy="598.3" r="0.8" fill="#58c870" opacity="0.3527871130519542" filter="url(#b1)"/>
<circle cx="629.3" cy="524.3" r="1.6" fill="#58c870" opacity="0.4541178179380041" filter="url(#b1)"/>
<circle cx="712.8" cy="543" r="1.5" fill="#58c870" opacity="0.4071898502190766" filter="url(#b1)"/>
<circle cx="643.8" cy="584.3" r="1.6" fill="#58c870" opacity="0.28702302182547784" filter="url(#b1)"/>
<circle cx="678.4" cy="568.2" r="1" fill="#58c870" opacity="0.37904799371217035" filter="url(#b1)"/>
<circle cx="631.6" cy="525.8" r="1" fill="#58c870" opacity="0.45979817924112043" filter="url(#b1)"/>
<circle cx="684.1" cy="525.8" r="0.8" fill="#58c870" opacity="0.3645372312005476" filter="url(#b1)"/>
<circle cx="686.9" cy="523.9" r="1" fill="#58c870" opacity="0.32119272024194373" filter="url(#b1)"/>
<circle cx="698.9" cy="560.9" r="0.9" fill="#58c870" opacity="0.2854857186119657" filter="url(#b1)"/>
<circle cx="657.7" cy="561.1" r="1.3" fill="#58c870" opacity="0.2819034094256939" filter="url(#b1)"/>
<circle cx="633.9" cy="575.9" r="1.1" fill="#58c870" opacity="0.3491554180810885" filter="url(#b1)"/>
<circle cx="648.7" cy="602.2" r="1" fill="#58c870" opacity="0.44828202247093024" filter="url(#b1)"/>
<circle cx="653.8" cy="547.5" r="1.5" fill="#58c870" opacity="0.5988171244470553" filter="url(#b1)"/>
<circle cx="654.5" cy="525.1" r="1.4" fill="#58c870" opacity="0.3212835098035305" filter="url(#b1)"/>
<circle cx="617.6" cy="597" r="1.1" fill="#58c870" opacity="0.5371290034180194" filter="url(#b1)"/>
<circle cx="658.8" cy="595" r="1.2" fill="#58c870" opacity="0.3068906027487761" filter="url(#b1)"/>
<circle cx="618.5" cy="561.3" r="1.3" fill="#58c870" opacity="0.5684280793283261" filter="url(#b1)"/>
<circle cx="626.2" cy="568.5" r="1.1" fill="#58c870" opacity="0.4265620720393209" filter="url(#b1)"/>
<circle cx="632" cy="533.9" r="1.2" fill="#58c870" opacity="0.5739249264708448" filter="url(#b1)"/>
<circle cx="628.2" cy="555" r="1.4" fill="#58c870" opacity="0.5884066256258518" filter="url(#b1)"/>
<circle cx="692" cy="510" r="2.2" fill="#58c870" opacity="0.85" filter="url(#b1)"/>
<circle cx="716" cy="523" r="2" fill="#58c870" opacity="0.7" filter="url(#b1)"/>
<circle cx="719" cy="552" r="2" fill="#58c870" opacity="0.8" filter="url(#b1)"/>
<circle cx="707" cy="575" r="2.2" fill="#58c870" opacity="0.8" filter="url(#b1)"/>
<circle cx="625" cy="518" r="1.8" fill="#58c870" opacity="0.6" filter="url(#b1)"/>
<circle cx="630" cy="560" r="1.6" fill="#58c870" opacity="0.5" filter="url(#b1)"/>
<circle cx="700" cy="590" r="2.2" fill="#58c870" opacity="0.7" filter="url(#b1)"/>
<circle cx="640" cy="600" r="1.6" fill="#58c870" opacity="0.5" filter="url(#b1)"/>
<circle cx="672" cy="520" r="1.6" fill="#58c870" opacity="0.6" filter="url(#b1)"/>
<circle cx="715" cy="603" r="1.6" fill="#58c870" opacity="0.6" filter="url(#b1)"/>
<path d="M643.5,506 Q654,528 664,552 Q671,572 676,588" fill="none" stroke="#3a403c" stroke-width="1.6" filter="url(#b1)"/>
<path d="M649,519 Q660,530 664.5,546 Q668,560 672,577 Q661,565 656.5,550 Q652,535 649,519 Z" fill="#5a685f" stroke="#343a36" stroke-width="0.9" filter="url(#b1)"/>
<path d="M651,524 Q657,535 661,548 Q664,558 668,568" fill="none" stroke="#c2cec4" stroke-width="0.9" filter="url(#b1)"/>
<circle cx="653" cy="528" r="1" fill="#58c870" opacity="0.95" filter="url(#b1)"/>
<circle cx="657" cy="537" r="1" fill="#58c870" opacity="0.95" filter="url(#b1)"/>
<circle cx="660.5" cy="545" r="1" fill="#58c870" opacity="0.95" filter="url(#b1)"/>
<circle cx="663.5" cy="553" r="1" fill="#58c870" opacity="0.95" filter="url(#b1)"/>
<circle cx="666" cy="560" r="1" fill="#58c870" opacity="0.95" filter="url(#b1)"/>
<circle cx="668.5" cy="567" r="1" fill="#58c870" opacity="0.95" filter="url(#b1)"/>
</g>
<g clip-path="url(#cb0)">
<rect x="49.7" y="614.8" width="110.1" height="110.3" fill="#0a2a86"/>
<rect x="49.7" y="614.8" width="110.1" height="110.3" fill="#000" filter="url(#fH1)"/>
<ellipse cx="102.5" cy="663.6" rx="2.6" ry="2.4" transform="rotate(0 102.5 663.6)" fill="#2898f0" opacity="0.9" filter="url(#b2)"/>
<ellipse cx="102.5" cy="663.6" rx="1.6" ry="1.4" transform="rotate(0 102.5 663.6)" fill="#48d8f8" opacity="1" filter="url(#b1)"/>
<ellipse cx="109.6" cy="664.2" rx="2.4" ry="2.4" transform="rotate(0 109.6 664.2)" fill="#2898f0" opacity="0.9" filter="url(#b2)"/>
<ellipse cx="109.6" cy="664.2" rx="1.4" ry="1.4" transform="rotate(0 109.6 664.2)" fill="#48d8f8" opacity="1" filter="url(#b1)"/>
<ellipse cx="100.7" cy="672.4" rx="9.6" ry="5.8" transform="rotate(-43 100.7 672.4)" fill="#30d0ff" opacity="0.9" filter="url(#b2)"/>
<ellipse cx="100.7" cy="672.4" rx="8.5" ry="4.7" transform="rotate(-43 100.7 672.4)" fill="#f8f020" opacity="1" filter="url(#b1)"/>
<ellipse cx="100.7" cy="672.4" rx="7.6" ry="3.8" transform="rotate(-43 100.7 672.4)" fill="#f04010" opacity="1" filter="url(#b1)"/>
<ellipse cx="100.7" cy="672.4" rx="6.7" ry="2.9" transform="rotate(-43 100.7 672.4)" fill="#9a0808" opacity="1"/>
<ellipse cx="114" cy="669.3" rx="4.6" ry="5.4" transform="rotate(-10 114 669.3)" fill="#30d0ff" opacity="0.9" filter="url(#b2)"/>
<ellipse cx="114" cy="669.3" rx="3.5" ry="4.3" transform="rotate(-10 114 669.3)" fill="#f8f020" opacity="1" filter="url(#b1)"/>
<ellipse cx="114" cy="669.3" rx="2.6" ry="3.4" transform="rotate(-10 114 669.3)" fill="#f04010" opacity="1" filter="url(#b1)"/>
<ellipse cx="114" cy="669.3" rx="1.7" ry="2.5" transform="rotate(-10 114 669.3)" fill="#9a0808" opacity="1"/>
<text x="51.3" y="716.2" font-size="11.3" style="font-weight:normal;fill:#fff;stroke:#fff;stroke-width:0.2px">20µm</text>
<rect x="53.2" y="719.9" width="18" height="2.2" fill="#fff"/>
</g>
<g clip-path="url(#cb1)">
<rect x="162.7" y="614.8" width="110.1" height="110.3" fill="#0a2a86"/>
<rect x="162.7" y="614.8" width="110.1" height="110.3" fill="#000" filter="url(#fH2)"/>
<ellipse cx="171" cy="687.5" rx="3" ry="2.6" transform="rotate(-30 171 687.5)" fill="#2898f0" opacity="0.9" filter="url(#b2)"/>
<ellipse cx="171" cy="687.5" rx="2" ry="1.6" transform="rotate(-30 171 687.5)" fill="#48d8f8" opacity="1" filter="url(#b1)"/>
<ellipse cx="210" cy="664" rx="4.8" ry="3.8" transform="rotate(-20 210 664)" fill="#30c8ff" opacity="0.9" filter="url(#b2)"/>
<ellipse cx="210" cy="664" rx="3.5" ry="2.5" transform="rotate(-20 210 664)" fill="#70f0a0" opacity="1" filter="url(#b1)"/>
<ellipse cx="210" cy="664" rx="2.6" ry="1.6" transform="rotate(-20 210 664)" fill="#f0e828" opacity="1" filter="url(#b1)"/>
<ellipse cx="225.5" cy="662.1" rx="6.7" ry="7.4" transform="rotate(0 225.5 662.1)" fill="#30d0ff" opacity="0.9" filter="url(#b2)"/>
<ellipse cx="225.5" cy="662.1" rx="5.6" ry="6.3" transform="rotate(0 225.5 662.1)" fill="#f8f020" opacity="1" filter="url(#b1)"/>
<ellipse cx="225.5" cy="662.1" rx="4.7" ry="5.4" transform="rotate(0 225.5 662.1)" fill="#f04010" opacity="1" filter="url(#b1)"/>
<ellipse cx="225.5" cy="662.1" rx="3.8" ry="4.5" transform="rotate(0 225.5 662.1)" fill="#9a0808" opacity="1"/>
<ellipse cx="218.4" cy="671.3" rx="8.8" ry="5.9" transform="rotate(52 218.4 671.3)" fill="#30d0ff" opacity="0.9" filter="url(#b2)"/>
<ellipse cx="218.4" cy="671.3" rx="7.7" ry="4.8" transform="rotate(52 218.4 671.3)" fill="#f8f020" opacity="1" filter="url(#b1)"/>
<ellipse cx="218.4" cy="671.3" rx="6.8" ry="3.9" transform="rotate(52 218.4 671.3)" fill="#f04010" opacity="1" filter="url(#b1)"/>
<ellipse cx="218.4" cy="671.3" rx="5.9" ry="3" transform="rotate(52 218.4 671.3)" fill="#9a0808" opacity="1"/>
<text x="164.3" y="716.2" font-size="11.3" style="font-weight:normal;fill:#fff;stroke:#fff;stroke-width:0.2px">20µm</text>
<rect x="166.2" y="719.9" width="18" height="2.2" fill="#fff"/>
</g>
<g clip-path="url(#cb2)">
<rect x="275.9" y="614.8" width="110.1" height="110.3" fill="#0a2884"/>
<rect x="275.9" y="614.8" width="110.1" height="110.3" fill="#000" filter="url(#fH3)"/>
<ellipse cx="336" cy="665" rx="17" ry="8" transform="rotate(-12 336 665)" fill="#2080e8" opacity="0.8" filter="url(#b3)"/>
<ellipse cx="332" cy="666" rx="10" ry="5" transform="rotate(22 332 666)" fill="#30c0f0" opacity="0.95" filter="url(#b2)"/>
<ellipse cx="346.5" cy="659" rx="7" ry="3.6" transform="rotate(-33 346.5 659)" fill="#30c0f0" opacity="0.95" filter="url(#b2)"/>
<ellipse cx="332.5" cy="666.5" rx="8.5" ry="3.6" transform="rotate(24 332.5 666.5)" fill="#7cf0a0" opacity="1" filter="url(#b1)"/>
<ellipse cx="346.3" cy="659.2" rx="5.2" ry="2.3" transform="rotate(-33 346.3 659.2)" fill="#90f088" opacity="1" filter="url(#b1)"/>
<ellipse cx="335.6" cy="670.6" rx="3.2" ry="2.6" transform="rotate(0 335.6 670.6)" fill="#f0e828" opacity="1" filter="url(#b1)"/>
<ellipse cx="343" cy="661.6" rx="2.2" ry="1.8" transform="rotate(0 343 661.6)" fill="#f0e040" opacity="1" filter="url(#b1)"/>
<ellipse cx="322.7" cy="662.7" rx="4" ry="3.2" transform="rotate(0 322.7 662.7)" fill="#f8d020" opacity="1" filter="url(#b1)"/>
<ellipse cx="322.7" cy="662.7" rx="2.6" ry="2.1" transform="rotate(0 322.7 662.7)" fill="#e82808" opacity="1" filter="url(#b1)"/>
<ellipse cx="341.7" cy="668.1" rx="3.8" ry="3.2" transform="rotate(0 341.7 668.1)" fill="#f8d020" opacity="1" filter="url(#b1)"/>
<ellipse cx="341.7" cy="668.1" rx="2.5" ry="2.1" transform="rotate(0 341.7 668.1)" fill="#e82808" opacity="1" filter="url(#b1)"/>
<ellipse cx="328.1" cy="672.4" rx="1.4" ry="1.2" transform="rotate(0 328.1 672.4)" fill="#58d8f8" opacity="1" filter="url(#b1)"/>
<ellipse cx="307.7" cy="681.3" rx="1.4" ry="1.2" transform="rotate(0 307.7 681.3)" fill="#58d8f8" opacity="1" filter="url(#b1)"/>
<ellipse cx="319.5" cy="686.7" rx="1.4" ry="1.2" transform="rotate(0 319.5 686.7)" fill="#58d8f8" opacity="1" filter="url(#b1)"/>
<ellipse cx="349" cy="654.3" rx="1.4" ry="1.2" transform="rotate(0 349 654.3)" fill="#58d8f8" opacity="1" filter="url(#b1)"/>
<ellipse cx="299.2" cy="630.8" rx="1.6" ry="1.6" transform="rotate(0 299.2 630.8)" fill="#3a90e8" opacity="0.7" filter="url(#b1)"/>
<ellipse cx="328.6" cy="623.3" rx="1.5" ry="1.1" transform="rotate(0 328.6 623.3)" fill="#3a90e8" opacity="0.7" filter="url(#b1)"/>
<ellipse cx="372" cy="681.7" rx="1.5" ry="0.9" transform="rotate(0 372 681.7)" fill="#3a90e8" opacity="0.7" filter="url(#b1)"/>
<ellipse cx="359.8" cy="640.7" rx="1.1" ry="1.5" transform="rotate(0 359.8 640.7)" fill="#3a90e8" opacity="0.7" filter="url(#b1)"/>
<ellipse cx="364.3" cy="636.6" rx="1" ry="1.1" transform="rotate(0 364.3 636.6)" fill="#3a90e8" opacity="0.7" filter="url(#b1)"/>
<ellipse cx="332.2" cy="657.3" rx="0.9" ry="1" transform="rotate(0 332.2 657.3)" fill="#3a90e8" opacity="0.7" filter="url(#b1)"/>
<ellipse cx="353.6" cy="710.2" rx="0.8" ry="1.2" transform="rotate(0 353.6 710.2)" fill="#3a90e8" opacity="0.7" filter="url(#b1)"/>
<ellipse cx="356.9" cy="621.7" rx="1.5" ry="0.9" transform="rotate(0 356.9 621.7)" fill="#3a90e8" opacity="0.7" filter="url(#b1)"/>
<ellipse cx="340.7" cy="674.5" rx="1.3" ry="1" transform="rotate(0 340.7 674.5)" fill="#3a90e8" opacity="0.7" filter="url(#b1)"/>
<ellipse cx="322.2" cy="677.8" rx="1.1" ry="1.3" transform="rotate(0 322.2 677.8)" fill="#3a90e8" opacity="0.7" filter="url(#b1)"/>
<ellipse cx="324.9" cy="663" rx="0.8" ry="1.3" transform="rotate(0 324.9 663)" fill="#3a90e8" opacity="0.7" filter="url(#b1)"/>
<ellipse cx="329.3" cy="642" rx="1.4" ry="1.4" transform="rotate(0 329.3 642)" fill="#3a90e8" opacity="0.7" filter="url(#b1)"/>
<ellipse cx="326.1" cy="636.3" rx="1.2" ry="0.9" transform="rotate(0 326.1 636.3)" fill="#3a90e8" opacity="0.7" filter="url(#b1)"/>
<ellipse cx="292.1" cy="662.2" rx="0.9" ry="1.2" transform="rotate(0 292.1 662.2)" fill="#3a90e8" opacity="0.7" filter="url(#b1)"/>
<ellipse cx="331.4" cy="622" rx="1.3" ry="0.9" transform="rotate(0 331.4 622)" fill="#3a90e8" opacity="0.7" filter="url(#b1)"/>
<ellipse cx="354.4" cy="697.9" rx="1.2" ry="0.8" transform="rotate(0 354.4 697.9)" fill="#3a90e8" opacity="0.7" filter="url(#b1)"/>
<ellipse cx="330.8" cy="656.7" rx="1.6" ry="0.9" transform="rotate(0 330.8 656.7)" fill="#3a90e8" opacity="0.7" filter="url(#b1)"/>
<ellipse cx="367.2" cy="720.4" rx="1.4" ry="1.5" transform="rotate(0 367.2 720.4)" fill="#3a90e8" opacity="0.7" filter="url(#b1)"/>
<ellipse cx="298.9" cy="718.9" rx="1.2" ry="1.6" transform="rotate(0 298.9 718.9)" fill="#3a90e8" opacity="0.7" filter="url(#b1)"/>
<ellipse cx="373.3" cy="634.8" rx="1.4" ry="1.5" transform="rotate(0 373.3 634.8)" fill="#3a90e8" opacity="0.7" filter="url(#b1)"/>
<ellipse cx="285.6" cy="653.9" rx="1.4" ry="0.9" transform="rotate(0 285.6 653.9)" fill="#3a90e8" opacity="0.7" filter="url(#b1)"/>
<ellipse cx="371.2" cy="646.1" rx="1.5" ry="0.9" transform="rotate(0 371.2 646.1)" fill="#3a90e8" opacity="0.7" filter="url(#b1)"/>
<ellipse cx="330.6" cy="712.6" rx="1" ry="1" transform="rotate(0 330.6 712.6)" fill="#3a90e8" opacity="0.7" filter="url(#b1)"/>
<ellipse cx="331" cy="650.7" rx="0.8" ry="0.9" transform="rotate(0 331 650.7)" fill="#3a90e8" opacity="0.7" filter="url(#b1)"/>
<ellipse cx="295.5" cy="714.2" rx="1.3" ry="1.5" transform="rotate(0 295.5 714.2)" fill="#3a90e8" opacity="0.7" filter="url(#b1)"/>
<ellipse cx="296.3" cy="698.6" rx="0.9" ry="1.2" transform="rotate(0 296.3 698.6)" fill="#3a90e8" opacity="0.7" filter="url(#b1)"/>
<ellipse cx="344.4" cy="654.9" rx="1.5" ry="1.2" transform="rotate(0 344.4 654.9)" fill="#3a90e8" opacity="0.7" filter="url(#b1)"/>
<ellipse cx="338.6" cy="708.7" rx="0.9" ry="1.6" transform="rotate(0 338.6 708.7)" fill="#3a90e8" opacity="0.7" filter="url(#b1)"/>
<ellipse cx="343.8" cy="658.4" rx="1.4" ry="1" transform="rotate(0 343.8 658.4)" fill="#3a90e8" opacity="0.7" filter="url(#b1)"/>
<ellipse cx="380.9" cy="677.3" rx="1.1" ry="1.4" transform="rotate(0 380.9 677.3)" fill="#3a90e8" opacity="0.7" filter="url(#b1)"/>
<text x="277.5" y="716.2" font-size="11.3" style="font-weight:normal;fill:#fff;stroke:#fff;stroke-width:0.2px">20µm</text>
<rect x="279.4" y="719.9" width="18" height="2.2" fill="#fff"/>
</g>
<g clip-path="url(#cb3)">
<rect x="388.6" y="614.8" width="110.1" height="110.3" fill="#06186e"/>
<rect x="388.6" y="614.8" width="110.1" height="110.3" fill="#000" filter="url(#fH4)"/>
<ellipse cx="448.7" cy="672.6" rx="22" ry="32" transform="rotate(-12 448.7 672.6)" fill="#1038a8" opacity="0.8" filter="url(#b6)"/>
<ellipse cx="448.7" cy="672.6" rx="10" ry="22" transform="rotate(-18 448.7 672.6)" fill="#1860d0" opacity="0.8" filter="url(#b3)"/>
<path d="M438,651 L447,654 L452,663 L460,669 L462,684 L458,696 L450,698 L443,691 L435,685 L433,678 L441,672 L439,661 Z" fill="#2a98e6" opacity="0.9" filter="url(#b2)"/>
<ellipse cx="441.3" cy="657.7" rx="4.8" ry="4" transform="rotate(30 441.3 657.7)" fill="#28b8f8" opacity="0.9" filter="url(#b2)"/>
<ellipse cx="441.3" cy="657.7" rx="3" ry="2.2" transform="rotate(30 441.3 657.7)" fill="#80f098" opacity="1" filter="url(#b1)"/>
<ellipse cx="446" cy="662.5" rx="5.4" ry="4.6" transform="rotate(40 446 662.5)" fill="#30c8ff" opacity="0.9" filter="url(#b2)"/>
<ellipse cx="446" cy="662.5" rx="4.1" ry="3.3" transform="rotate(40 446 662.5)" fill="#70f0a0" opacity="1" filter="url(#b1)"/>
<ellipse cx="446" cy="662.5" rx="3.2" ry="2.4" transform="rotate(40 446 662.5)" fill="#f0e828" opacity="1" filter="url(#b1)"/>
<ellipse cx="457.7" cy="671" rx="4" ry="4.4" transform="rotate(0 457.7 671)" fill="#28b8f8" opacity="0.9" filter="url(#b2)"/>
<ellipse cx="457.7" cy="671" rx="2.2" ry="2.6" transform="rotate(0 457.7 671)" fill="#80f098" opacity="1" filter="url(#b1)"/>
<ellipse cx="437" cy="681.5" rx="4" ry="4.8" transform="rotate(0 437 681.5)" fill="#28b8f8" opacity="0.9" filter="url(#b2)"/>
<ellipse cx="437" cy="681.5" rx="2.2" ry="3" transform="rotate(0 437 681.5)" fill="#80f098" opacity="1" filter="url(#b1)"/>
<ellipse cx="449" cy="689" rx="6.2" ry="5.2" transform="rotate(-20 449 689)" fill="#30c8ff" opacity="0.9" filter="url(#b2)"/>
<ellipse cx="449" cy="689" rx="4.9" ry="3.9" transform="rotate(-20 449 689)" fill="#70f0a0" opacity="1" filter="url(#b1)"/>
<ellipse cx="449" cy="689" rx="4" ry="3" transform="rotate(-20 449 689)" fill="#f0e828" opacity="1" filter="url(#b1)"/>
<ellipse cx="456.2" cy="693.4" rx="3.8" ry="3.8" transform="rotate(0 456.2 693.4)" fill="#28b8f8" opacity="0.9" filter="url(#b2)"/>
<ellipse cx="456.2" cy="693.4" rx="2" ry="2" transform="rotate(0 456.2 693.4)" fill="#80f098" opacity="1" filter="url(#b1)"/>
<ellipse cx="452" cy="679" rx="2.6" ry="3" transform="rotate(0 452 679)" fill="#2898f0" opacity="0.9" filter="url(#b2)"/>
<ellipse cx="452" cy="679" rx="1.6" ry="2" transform="rotate(0 452 679)" fill="#48d8f8" opacity="1" filter="url(#b1)"/>
<ellipse cx="447" cy="669" rx="3" ry="4" transform="rotate(0 447 669)" fill="#2898f0" opacity="0.9" filter="url(#b2)"/>
<ellipse cx="447" cy="669" rx="2" ry="3" transform="rotate(0 447 669)" fill="#48d8f8" opacity="1" filter="url(#b1)"/>
<ellipse cx="413" cy="642.8" rx="1.2" ry="1.2" transform="rotate(0 413 642.8)" fill="#40c8f8" opacity="1" filter="url(#b1)"/>
<ellipse cx="430.9" cy="647" rx="1.2" ry="1.2" transform="rotate(0 430.9 647)" fill="#40c8f8" opacity="1" filter="url(#b1)"/>
<ellipse cx="434" cy="644" rx="1.2" ry="1.2" transform="rotate(0 434 644)" fill="#40c8f8" opacity="1" filter="url(#b1)"/>
<text x="390.2" y="716.2" font-size="11.3" style="font-weight:normal;fill:#fff;stroke:#fff;stroke-width:0.2px">20µm</text>
<rect x="392.1" y="719.9" width="18" height="2.2" fill="#fff"/>
</g>
<g clip-path="url(#cb4)">
<rect x="500.9" y="614.8" width="110.1" height="110.3" fill="#0c2e8c"/>
<rect x="500.9" y="614.8" width="110.1" height="110.3" fill="#000" filter="url(#fH5)"/>
<ellipse cx="549.5" cy="636" rx="1.5" ry="0.8" transform="rotate(0 549.5 636)" fill="#3a90e8" opacity="0.7" filter="url(#b1)"/>
<ellipse cx="588.3" cy="643.9" rx="1.4" ry="1.8" transform="rotate(0 588.3 643.9)" fill="#3a90e8" opacity="0.7" filter="url(#b1)"/>
<ellipse cx="564.2" cy="686.2" rx="1.1" ry="0.8" transform="rotate(0 564.2 686.2)" fill="#3a90e8" opacity="0.7" filter="url(#b1)"/>
<ellipse cx="507.4" cy="633.2" rx="1.4" ry="1.2" transform="rotate(0 507.4 633.2)" fill="#3a90e8" opacity="0.7" filter="url(#b1)"/>
<ellipse cx="556.7" cy="710" rx="0.9" ry="1" transform="rotate(0 556.7 710)" fill="#3a90e8" opacity="0.7" filter="url(#b1)"/>
<ellipse cx="571.2" cy="620.1" rx="0.8" ry="1.2" transform="rotate(0 571.2 620.1)" fill="#3a90e8" opacity="0.7" filter="url(#b1)"/>
<ellipse cx="514.9" cy="654.6" rx="1" ry="1.4" transform="rotate(0 514.9 654.6)" fill="#3a90e8" opacity="0.7" filter="url(#b1)"/>
<ellipse cx="564.6" cy="638.8" rx="1.4" ry="1.3" transform="rotate(0 564.6 638.8)" fill="#3a90e8" opacity="0.7" filter="url(#b1)"/>
<ellipse cx="517.8" cy="714.3" rx="1" ry="0.9" transform="rotate(0 517.8 714.3)" fill="#3a90e8" opacity="0.7" filter="url(#b1)"/>
<ellipse cx="513.8" cy="683.5" rx="1.7" ry="1.6" transform="rotate(0 513.8 683.5)" fill="#3a90e8" opacity="0.7" filter="url(#b1)"/>
<ellipse cx="545.3" cy="645" rx="0.8" ry="1.4" transform="rotate(0 545.3 645)" fill="#3a90e8" opacity="0.7" filter="url(#b1)"/>
<ellipse cx="561.8" cy="653.9" rx="1.4" ry="1.2" transform="rotate(0 561.8 653.9)" fill="#3a90e8" opacity="0.7" filter="url(#b1)"/>
<ellipse cx="600.4" cy="693.4" rx="1" ry="1.7" transform="rotate(0 600.4 693.4)" fill="#3a90e8" opacity="0.7" filter="url(#b1)"/>
<ellipse cx="508.4" cy="672.5" rx="1.2" ry="1" transform="rotate(0 508.4 672.5)" fill="#3a90e8" opacity="0.7" filter="url(#b1)"/>
<ellipse cx="509.9" cy="698" rx="0.8" ry="1.4" transform="rotate(0 509.9 698)" fill="#3a90e8" opacity="0.7" filter="url(#b1)"/>
<ellipse cx="600.8" cy="632.5" rx="1" ry="1.4" transform="rotate(0 600.8 632.5)" fill="#3a90e8" opacity="0.7" filter="url(#b1)"/>
<ellipse cx="556.1" cy="683.9" rx="1.6" ry="1" transform="rotate(0 556.1 683.9)" fill="#3a90e8" opacity="0.7" filter="url(#b1)"/>
<ellipse cx="535.8" cy="648.7" rx="0.8" ry="1.7" transform="rotate(0 535.8 648.7)" fill="#3a90e8" opacity="0.7" filter="url(#b1)"/>
<ellipse cx="584.5" cy="691.5" rx="0.8" ry="1.6" transform="rotate(0 584.5 691.5)" fill="#3a90e8" opacity="0.7" filter="url(#b1)"/>
<ellipse cx="580.7" cy="665.7" rx="1.5" ry="1.3" transform="rotate(0 580.7 665.7)" fill="#3a90e8" opacity="0.7" filter="url(#b1)"/>
<ellipse cx="527.2" cy="628.6" rx="1" ry="0.8" transform="rotate(0 527.2 628.6)" fill="#3a90e8" opacity="0.7" filter="url(#b1)"/>
<ellipse cx="538.5" cy="695" rx="1.5" ry="1.6" transform="rotate(0 538.5 695)" fill="#3a90e8" opacity="0.7" filter="url(#b1)"/>
<ellipse cx="577.2" cy="645.2" rx="1.4" ry="1.2" transform="rotate(0 577.2 645.2)" fill="#3a90e8" opacity="0.7" filter="url(#b1)"/>
<ellipse cx="585.1" cy="671.7" rx="1.1" ry="1.4" transform="rotate(0 585.1 671.7)" fill="#3a90e8" opacity="0.7" filter="url(#b1)"/>
<ellipse cx="603.3" cy="640.2" rx="1.7" ry="0.8" transform="rotate(0 603.3 640.2)" fill="#3a90e8" opacity="0.7" filter="url(#b1)"/>
<ellipse cx="530.7" cy="642.1" rx="1.5" ry="1.7" transform="rotate(0 530.7 642.1)" fill="#3a90e8" opacity="0.7" filter="url(#b1)"/>
<ellipse cx="580.8" cy="651.5" rx="1.7" ry="1.1" transform="rotate(0 580.8 651.5)" fill="#3a90e8" opacity="0.7" filter="url(#b1)"/>
<ellipse cx="528.5" cy="711.3" rx="1.4" ry="1.5" transform="rotate(0 528.5 711.3)" fill="#3a90e8" opacity="0.7" filter="url(#b1)"/>
<ellipse cx="572.4" cy="718.6" rx="1.3" ry="1.6" transform="rotate(0 572.4 718.6)" fill="#3a90e8" opacity="0.7" filter="url(#b1)"/>
<ellipse cx="575.8" cy="706.1" rx="1.2" ry="1.5" transform="rotate(0 575.8 706.1)" fill="#3a90e8" opacity="0.7" filter="url(#b1)"/>
<ellipse cx="562.6" cy="649.5" rx="1" ry="1.4" transform="rotate(0 562.6 649.5)" fill="#3a90e8" opacity="0.7" filter="url(#b1)"/>
<ellipse cx="511.9" cy="711.6" rx="0.9" ry="0.8" transform="rotate(0 511.9 711.6)" fill="#3a90e8" opacity="0.7" filter="url(#b1)"/>
<ellipse cx="514.9" cy="713.5" rx="1.1" ry="0.9" transform="rotate(0 514.9 713.5)" fill="#3a90e8" opacity="0.7" filter="url(#b1)"/>
<ellipse cx="506.9" cy="622.1" rx="1.5" ry="1.4" transform="rotate(0 506.9 622.1)" fill="#3a90e8" opacity="0.7" filter="url(#b1)"/>
<ellipse cx="575.7" cy="693.7" rx="0.9" ry="1.4" transform="rotate(0 575.7 693.7)" fill="#3a90e8" opacity="0.7" filter="url(#b1)"/>
<ellipse cx="541.3" cy="702" rx="1.6" ry="1.7" transform="rotate(0 541.3 702)" fill="#3a90e8" opacity="0.7" filter="url(#b1)"/>
<ellipse cx="510.7" cy="707.2" rx="1.7" ry="1.7" transform="rotate(0 510.7 707.2)" fill="#3a90e8" opacity="0.7" filter="url(#b1)"/>
<ellipse cx="514.9" cy="639" rx="0.9" ry="0.8" transform="rotate(0 514.9 639)" fill="#3a90e8" opacity="0.7" filter="url(#b1)"/>
<ellipse cx="591.2" cy="701.4" rx="1.4" ry="1.6" transform="rotate(0 591.2 701.4)" fill="#3a90e8" opacity="0.7" filter="url(#b1)"/>
<ellipse cx="568.9" cy="647.4" rx="0.9" ry="0.9" transform="rotate(0 568.9 647.4)" fill="#3a90e8" opacity="0.7" filter="url(#b1)"/>
<ellipse cx="581.9" cy="638.9" rx="1.1" ry="1.2" transform="rotate(0 581.9 638.9)" fill="#3a90e8" opacity="0.7" filter="url(#b1)"/>
<ellipse cx="506.1" cy="644.2" rx="1.1" ry="1.5" transform="rotate(0 506.1 644.2)" fill="#3a90e8" opacity="0.7" filter="url(#b1)"/>
<ellipse cx="541.8" cy="650.8" rx="1.8" ry="1.3" transform="rotate(0 541.8 650.8)" fill="#3a90e8" opacity="0.7" filter="url(#b1)"/>
<ellipse cx="591.6" cy="681.5" rx="0.8" ry="1.2" transform="rotate(0 591.6 681.5)" fill="#3a90e8" opacity="0.7" filter="url(#b1)"/>
<ellipse cx="548.9" cy="697.4" rx="1.1" ry="1.5" transform="rotate(0 548.9 697.4)" fill="#3a90e8" opacity="0.7" filter="url(#b1)"/>
<ellipse cx="553.1" cy="648.7" rx="4.4" ry="4" transform="rotate(20 553.1 648.7)" fill="#28b8f8" opacity="0.9" filter="url(#b2)"/>
<ellipse cx="553.1" cy="648.7" rx="2.6" ry="2.2" transform="rotate(20 553.1 648.7)" fill="#80f098" opacity="1" filter="url(#b1)"/>
<ellipse cx="560.5" cy="662.1" rx="3.6" ry="4.4" transform="rotate(20 560.5 662.1)" fill="#28b8f8" opacity="0.9" filter="url(#b2)"/>
<ellipse cx="560.5" cy="662.1" rx="1.8" ry="2.6" transform="rotate(20 560.5 662.1)" fill="#80f098" opacity="1" filter="url(#b1)"/>
<ellipse cx="556" cy="668" rx="3.6" ry="4.4" transform="rotate(20 556 668)" fill="#28b8f8" opacity="0.9" filter="url(#b2)"/>
<ellipse cx="556" cy="668" rx="1.8" ry="2.6" transform="rotate(20 556 668)" fill="#80f098" opacity="1" filter="url(#b1)"/>
<ellipse cx="565.9" cy="669.6" rx="4.4" ry="3.4" transform="rotate(20 565.9 669.6)" fill="#28b8f8" opacity="0.9" filter="url(#b2)"/>
<ellipse cx="565.9" cy="669.6" rx="2.6" ry="1.6" transform="rotate(20 565.9 669.6)" fill="#80f098" opacity="1" filter="url(#b1)"/>
<ellipse cx="562" cy="680" rx="2.4" ry="3.2" transform="rotate(20 562 680)" fill="#2898f0" opacity="0.9" filter="url(#b2)"/>
<ellipse cx="562" cy="680" rx="1.4" ry="2.2" transform="rotate(20 562 680)" fill="#48d8f8" opacity="1" filter="url(#b1)"/>
<ellipse cx="562" cy="689.8" rx="2.4" ry="3.4" transform="rotate(20 562 689.8)" fill="#2898f0" opacity="0.9" filter="url(#b2)"/>
<ellipse cx="562" cy="689.8" rx="1.4" ry="2.4" transform="rotate(20 562 689.8)" fill="#48d8f8" opacity="1" filter="url(#b1)"/>
<ellipse cx="602.2" cy="690.4" rx="4" ry="3.6" transform="rotate(20 602.2 690.4)" fill="#2898f0" opacity="0.9" filter="url(#b2)"/>
<ellipse cx="602.2" cy="690.4" rx="3" ry="2.6" transform="rotate(20 602.2 690.4)" fill="#48d8f8" opacity="1" filter="url(#b1)"/>
<ellipse cx="597.8" cy="708.3" rx="2.4" ry="3" transform="rotate(20 597.8 708.3)" fill="#2898f0" opacity="0.9" filter="url(#b2)"/>
<ellipse cx="597.8" cy="708.3" rx="1.4" ry="2" transform="rotate(20 597.8 708.3)" fill="#48d8f8" opacity="1" filter="url(#b1)"/>
<ellipse cx="584.4" cy="622" rx="2" ry="2.4" transform="rotate(20 584.4 622)" fill="#2898f0" opacity="0.9" filter="url(#b2)"/>
<ellipse cx="584.4" cy="622" rx="1" ry="1.4" transform="rotate(20 584.4 622)" fill="#48d8f8" opacity="1" filter="url(#b1)"/>
<text x="502.5" y="716.2" font-size="11.3" style="font-weight:normal;fill:#fff;stroke:#fff;stroke-width:0.2px">20µm</text>
<rect x="504.4" y="719.9" width="18" height="2.2" fill="#fff"/>
</g>
<g clip-path="url(#cb5)">
<rect x="614" y="614.8" width="110.1" height="110.3" fill="#0a2682"/>
<rect x="614" y="614.8" width="110.1" height="110.3" fill="#000" filter="url(#fH6)"/>
<ellipse cx="672.4" cy="640.1" rx="1.7" ry="0.9" transform="rotate(0 672.4 640.1)" fill="#2868d0" opacity="0.5" filter="url(#b1)"/>
<ellipse cx="701.4" cy="635.3" rx="0.8" ry="1" transform="rotate(0 701.4 635.3)" fill="#2868d0" opacity="0.5" filter="url(#b1)"/>
<ellipse cx="695.5" cy="718.5" rx="0.8" ry="1.3" transform="rotate(0 695.5 718.5)" fill="#2868d0" opacity="0.5" filter="url(#b1)"/>
<ellipse cx="667.6" cy="699.9" rx="1" ry="1.3" transform="rotate(0 667.6 699.9)" fill="#2868d0" opacity="0.5" filter="url(#b1)"/>
<ellipse cx="652.8" cy="703.5" rx="1.1" ry="1.7" transform="rotate(0 652.8 703.5)" fill="#2868d0" opacity="0.5" filter="url(#b1)"/>
<ellipse cx="646.2" cy="639.9" rx="1.5" ry="1.3" transform="rotate(0 646.2 639.9)" fill="#2868d0" opacity="0.5" filter="url(#b1)"/>
<ellipse cx="628.3" cy="683.4" rx="0.9" ry="1.6" transform="rotate(0 628.3 683.4)" fill="#2868d0" opacity="0.5" filter="url(#b1)"/>
<ellipse cx="688.8" cy="698.9" rx="1.4" ry="1.2" transform="rotate(0 688.8 698.9)" fill="#2868d0" opacity="0.5" filter="url(#b1)"/>
<ellipse cx="658.3" cy="658.4" rx="1.7" ry="0.9" transform="rotate(0 658.3 658.4)" fill="#2868d0" opacity="0.5" filter="url(#b1)"/>
<ellipse cx="708.5" cy="620.4" rx="1" ry="1.1" transform="rotate(0 708.5 620.4)" fill="#2868d0" opacity="0.5" filter="url(#b1)"/>
<ellipse cx="709.8" cy="669.4" rx="1.2" ry="1.7" transform="rotate(0 709.8 669.4)" fill="#2868d0" opacity="0.5" filter="url(#b1)"/>
<ellipse cx="641.1" cy="665.3" rx="1.3" ry="1.6" transform="rotate(0 641.1 665.3)" fill="#2868d0" opacity="0.5" filter="url(#b1)"/>
<ellipse cx="694.6" cy="684.4" rx="1.1" ry="1.1" transform="rotate(0 694.6 684.4)" fill="#2868d0" opacity="0.5" filter="url(#b1)"/>
<ellipse cx="633" cy="704.6" rx="1.5" ry="1.5" transform="rotate(0 633 704.6)" fill="#2868d0" opacity="0.5" filter="url(#b1)"/>
<ellipse cx="634.5" cy="663" rx="1.6" ry="1.4" transform="rotate(0 634.5 663)" fill="#2868d0" opacity="0.5" filter="url(#b1)"/>
<ellipse cx="630" cy="665.4" rx="1.7" ry="1" transform="rotate(0 630 665.4)" fill="#2868d0" opacity="0.5" filter="url(#b1)"/>
<ellipse cx="636.7" cy="648.9" rx="1.5" ry="1.6" transform="rotate(0 636.7 648.9)" fill="#2868d0" opacity="0.5" filter="url(#b1)"/>
<ellipse cx="632.9" cy="633.9" rx="1" ry="1.1" transform="rotate(0 632.9 633.9)" fill="#2868d0" opacity="0.5" filter="url(#b1)"/>
<ellipse cx="670.8" cy="634.4" rx="1.1" ry="1" transform="rotate(0 670.8 634.4)" fill="#2868d0" opacity="0.5" filter="url(#b1)"/>
<ellipse cx="717.4" cy="692.9" rx="0.9" ry="1.8" transform="rotate(0 717.4 692.9)" fill="#2868d0" opacity="0.5" filter="url(#b1)"/>
<ellipse cx="627.5" cy="657.4" rx="1.8" ry="1.6" transform="rotate(0 627.5 657.4)" fill="#2868d0" opacity="0.5" filter="url(#b1)"/>
<ellipse cx="692.5" cy="662.6" rx="1" ry="1.4" transform="rotate(0 692.5 662.6)" fill="#2868d0" opacity="0.5" filter="url(#b1)"/>
<ellipse cx="667.2" cy="662.1" rx="5" ry="4.4" transform="rotate(15 667.2 662.1)" fill="#28b8f8" opacity="0.9" filter="url(#b2)"/>
<ellipse cx="667.2" cy="662.1" rx="3.2" ry="2.6" transform="rotate(15 667.2 662.1)" fill="#80f098" opacity="1" filter="url(#b1)"/>
<ellipse cx="670.7" cy="669.6" rx="3.4" ry="2.4" transform="rotate(15 670.7 669.6)" fill="#2898f0" opacity="0.9" filter="url(#b2)"/>
<ellipse cx="670.7" cy="669.6" rx="2.4" ry="1.4" transform="rotate(15 670.7 669.6)" fill="#48d8f8" opacity="1" filter="url(#b1)"/>
<ellipse cx="676.7" cy="677" rx="3.6" ry="5.4" transform="rotate(15 676.7 677)" fill="#28b8f8" opacity="0.9" filter="url(#b2)"/>
<ellipse cx="676.7" cy="677" rx="1.8" ry="3.6" transform="rotate(15 676.7 677)" fill="#80f098" opacity="1" filter="url(#b1)"/>
<ellipse cx="679.7" cy="686" rx="3.8" ry="3.8" transform="rotate(15 679.7 686)" fill="#30c8ff" opacity="0.9" filter="url(#b2)"/>
<ellipse cx="679.7" cy="686" rx="2.5" ry="2.5" transform="rotate(15 679.7 686)" fill="#70f0a0" opacity="1" filter="url(#b1)"/>
<ellipse cx="679.7" cy="686" rx="1.6" ry="1.6" transform="rotate(15 679.7 686)" fill="#f0e828" opacity="1" filter="url(#b1)"/>
<text x="615.6" y="716.2" font-size="11.3" style="font-weight:normal;fill:#fff;stroke:#fff;stroke-width:0.2px">20µm</text>
<rect x="617.5" y="719.9" width="18" height="2.2" fill="#fff"/>
</g>
<rect x="727.4" y="615" width="5.8" height="110.5" fill="url(#jet)" stroke="#30303a" stroke-width="0.7"/>
<text x="738" y="618.9" font-size="10.5" letter-spacing="0.2">500</text>
<text x="738" y="640.9" font-size="10.5" letter-spacing="0.2">400</text>
<text x="738" y="663.2" font-size="10.5" letter-spacing="0.2">300</text>
<text x="738" y="685.1" font-size="10.5" letter-spacing="0.2">200</text>
<text x="738" y="705.1" font-size="10.5" letter-spacing="0.2">100</text>
<text x="738" y="734.5" font-size="10.5" letter-spacing="0.2">0</text>
<text transform="translate(767.3,664.4) rotate(-90)" font-size="11.3" text-anchor="middle" textLength="68.5" lengthAdjust="spacingAndGlyphs">Traction (Pa)</text>
</svg>
</body></html>
